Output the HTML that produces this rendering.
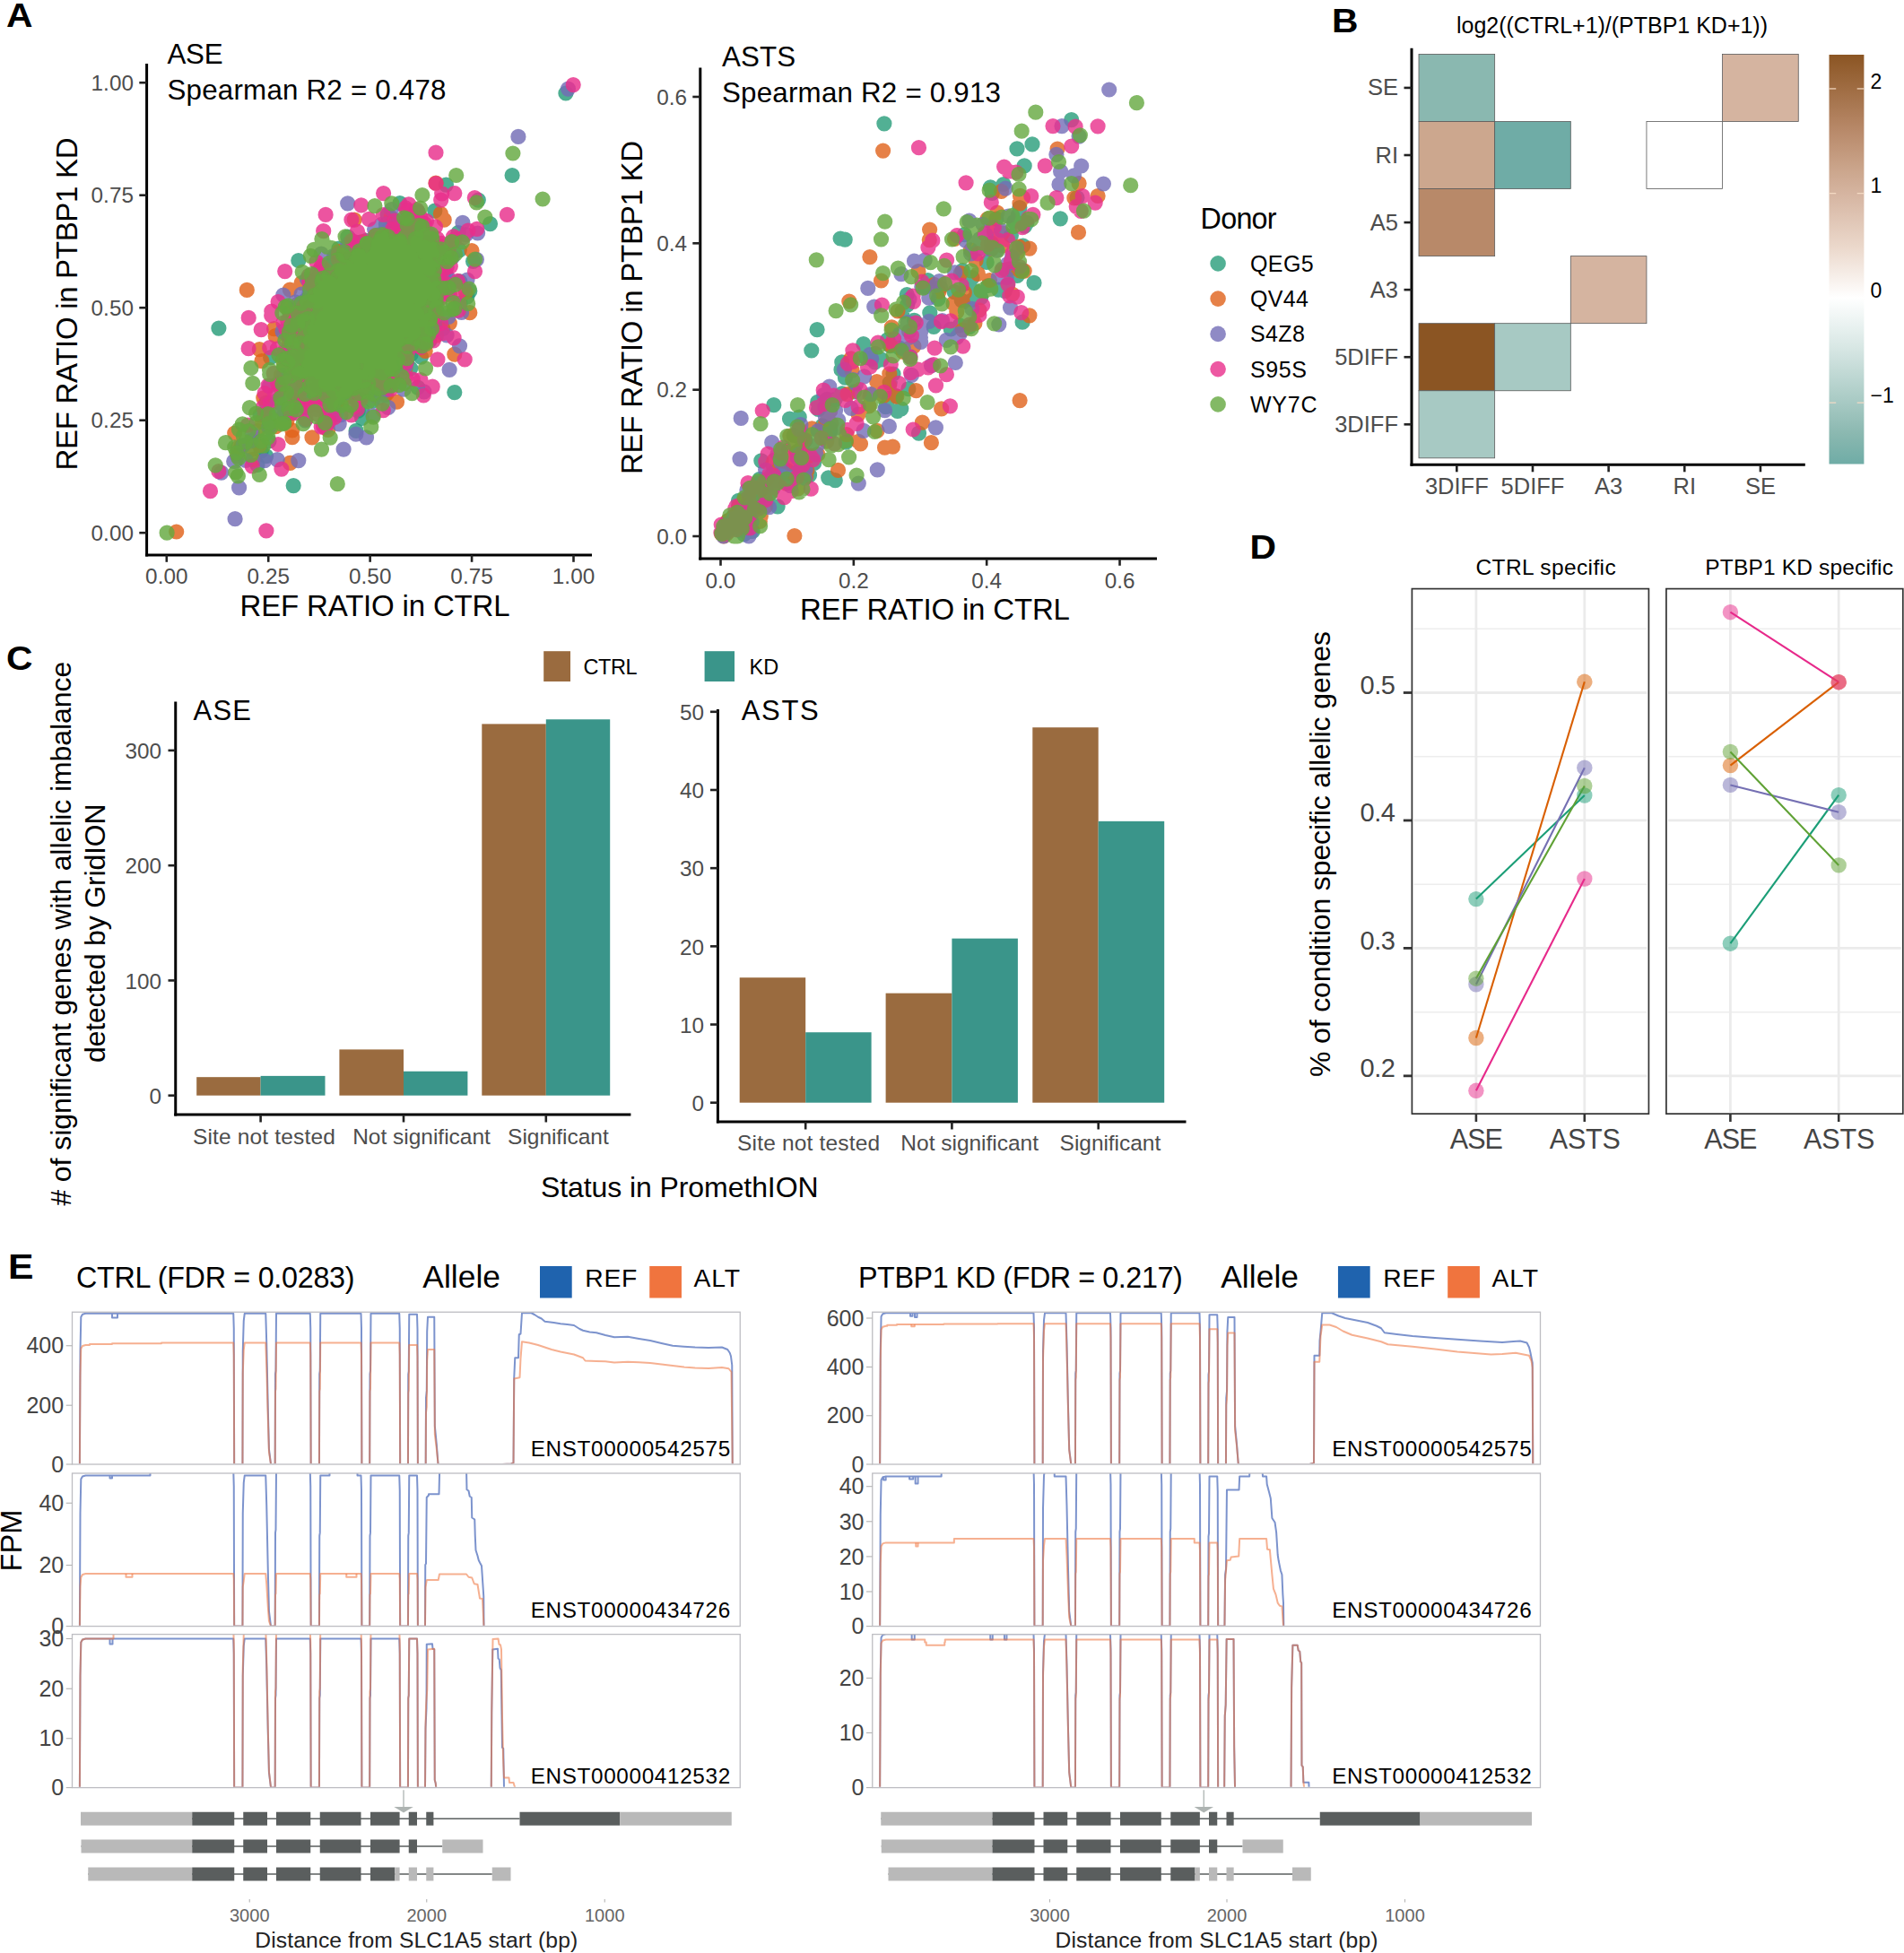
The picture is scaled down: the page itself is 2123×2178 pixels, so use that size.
<!DOCTYPE html>
<html><head><meta charset="utf-8"><title>Figure</title>
<style>html,body{margin:0;padding:0;background:#fff}svg{display:block}text{font-family:"Liberation Sans",sans-serif}</style>
</head><body>
<svg width="2123" height="2178" viewBox="0 0 2123 2178">
<rect width="2123" height="2178" fill="#fff"/>
<text x="7" y="29.5" font-size="37.5" font-weight="bold" textLength="29.5" lengthAdjust="spacingAndGlyphs" fill="#000">A</text>
<path d="M393.1 349.4h0M434.6 303.9h0M345.5 391.2h0M393.5 390.7h0M411.8 332.2h0M406.6 386.8h0M415.8 385.2h0M451.5 365.6h0M423.0 370.6h0M411.6 308.8h0M440.1 341.6h0M487.0 346.6h0M403.6 466.3h0M439.4 309.6h0M414.9 322.0h0M365.2 431.4h0M341.3 364.0h0M391.8 323.8h0M366.6 362.3h0M411.8 361.8h0M375.3 365.4h0M403.7 334.0h0M421.7 313.1h0M392.2 332.8h0M373.0 384.7h0M428.6 351.4h0M405.0 359.8h0M390.1 334.1h0M388.5 350.1h0M459.0 356.8h0M430.8 320.4h0M512.3 278.8h0M404.6 330.4h0M408.8 415.4h0M432.4 373.3h0M442.5 320.2h0M414.1 328.8h0M456.1 304.2h0M456.9 306.8h0M431.4 351.9h0M388.6 332.2h0M376.7 437.0h0M405.3 357.9h0M406.6 312.5h0M374.0 419.4h0M437.9 368.4h0M399.0 397.2h0M335.4 425.7h0M362.4 445.1h0M423.5 321.3h0M411.3 293.8h0M377.4 286.4h0M409.3 313.4h0M413.1 355.8h0M401.8 396.9h0M419.2 319.7h0M333.9 397.3h0M382.4 412.4h0M452.1 257.0h0M447.8 271.8h0M398.6 342.4h0M424.9 324.6h0M392.2 372.3h0M430.7 380.4h0M442.0 354.5h0M429.4 440.3h0M378.2 366.7h0M398.3 339.6h0M392.0 341.4h0M355.2 307.5h0M383.6 345.2h0M399.1 315.9h0M415.3 342.5h0M438.7 379.6h0M427.9 332.3h0M459.2 330.5h0M356.2 417.2h0M419.1 400.3h0M431.7 275.8h0M407.9 353.4h0M410.6 363.8h0M420.8 367.1h0M362.8 398.7h0M412.0 322.7h0M426.1 319.5h0M380.3 391.4h0M484.2 276.9h0M383.8 371.8h0M414.4 305.5h0M464.3 330.2h0M443.7 310.1h0M354.2 342.6h0M465.1 315.9h0M449.4 304.9h0M432.9 275.7h0M392.4 374.0h0M397.8 434.9h0M427.8 376.5h0M428.4 339.2h0M434.9 326.5h0M409.0 330.3h0M527.6 291.4h0M396.4 351.7h0M430.2 371.3h0M426.2 318.9h0M433.8 345.6h0M475.2 297.5h0M449.8 333.5h0M470.2 354.4h0M370.9 406.7h0M368.4 386.2h0M408.2 382.0h0M414.1 335.8h0M408.6 356.5h0M449.6 336.6h0M404.4 349.4h0M415.6 429.0h0M414.1 372.2h0M438.2 324.7h0M344.9 327.4h0M414.8 435.1h0M411.5 338.6h0M465.8 432.1h0M415.1 356.0h0M410.2 348.1h0M432.6 330.8h0M435.1 306.6h0M419.0 346.9h0M419.1 337.1h0M385.1 351.9h0M386.8 347.4h0M417.9 345.1h0M384.1 360.7h0M455.6 363.2h0M382.2 347.5h0M403.5 343.3h0M512.8 313.9h0M422.7 381.0h0M447.0 390.1h0M392.3 389.0h0M412.0 276.0h0M389.9 376.4h0M351.7 407.9h0M415.7 325.6h0M447.2 341.8h0M392.3 405.9h0M383.1 325.3h0M413.4 371.8h0M419.3 332.5h0M408.1 297.0h0M373.0 344.0h0M388.1 355.8h0M346.1 390.5h0M444.8 304.9h0M370.1 361.8h0M422.5 305.1h0M503.0 281.6h0M458.9 326.8h0M342.9 384.1h0M384.1 386.7h0M440.2 301.3h0M394.8 400.8h0M359.6 382.8h0M388.2 375.0h0M395.2 365.3h0M402.4 361.0h0M401.2 362.7h0M520.9 330.8h0M335.1 434.5h0M428.0 313.9h0M426.7 353.2h0M385.5 381.6h0M420.9 420.2h0M406.1 386.2h0M445.9 226.5h0M450.0 307.1h0M416.1 357.4h0M388.1 409.5h0M400.9 392.2h0M410.2 358.4h0M391.4 317.4h0M421.8 262.1h0M469.7 334.2h0M392.2 387.4h0M369.4 307.1h0M445.6 282.4h0M397.8 310.2h0M386.3 345.7h0M465.0 282.7h0M403.5 339.0h0M426.4 409.4h0M441.6 364.1h0M416.4 348.7h0M426.9 369.1h0M401.6 409.2h0M427.8 409.8h0M393.9 312.4h0M435.3 260.2h0M421.4 394.3h0M348.4 364.6h0M494.1 303.9h0M469.8 344.1h0M415.9 332.8h0M430.6 322.4h0M449.0 316.2h0M351.3 392.2h0M425.0 347.6h0M469.5 398.1h0M403.4 313.3h0M393.0 342.3h0M438.6 280.6h0M375.5 367.3h0M402.1 328.5h0M392.4 324.8h0M381.4 354.1h0M407.4 314.1h0M435.9 341.3h0M410.7 329.8h0M390.5 349.9h0M422.1 311.8h0M398.3 307.7h0M348.7 379.1h0M414.9 300.2h0M381.5 416.8h0M446.7 373.1h0M369.6 343.7h0M405.9 379.7h0M419.6 427.6h0M328.4 440.7h0M451.7 320.6h0M371.1 402.0h0M393.0 308.5h0M399.1 352.6h0M356.6 382.9h0M452.2 320.4h0M420.8 284.7h0M372.6 286.8h0M383.4 375.7h0M436.2 347.3h0M456.4 295.0h0M361.2 382.7h0M448.8 277.0h0M409.5 357.3h0M417.0 328.8h0M472.1 320.3h0M415.7 423.2h0M369.5 412.8h0M401.5 338.0h0M375.1 389.9h0M368.8 389.1h0M423.4 339.4h0M423.3 425.5h0M419.5 346.6h0M372.1 360.0h0M366.3 377.7h0M387.6 378.6h0M383.3 350.2h0M447.8 289.3h0M428.8 327.8h0M458.3 325.3h0M414.0 373.2h0M408.9 341.8h0M463.3 355.3h0M378.9 346.9h0M422.2 331.5h0M437.4 315.0h0M394.2 359.6h0M453.6 297.5h0M411.5 343.5h0M447.8 283.5h0M400.7 410.8h0M412.3 354.7h0M363.9 341.8h0M366.2 361.9h0M362.1 361.5h0M469.8 305.6h0M429.1 405.1h0M400.1 384.7h0M385.2 434.9h0M364.2 378.9h0M468.3 361.4h0M423.7 421.5h0M394.7 301.6h0M388.2 370.7h0M437.0 278.6h0M452.3 335.2h0M402.3 300.1h0M410.9 339.7h0M425.2 357.3h0M484.8 235.2h0M435.9 364.7h0M404.8 345.5h0M369.1 430.2h0M397.7 390.6h0M401.4 444.0h0M511.1 259.5h0M486.0 314.2h0M403.8 457.4h0M414.1 378.6h0M399.8 341.3h0M324.6 461.1h0M327.7 435.2h0M296.7 449.1h0M316.3 433.9h0" stroke="#279C79" stroke-width="17.2" stroke-linecap="round" fill="none" stroke-opacity="0.82"/>
<path d="M409.9 364.8h0M435.7 310.0h0M415.5 323.3h0M420.1 341.1h0M358.1 339.4h0M402.4 364.7h0M371.7 344.5h0M386.7 323.1h0M426.0 334.8h0M445.3 293.8h0M421.6 391.5h0M363.4 396.3h0M434.9 353.0h0M409.2 333.6h0M340.1 379.4h0M469.7 357.6h0M429.3 334.7h0M399.1 381.8h0M461.6 309.0h0M471.0 322.6h0M426.7 294.7h0M399.9 351.3h0M462.6 274.9h0M393.2 354.7h0M417.4 332.2h0M474.2 259.8h0M340.4 454.5h0M406.6 291.6h0M493.8 366.3h0M392.5 320.9h0M378.3 323.3h0M442.1 324.4h0M395.0 433.4h0M432.8 292.2h0M402.1 292.7h0M326.0 390.9h0M473.6 319.3h0M369.1 356.2h0M351.0 437.7h0M394.1 334.5h0M422.8 267.3h0M332.7 397.2h0M388.7 366.5h0M428.9 382.6h0M424.4 300.2h0M377.2 417.4h0M368.1 405.9h0M429.1 411.4h0M427.7 349.8h0M436.5 291.6h0M410.8 370.3h0M370.1 369.0h0M385.8 383.8h0M387.7 392.9h0M466.0 236.1h0M451.1 284.1h0M433.3 353.5h0M415.3 337.0h0M401.5 418.7h0M380.0 375.7h0M391.6 378.3h0M385.8 346.2h0M404.2 351.4h0M402.4 315.3h0M354.1 415.0h0M349.8 355.3h0M421.4 330.1h0M439.8 274.3h0M381.2 339.7h0M450.6 312.2h0M438.8 316.8h0M432.7 323.2h0M390.1 345.5h0M436.4 405.7h0M430.9 386.9h0M440.0 393.3h0M462.6 364.0h0M406.5 344.7h0M382.0 406.0h0M455.2 365.3h0M423.2 368.0h0M457.7 410.8h0M441.2 373.0h0M425.7 368.9h0M415.4 402.6h0M394.1 365.6h0M440.1 310.3h0M382.9 283.5h0M428.2 336.2h0M376.8 300.0h0M381.9 373.5h0M458.5 292.8h0M439.2 337.0h0M375.1 358.0h0M351.3 323.3h0M325.1 375.6h0M453.4 319.3h0M438.8 378.5h0M381.0 378.7h0M410.2 380.9h0M386.5 289.4h0M391.9 365.4h0M397.1 333.6h0M367.9 374.3h0M427.2 335.3h0M393.1 339.3h0M417.5 348.7h0M410.1 351.5h0M434.6 327.6h0M464.9 310.6h0M451.3 283.8h0M415.2 321.6h0M376.3 399.8h0M379.8 342.0h0M398.0 333.4h0M366.5 402.1h0M406.5 344.2h0M454.5 365.4h0M432.0 353.1h0M391.3 372.6h0M412.7 314.0h0M430.3 311.3h0M441.2 330.1h0M412.0 384.6h0M387.7 338.6h0M348.8 361.6h0M333.9 372.7h0M346.7 384.9h0M437.2 334.8h0M456.3 311.8h0M458.4 292.0h0M392.0 324.3h0M370.1 377.3h0M462.2 355.2h0M420.4 355.8h0M441.3 302.6h0M401.2 343.8h0M393.5 326.7h0M411.2 368.4h0M421.7 365.7h0M395.7 386.1h0M451.7 359.7h0M481.1 346.6h0M452.6 310.2h0M373.9 320.1h0M397.9 325.4h0M409.6 375.1h0M390.9 347.2h0M366.4 369.9h0M381.9 365.8h0M375.9 357.0h0M420.5 367.2h0M338.2 387.3h0M402.6 432.4h0M412.4 320.7h0M483.3 369.1h0M400.1 361.4h0M428.3 352.0h0M430.0 351.4h0M415.9 321.7h0M416.1 355.8h0M404.8 383.5h0M374.1 378.7h0M448.1 380.0h0M417.0 310.2h0M408.5 366.3h0M382.5 384.8h0M439.5 394.1h0M431.3 338.8h0M422.4 361.6h0M345.6 428.9h0M425.5 326.5h0M405.9 290.8h0M453.8 338.2h0M404.4 388.9h0M353.6 362.2h0M433.2 353.3h0M408.6 350.4h0M352.0 427.2h0M437.3 318.1h0M400.6 377.6h0M400.1 338.7h0M383.1 363.8h0M407.7 390.6h0M438.4 303.2h0M445.2 305.2h0M370.0 401.4h0M456.5 269.2h0M430.9 374.1h0M405.9 344.1h0M419.6 372.4h0M378.9 327.1h0M394.9 337.8h0M441.1 340.4h0M415.4 447.0h0M355.4 389.6h0M447.0 263.2h0M392.5 352.4h0M424.6 399.8h0M473.0 357.9h0M417.7 324.0h0M401.1 421.3h0M424.3 363.1h0M371.1 331.0h0M455.9 344.4h0M359.8 356.1h0M428.6 352.8h0M443.5 310.0h0M349.1 357.4h0M421.2 385.5h0M425.7 403.5h0M425.1 344.8h0M451.5 331.2h0M368.9 414.0h0M411.1 281.9h0M441.0 369.9h0M404.0 324.5h0M393.7 332.6h0M461.6 300.6h0M465.4 293.2h0M417.7 324.0h0M419.7 386.8h0M353.1 379.2h0M385.4 365.8h0M459.9 343.4h0M423.6 309.4h0M372.2 374.4h0M402.1 303.8h0M440.0 302.9h0M426.1 299.0h0M447.8 352.0h0M351.5 375.4h0M386.7 336.2h0M384.6 354.5h0M386.6 303.7h0M450.9 359.0h0M363.4 357.9h0M399.0 370.8h0M384.2 358.9h0M392.0 341.2h0M410.9 384.3h0M471.4 320.0h0M478.4 262.4h0M382.4 310.4h0M405.3 278.5h0M459.3 372.0h0M339.6 401.4h0M400.0 362.4h0M363.6 427.1h0M413.9 417.1h0M404.2 404.1h0M322.9 348.9h0M428.7 387.6h0M366.4 414.6h0M435.8 352.1h0M333.6 446.6h0M374.3 339.6h0M453.8 334.5h0M458.0 322.0h0M398.1 405.4h0M412.8 388.8h0M462.4 382.5h0M395.3 381.2h0M402.6 437.3h0M447.9 358.2h0M377.7 444.4h0M408.5 376.2h0M430.4 250.1h0M420.3 370.2h0M434.3 404.2h0M334.0 417.1h0M449.8 298.2h0M406.5 282.1h0M359.0 387.6h0M404.2 390.4h0M394.8 383.7h0M368.0 350.4h0M338.1 397.8h0M433.5 355.9h0M471.7 359.7h0M396.2 382.5h0M396.7 352.2h0M435.5 333.8h0M376.9 319.3h0M427.2 361.6h0M368.2 392.4h0M367.1 360.3h0M438.9 317.7h0M398.6 387.2h0M449.3 341.3h0M468.1 306.3h0M404.4 332.2h0M330.2 419.1h0M430.7 252.7h0M413.2 384.8h0M406.5 343.5h0M420.2 350.4h0M422.0 328.8h0M386.9 417.7h0M391.5 370.1h0M300.0 492.0h0M287.0 518.3h0M268.9 498.4h0" stroke="#279C79" stroke-width="17.2" stroke-linecap="round" fill="none" stroke-opacity="0.82"/>
<path d="M387.4 387.1h0M418.3 333.4h0M394.7 443.7h0M437.9 345.5h0M403.5 307.8h0M424.0 324.0h0M382.2 373.8h0M358.0 426.6h0M351.8 384.8h0M438.9 372.4h0M392.5 394.7h0M441.2 289.4h0M359.0 370.0h0M444.8 283.4h0M428.0 307.3h0M385.4 336.8h0M407.3 326.6h0M440.2 314.2h0M372.8 401.0h0M471.5 332.4h0M417.7 336.0h0M427.0 330.9h0M405.1 372.9h0M513.2 338.2h0M385.2 352.6h0M396.2 371.8h0M462.2 339.1h0M367.7 416.5h0M469.9 341.9h0M402.4 352.1h0M446.5 320.4h0M400.7 332.2h0M446.8 348.6h0M471.3 318.5h0M354.5 350.5h0M419.2 366.0h0M414.8 282.0h0M411.3 344.3h0M340.7 398.5h0M387.1 321.7h0M373.9 356.4h0M374.8 393.5h0M461.6 288.0h0M373.6 348.6h0M395.1 334.5h0M448.1 330.1h0M369.1 384.2h0M436.8 331.2h0M418.7 309.0h0M463.6 376.5h0M500.7 318.7h0M467.6 288.0h0M403.0 324.2h0M434.4 317.9h0M478.8 380.2h0M398.4 342.7h0M414.1 269.1h0M417.5 383.8h0M440.9 272.3h0M362.0 440.1h0M416.5 327.4h0M427.7 365.4h0M407.0 347.3h0M426.7 339.5h0M369.1 368.2h0M425.6 391.1h0M439.9 285.5h0M461.0 336.9h0M410.2 312.1h0M363.1 296.1h0M372.8 387.3h0M424.8 310.6h0M391.8 399.6h0M379.6 363.0h0M453.6 277.4h0M415.1 305.2h0M377.8 434.9h0M415.3 314.9h0M400.3 408.7h0M374.8 393.9h0M424.0 319.5h0M381.1 383.9h0M409.1 365.6h0M407.4 357.0h0M413.8 378.3h0M433.6 340.9h0M488.6 359.4h0M395.1 314.2h0M445.9 354.6h0M403.5 358.1h0M413.6 316.5h0M426.4 350.0h0M376.4 360.4h0M403.0 346.3h0M395.4 335.0h0M473.5 327.7h0M414.6 359.0h0M402.4 347.1h0M366.2 336.4h0M389.9 390.1h0M389.6 374.8h0M407.0 337.3h0M372.4 433.6h0M379.3 360.6h0M370.0 400.0h0M372.5 368.3h0M449.1 291.3h0M331.0 383.4h0M416.4 328.0h0M406.8 413.0h0M374.5 297.9h0M403.4 409.0h0M385.7 360.3h0M457.9 310.0h0M461.8 306.1h0M383.6 366.7h0M377.3 352.0h0M391.1 374.5h0M387.1 307.3h0M395.7 324.4h0M377.9 277.0h0M482.6 317.9h0M395.8 276.1h0M379.7 359.8h0M427.5 336.5h0M442.3 353.7h0M402.9 321.5h0M416.8 355.4h0M450.5 394.5h0M376.4 323.5h0M459.7 322.5h0M492.7 281.5h0M432.4 336.5h0M400.8 385.8h0M395.8 300.6h0M325.1 345.6h0M425.6 304.1h0M398.5 408.7h0M437.0 349.1h0M396.3 335.4h0M301.6 398.7h0M424.4 335.2h0M429.8 318.7h0M443.7 328.7h0M426.4 338.5h0M412.7 325.6h0M435.0 318.8h0M444.0 362.5h0M408.7 367.1h0M340.4 335.0h0M523.8 324.6h0M471.4 274.9h0M390.8 367.8h0M430.5 295.2h0M350.5 434.7h0M405.8 335.1h0M444.7 329.0h0M428.3 359.0h0M397.2 324.1h0M441.2 404.1h0M426.2 350.1h0M364.4 378.1h0M446.4 299.3h0M389.6 368.5h0M425.4 307.8h0M438.3 391.2h0M428.5 336.2h0M387.8 264.2h0M469.6 376.2h0M438.3 338.3h0M401.7 328.8h0M408.2 268.3h0M421.5 302.7h0M376.8 433.1h0M431.5 357.6h0M389.2 366.5h0M399.2 458.2h0M424.2 329.2h0M414.3 323.5h0M420.6 313.7h0M402.2 394.4h0M429.0 294.1h0M450.1 299.1h0M466.1 311.3h0M384.7 363.7h0M429.3 336.9h0M428.4 353.8h0M449.7 370.3h0M429.8 374.5h0M358.1 351.7h0M387.8 392.6h0M433.2 330.2h0M454.0 401.7h0M372.8 302.4h0M348.7 408.3h0M394.9 384.8h0M411.0 342.1h0M417.7 339.8h0M435.6 297.8h0M448.4 271.1h0M413.0 340.4h0M405.8 382.0h0M379.2 347.1h0M380.6 358.4h0M436.0 311.8h0M393.8 377.4h0M429.8 327.4h0M356.7 410.4h0M359.7 308.7h0M424.8 294.9h0M404.4 386.6h0M418.2 347.7h0M339.1 374.4h0M438.9 378.4h0M412.2 408.4h0M417.9 308.0h0M429.6 406.6h0M394.9 372.6h0M440.7 249.4h0M427.6 375.7h0M401.3 354.3h0M404.4 393.0h0M447.4 331.6h0M439.0 403.3h0M406.7 391.6h0M449.5 370.4h0M402.5 390.4h0M434.3 364.1h0M408.9 289.4h0M373.5 411.8h0M325.6 395.9h0M432.1 239.3h0M438.9 313.2h0M386.8 309.4h0M386.4 360.7h0M368.9 389.3h0M465.0 357.3h0M439.6 350.6h0M388.2 364.8h0M378.9 341.8h0M478.2 306.5h0M417.2 280.4h0M410.2 377.8h0M391.7 352.6h0M392.1 419.3h0M396.9 304.7h0M394.0 381.5h0M392.3 367.3h0M464.6 283.1h0M374.8 361.5h0M444.9 299.3h0M378.4 391.9h0M347.3 353.5h0M398.0 321.1h0M441.5 352.1h0M409.4 414.3h0M401.9 416.8h0M428.8 317.8h0M410.8 413.3h0M421.9 391.3h0M420.3 358.6h0M410.1 385.0h0M381.5 342.6h0M437.5 300.0h0M448.2 328.6h0M445.8 314.5h0M410.6 344.3h0M439.9 270.4h0M420.8 365.7h0M416.8 360.8h0M358.8 301.7h0M422.4 352.3h0M399.6 362.2h0M415.1 284.9h0M349.7 373.4h0M464.0 244.3h0M469.8 291.6h0M358.3 367.1h0M432.9 323.6h0M453.9 277.8h0M469.8 342.5h0M372.7 420.7h0M394.1 410.0h0M439.4 362.1h0M375.6 435.6h0M405.8 330.3h0M368.3 371.0h0M425.9 295.0h0M405.0 358.2h0M395.9 381.6h0M486.7 359.9h0M415.4 337.8h0M423.1 344.0h0M383.9 327.2h0M390.5 366.3h0M391.5 333.4h0M450.2 368.8h0M458.1 395.2h0M420.2 315.8h0M400.9 338.3h0M296.7 508.6h0M290.1 462.8h0M300.3 462.7h0" stroke="#279C79" stroke-width="17.2" stroke-linecap="round" fill="none" stroke-opacity="0.82"/>
<path d="M630.9 104.0h0M571.1 195.5h0M497.4 206.1h0M533.3 223.1h0M546.5 249.6h0M243.9 366.1h0M506.8 437.6h0M327.2 541.6h0M291.2 503.0h0M397.1 480.3h0M332.8 290.5h0" stroke="#279C79" stroke-width="17.2" stroke-linecap="round" fill="none" stroke-opacity="0.82"/>
<path d="M410.6 322.3h0M346.5 342.6h0M412.1 374.3h0M307.1 374.5h0M422.4 345.4h0M436.2 356.7h0M403.7 316.7h0M401.7 294.7h0M398.2 396.7h0M448.5 357.8h0M415.0 359.4h0M405.1 356.7h0M398.4 290.8h0M444.9 308.2h0M469.3 359.0h0M450.5 270.6h0M405.5 358.5h0M374.8 314.3h0M446.6 301.4h0M464.3 336.4h0M398.0 344.0h0M413.2 303.0h0M374.2 365.0h0M432.1 363.2h0M472.0 366.5h0M487.6 285.1h0M401.0 365.0h0M466.1 298.6h0M419.5 347.4h0M358.1 438.2h0M438.0 328.6h0M450.3 317.3h0M414.2 330.3h0M428.8 300.7h0M395.3 304.5h0M389.0 346.5h0M436.1 317.3h0M336.1 315.5h0M447.0 340.5h0M417.7 322.7h0M361.1 358.0h0M438.7 387.4h0M428.6 340.5h0M335.1 438.6h0M399.9 389.2h0M366.2 368.7h0M378.8 388.1h0M403.6 367.8h0M432.7 331.6h0M388.0 397.1h0M378.0 394.8h0M330.8 361.7h0M365.6 371.9h0M362.6 385.5h0M407.7 321.0h0M463.6 327.8h0M410.5 321.2h0M402.4 402.5h0M349.0 383.8h0M452.9 347.7h0M378.5 327.2h0M414.9 328.2h0M361.8 419.5h0M430.5 364.2h0M437.1 265.0h0M454.4 268.3h0M404.6 344.7h0M435.3 354.4h0M392.6 329.5h0M355.7 408.2h0M436.9 325.5h0M397.6 357.0h0M404.3 325.4h0M410.7 294.8h0M345.8 399.1h0M324.0 378.0h0M392.7 365.1h0M384.9 357.2h0M376.1 395.8h0M394.4 384.9h0M366.3 346.3h0M400.5 347.4h0M385.3 338.0h0M414.7 320.2h0M359.2 378.7h0M406.5 374.9h0M417.0 339.8h0M430.7 317.7h0M420.2 371.1h0M464.6 350.2h0M427.0 321.7h0M418.5 359.2h0M399.7 345.2h0M442.6 392.7h0M369.0 377.6h0M428.3 403.4h0M393.1 380.0h0M394.8 347.7h0M381.0 390.1h0M414.6 302.9h0M406.4 300.2h0M418.0 318.5h0M396.8 304.0h0M390.0 355.2h0M434.9 287.5h0M388.1 366.1h0M395.5 440.2h0M454.1 286.1h0M484.3 343.5h0M390.9 349.7h0M346.4 367.7h0M456.9 356.0h0M410.3 320.7h0M320.5 417.9h0M411.4 352.6h0M373.8 332.7h0M414.1 415.3h0M392.5 387.3h0M480.5 284.2h0M420.5 352.7h0M448.7 319.6h0M426.7 326.5h0M365.5 363.4h0M416.2 326.1h0M401.5 342.2h0M391.1 318.5h0M396.8 357.8h0M420.5 359.8h0M389.1 359.6h0M418.6 355.5h0M400.2 327.7h0M454.2 338.3h0M356.1 354.3h0M451.4 405.6h0M370.9 420.8h0M401.8 317.4h0M428.4 280.3h0M391.2 357.3h0M416.0 346.3h0M417.7 352.9h0M391.8 369.0h0M425.6 315.2h0M407.7 318.5h0M447.7 304.4h0M423.0 329.0h0M382.6 328.4h0M376.3 418.4h0M383.1 356.8h0M363.1 338.4h0M388.3 390.5h0M380.6 381.3h0M467.4 279.1h0M409.4 338.1h0M441.6 328.6h0M362.7 468.5h0M431.7 305.1h0M409.1 323.3h0M387.2 429.7h0M405.5 366.8h0M401.9 311.7h0M359.6 348.1h0M431.5 310.1h0M400.6 381.3h0M420.7 339.6h0M410.5 330.9h0M378.9 401.7h0M424.0 367.5h0M474.2 391.4h0M411.1 345.6h0M432.2 326.9h0M433.9 304.2h0M411.4 328.0h0M428.3 360.8h0M440.8 359.7h0M437.7 293.7h0M332.2 392.2h0M387.5 332.5h0M323.3 323.1h0M437.1 343.7h0M345.7 419.3h0M376.5 433.2h0M431.7 346.0h0M436.9 244.7h0M418.1 326.6h0M436.7 405.8h0M412.3 359.4h0M491.4 238.3h0M415.3 310.9h0M396.2 367.6h0M377.8 280.4h0M402.1 344.5h0M405.5 351.8h0M431.0 439.2h0M316.9 405.8h0M413.4 347.2h0M385.0 358.8h0M421.5 344.9h0M332.2 339.1h0M365.7 479.5h0M422.2 378.2h0M402.7 398.5h0M359.4 399.8h0M452.8 323.5h0M404.1 288.1h0M420.4 348.2h0M410.9 323.4h0M396.0 362.4h0M354.1 407.1h0M391.0 377.8h0M398.0 312.5h0M387.9 349.0h0M400.2 320.0h0M377.8 374.9h0M437.1 355.9h0M461.0 302.8h0M430.2 368.8h0M444.7 300.8h0M343.4 415.4h0M415.2 406.5h0M449.1 377.4h0M415.5 333.7h0M423.7 382.5h0M464.4 287.6h0M495.2 245.2h0M452.8 342.6h0M471.2 335.7h0M387.3 387.6h0M428.8 356.0h0M385.3 389.6h0M369.3 334.5h0M340.9 403.5h0M423.3 347.9h0M442.5 360.2h0M428.2 350.0h0M471.8 380.3h0M414.0 369.2h0M391.2 343.6h0M441.3 334.0h0M401.4 354.4h0M425.5 306.3h0M426.1 351.3h0M386.4 341.0h0M348.9 415.6h0M361.9 318.8h0M377.8 454.4h0M376.3 350.7h0M400.1 347.4h0M395.8 394.9h0M417.5 300.9h0M403.7 269.5h0M411.2 334.5h0M420.0 307.1h0M401.4 320.3h0M349.7 423.8h0M382.8 411.4h0M435.2 313.0h0M398.3 379.8h0M385.4 322.6h0M437.1 354.9h0M445.5 325.1h0M413.1 369.5h0M325.8 349.3h0M463.3 379.6h0M467.2 345.2h0M459.0 306.7h0M468.0 322.1h0M463.6 354.2h0M427.2 337.9h0M399.8 335.0h0M420.1 400.9h0M474.0 303.8h0M367.6 352.9h0M423.4 333.1h0M388.6 351.1h0M422.0 319.1h0M422.3 292.1h0M441.8 324.1h0M369.5 368.3h0M428.8 351.1h0M349.7 400.8h0M450.6 342.0h0M434.2 295.1h0M405.1 387.6h0M318.5 371.5h0M354.1 394.5h0M393.9 349.7h0M405.2 363.0h0M428.2 364.9h0M452.4 361.3h0M396.1 342.6h0M414.9 305.8h0M400.8 349.0h0M404.7 323.5h0M418.5 320.2h0M388.2 287.5h0M393.6 348.1h0M426.2 366.2h0M405.9 380.3h0M332.3 362.9h0M440.4 379.4h0M319.9 469.4h0M289.2 496.6h0M265.0 499.4h0M293.8 443.8h0" stroke="#E0621A" stroke-width="17.2" stroke-linecap="round" fill="none" stroke-opacity="0.82"/>
<path d="M439.1 349.3h0M436.1 242.4h0M384.5 376.5h0M477.1 272.7h0M422.7 371.3h0M410.6 348.4h0M434.8 337.4h0M418.2 368.9h0M394.5 340.9h0M406.8 340.0h0M436.3 355.8h0M450.1 329.6h0M390.2 355.8h0M369.6 381.9h0M363.2 346.0h0M449.4 318.7h0M433.4 329.6h0M421.6 333.8h0M389.8 399.1h0M421.9 330.9h0M391.5 360.2h0M421.5 363.1h0M449.2 348.7h0M394.6 330.9h0M467.1 359.5h0M390.4 329.8h0M369.6 378.5h0M458.9 316.5h0M407.7 379.9h0M404.5 380.1h0M369.9 340.8h0M385.2 333.1h0M383.4 340.7h0M454.0 348.4h0M368.9 386.8h0M393.9 320.0h0M435.1 345.4h0M364.5 334.7h0M429.8 311.6h0M464.5 304.3h0M393.2 426.6h0M434.2 370.9h0M413.5 349.9h0M391.9 392.0h0M373.3 380.7h0M379.9 361.9h0M405.3 323.4h0M441.1 332.4h0M334.3 399.2h0M470.3 315.0h0M416.5 382.4h0M415.6 391.2h0M374.6 432.6h0M437.5 319.5h0M469.1 291.8h0M501.3 360.3h0M377.6 393.3h0M305.6 366.7h0M367.2 340.7h0M412.0 373.4h0M325.8 479.8h0M420.3 359.2h0M393.1 421.6h0M422.1 375.8h0M395.8 387.6h0M370.6 451.6h0M478.1 305.7h0M380.7 451.0h0M419.7 369.3h0M399.3 337.6h0M400.7 370.2h0M424.1 278.7h0M405.9 344.7h0M421.3 319.2h0M426.8 354.9h0M383.4 281.6h0M418.7 372.8h0M403.1 377.9h0M371.2 324.5h0M395.7 356.6h0M423.7 300.2h0M389.8 346.8h0M470.6 319.2h0M448.1 294.0h0M417.3 373.2h0M430.3 264.6h0M409.6 327.5h0M407.8 374.3h0M358.2 386.8h0M402.9 347.3h0M427.9 281.3h0M418.6 381.2h0M445.9 323.4h0M403.5 392.7h0M428.4 339.0h0M383.7 328.9h0M429.3 313.7h0M426.4 393.0h0M442.3 328.4h0M353.0 350.9h0M396.5 394.8h0M387.7 355.4h0M393.9 363.6h0M413.0 344.9h0M450.6 309.8h0M407.4 355.7h0M409.7 378.2h0M437.0 349.4h0M406.0 290.8h0M437.1 352.4h0M405.4 344.3h0M494.4 308.8h0M403.8 367.0h0M414.5 339.4h0M473.1 346.9h0M381.9 388.6h0M431.3 340.4h0M406.9 338.0h0M501.6 329.0h0M416.2 396.2h0M408.6 381.6h0M415.5 386.5h0M367.6 375.2h0M454.1 333.2h0M391.5 379.4h0M421.8 303.8h0M342.2 400.0h0M458.6 297.5h0M452.8 314.1h0M394.2 328.9h0M421.8 380.5h0M480.8 310.0h0M420.0 411.6h0M414.5 358.4h0M432.1 261.6h0M452.2 349.1h0M402.5 310.2h0M452.9 337.7h0M392.1 352.1h0M400.2 291.0h0M442.7 347.7h0M383.5 294.2h0M367.9 389.8h0M404.0 350.8h0M412.8 377.8h0M347.1 444.7h0M469.1 333.9h0M464.5 369.7h0M431.0 377.1h0M428.4 315.0h0M397.2 335.2h0M374.1 380.3h0M386.8 344.0h0M456.3 323.0h0M353.1 361.0h0M438.4 337.8h0M417.6 370.9h0M409.1 374.9h0M468.6 362.8h0M459.3 335.8h0M408.6 387.9h0M441.9 296.4h0M405.0 355.5h0M395.4 413.4h0M420.0 357.7h0M379.9 408.1h0M430.2 397.5h0M383.4 372.8h0M364.2 396.1h0M419.3 358.7h0M397.2 375.6h0M448.6 401.4h0M446.9 313.0h0M345.0 345.7h0M340.7 384.0h0M458.0 314.6h0M399.8 334.7h0M393.8 316.2h0M446.7 387.1h0M408.8 297.6h0M386.8 293.0h0M519.4 325.8h0M471.8 272.3h0M412.8 364.8h0M418.5 342.5h0M389.7 376.2h0M350.0 342.2h0M403.1 300.8h0M371.8 356.7h0M466.3 330.8h0M437.6 304.7h0M420.3 396.5h0M464.7 334.6h0M376.2 363.8h0M386.2 440.6h0M405.9 335.9h0M417.5 377.7h0M458.4 293.4h0M387.4 318.1h0M375.2 402.1h0M391.0 315.8h0M380.6 392.7h0M378.7 396.2h0M363.3 391.6h0M345.4 373.1h0M421.3 313.6h0M291.9 402.6h0M422.2 360.9h0M379.4 359.2h0M423.1 326.1h0M424.1 350.6h0M446.7 364.7h0M420.4 373.6h0M364.9 367.6h0M360.0 365.1h0M380.4 394.4h0M373.9 383.0h0M370.7 379.5h0M400.3 355.5h0M416.3 323.3h0M436.0 375.4h0M442.4 290.7h0M429.5 345.3h0M392.0 339.6h0M381.5 388.1h0M435.9 346.2h0M372.6 384.6h0M454.7 324.5h0M393.5 385.7h0M447.4 360.9h0M432.1 308.8h0M402.2 375.7h0M415.9 401.0h0M434.1 337.0h0M359.3 379.4h0M442.1 290.2h0M396.5 385.6h0M428.7 349.6h0M361.2 367.3h0M426.4 376.6h0M526.0 279.5h0M433.0 373.9h0M394.6 400.2h0M433.6 348.5h0M333.0 357.5h0M379.5 317.1h0M401.4 368.4h0M439.7 305.2h0M378.5 355.5h0M350.7 350.0h0M427.5 345.1h0M408.5 307.7h0M405.1 335.6h0M475.4 263.9h0M384.9 310.5h0M388.2 381.1h0M387.3 420.2h0M419.4 341.4h0M442.3 357.0h0M395.4 358.4h0M392.7 352.3h0M462.5 290.2h0M438.1 378.5h0M432.3 287.5h0M420.3 361.9h0M466.4 351.0h0M439.0 342.8h0M467.2 298.1h0M386.1 371.4h0M349.6 375.9h0M395.5 358.3h0M466.3 349.3h0M440.5 356.1h0M346.8 360.7h0M420.7 382.4h0M453.4 279.2h0M380.3 297.9h0M449.9 317.7h0M409.7 351.7h0M392.3 332.4h0M331.7 375.5h0M325.0 415.1h0M371.1 406.2h0M449.3 276.2h0M466.4 327.8h0M480.8 293.3h0M352.8 374.7h0M386.7 391.1h0M322.1 380.7h0M378.3 425.1h0M430.8 344.2h0M383.9 342.1h0M432.9 333.8h0M376.1 365.4h0M346.4 401.7h0M433.5 371.4h0M335.5 367.2h0M417.1 355.1h0M394.0 338.5h0M347.1 385.4h0M307.4 475.7h0M281.9 512.4h0M261.7 483.1h0" stroke="#E0621A" stroke-width="17.2" stroke-linecap="round" fill="none" stroke-opacity="0.82"/>
<path d="M407.6 310.9h0M454.0 267.3h0M396.5 338.6h0M420.9 318.0h0M416.0 345.1h0M448.4 351.0h0M400.6 372.4h0M417.4 333.7h0M395.3 412.1h0M426.7 374.8h0M474.4 346.3h0M437.2 343.1h0M364.7 363.4h0M422.8 289.4h0M352.9 370.6h0M376.7 395.1h0M407.8 335.7h0M416.4 370.3h0M415.0 364.3h0M375.2 390.4h0M382.8 429.7h0M482.1 354.9h0M327.5 387.0h0M313.6 418.1h0M435.9 303.5h0M405.3 386.8h0M424.8 330.6h0M469.6 363.1h0M414.1 377.0h0M382.2 389.9h0M421.1 298.7h0M396.6 372.2h0M391.2 342.5h0M384.2 408.3h0M399.6 394.7h0M364.6 367.1h0M386.5 396.4h0M410.3 337.6h0M354.7 391.1h0M410.9 318.2h0M446.5 354.3h0M449.8 369.4h0M439.6 372.5h0M461.0 375.4h0M422.1 371.9h0M459.9 372.8h0M413.8 302.5h0M471.7 345.8h0M419.0 339.6h0M325.9 487.6h0M365.7 359.0h0M422.4 312.4h0M448.1 316.9h0M364.5 420.0h0M397.1 368.1h0M446.6 336.6h0M406.1 330.8h0M409.1 361.8h0M434.8 320.9h0M373.1 394.2h0M392.6 391.6h0M417.8 326.5h0M413.5 344.5h0M408.2 323.9h0M377.2 377.0h0M362.9 385.1h0M347.9 340.9h0M338.0 433.7h0M352.2 338.6h0M389.0 354.8h0M386.3 388.2h0M385.8 354.1h0M411.8 382.5h0M426.8 350.5h0M357.7 358.6h0M389.9 375.9h0M456.7 329.2h0M427.8 345.7h0M359.8 369.3h0M401.8 286.2h0M371.0 359.1h0M421.0 289.8h0M478.9 326.4h0M411.7 383.1h0M440.6 347.6h0M436.0 387.4h0M383.3 343.4h0M451.7 348.7h0M408.9 350.9h0M455.5 343.6h0M385.0 289.1h0M445.7 389.0h0M463.3 315.7h0M442.8 290.1h0M416.8 355.9h0M456.3 307.9h0M387.0 363.4h0M397.8 334.0h0M353.8 333.3h0M373.2 416.4h0M452.1 381.4h0M426.5 318.7h0M376.3 348.3h0M460.4 294.9h0M422.4 305.2h0M460.4 321.1h0M400.3 339.4h0M401.4 305.4h0M461.3 351.8h0M367.5 361.9h0M384.1 406.4h0M375.4 390.5h0M414.4 369.5h0M388.2 366.8h0M437.1 362.7h0M376.3 352.2h0M381.5 340.7h0M376.8 348.1h0M456.0 310.7h0M375.4 339.1h0M343.5 356.1h0M432.7 292.2h0M391.2 390.5h0M429.6 272.8h0M371.9 392.8h0M404.4 367.0h0M376.1 412.5h0M432.6 276.3h0M423.2 358.4h0M446.8 302.0h0M458.7 331.8h0M406.4 294.0h0M417.6 313.4h0M405.1 368.8h0M413.4 376.3h0M412.3 342.7h0M370.9 334.5h0M423.3 407.5h0M351.7 421.3h0M415.3 383.4h0M457.2 337.2h0M406.1 362.6h0M378.0 363.3h0M313.6 433.9h0M383.0 333.5h0M418.3 341.9h0M403.0 404.5h0M462.1 313.7h0M406.0 385.8h0M320.3 343.3h0M392.8 352.9h0M394.8 384.4h0M429.1 382.0h0M420.6 325.7h0M340.8 395.9h0M405.9 346.8h0M387.1 361.5h0M452.0 410.4h0M393.1 351.8h0M434.4 336.0h0M414.7 380.5h0M373.8 351.1h0M455.0 322.6h0M396.7 350.3h0M440.9 355.7h0M399.7 386.2h0M430.8 362.8h0M348.6 438.8h0M432.6 364.4h0M423.9 330.6h0M443.0 327.1h0M410.1 342.2h0M406.2 385.3h0M427.6 286.8h0M436.1 300.0h0M399.5 331.5h0M440.3 376.3h0M410.5 279.7h0M388.2 339.6h0M396.4 394.3h0M352.3 362.5h0M404.4 348.8h0M412.6 291.5h0M339.2 354.3h0M381.4 309.8h0M394.1 361.5h0M419.5 306.0h0M413.6 290.9h0M442.6 331.8h0M395.9 341.6h0M365.9 373.8h0M381.7 399.5h0M379.9 364.8h0M391.0 361.0h0M382.8 324.8h0M466.6 346.4h0M407.4 397.1h0M449.7 344.7h0M428.0 371.5h0M414.3 379.9h0M362.5 314.5h0M402.8 336.5h0M431.8 354.4h0M475.2 353.7h0M425.5 352.7h0M444.0 359.8h0M419.4 383.9h0M415.2 381.9h0M403.9 353.0h0M420.9 371.8h0M401.4 425.2h0M400.2 353.6h0M360.0 376.8h0M433.0 336.6h0M398.6 350.4h0M469.0 322.9h0M443.3 349.1h0M358.9 417.7h0M416.7 392.3h0M441.3 277.3h0M441.9 291.5h0M364.3 377.5h0M372.5 351.1h0M388.1 346.9h0M428.7 317.5h0M407.2 341.2h0M395.6 388.7h0M429.1 316.8h0M368.8 324.8h0M332.5 415.1h0M409.2 362.6h0M454.9 323.5h0M392.1 344.2h0M415.8 333.0h0M365.6 311.2h0M454.3 277.5h0M398.9 373.5h0M486.5 374.2h0M392.6 318.9h0M412.7 366.9h0M452.1 320.6h0M425.6 340.7h0M418.4 328.9h0M419.3 345.2h0M410.4 362.2h0M402.0 292.9h0M372.6 419.5h0M428.8 293.5h0M411.2 371.6h0M449.4 339.3h0M373.8 392.9h0M383.4 384.5h0M375.2 306.1h0M356.6 409.1h0M410.9 322.6h0M424.9 344.8h0M414.5 360.6h0M397.5 410.3h0M415.5 347.7h0M380.6 316.6h0M404.1 329.7h0M373.7 387.9h0M397.6 309.1h0M391.0 353.1h0M482.6 353.5h0M395.2 393.3h0M450.9 315.4h0M372.9 313.7h0M344.9 424.0h0M450.4 365.5h0M408.5 419.4h0M443.4 310.1h0M398.0 394.4h0M403.6 383.0h0M412.0 414.5h0M405.7 325.2h0M389.0 433.8h0M430.1 329.3h0M400.7 270.5h0M425.6 300.5h0M461.9 328.8h0M361.1 361.2h0M451.3 329.7h0M417.8 391.8h0M415.5 356.0h0M414.0 301.6h0M407.6 380.9h0M455.9 305.2h0M427.8 393.4h0M434.8 359.7h0M420.8 364.4h0M493.4 274.8h0M378.3 347.5h0M436.1 327.8h0M402.8 415.9h0M380.3 409.4h0M389.7 381.7h0M449.9 352.8h0M433.3 300.7h0M418.8 317.2h0M321.8 455.9h0M280.6 501.1h0M292.4 470.3h0" stroke="#E0621A" stroke-width="17.2" stroke-linecap="round" fill="none" stroke-opacity="0.82"/>
<path d="M486.0 204.2h0M395.2 245.1h0M275.3 323.4h0M523.8 348.7h0M506.8 395.2h0M442.5 448.2h0M323.4 516.3h0M264.8 508.7h0M196.7 593.0h0M289.3 389.6h0M287.4 480.3h0M348.0 487.9h0" stroke="#E0621A" stroke-width="17.2" stroke-linecap="round" fill="none" stroke-opacity="0.82"/>
<path d="M460.9 372.7h0M486.8 316.4h0M419.0 289.9h0M388.7 426.2h0M422.5 443.4h0M439.3 349.7h0M432.6 307.0h0M417.6 322.0h0M386.3 302.4h0M454.4 283.9h0M401.0 413.5h0M379.7 299.4h0M422.4 337.9h0M423.1 382.6h0M396.5 299.5h0M403.3 326.4h0M487.9 290.4h0M466.2 277.3h0M408.0 300.1h0M337.7 362.4h0M411.2 286.7h0M350.3 409.8h0M401.4 328.8h0M444.6 315.9h0M411.2 344.5h0M466.2 352.4h0M426.5 314.8h0M402.2 328.7h0M414.8 324.4h0M397.3 360.1h0M416.4 405.4h0M417.4 267.2h0M394.6 325.7h0M421.1 333.4h0M368.6 298.5h0M438.2 334.5h0M461.7 301.5h0M429.9 279.7h0M371.3 425.3h0M416.0 337.1h0M414.6 355.5h0M409.5 376.2h0M395.4 352.8h0M380.9 358.0h0M413.1 352.6h0M380.7 392.1h0M439.9 394.0h0M421.2 415.9h0M355.8 390.7h0M424.9 306.7h0M514.6 348.4h0M429.8 323.5h0M461.4 381.8h0M368.4 343.4h0M373.7 406.6h0M430.1 434.8h0M432.0 322.1h0M420.9 400.6h0M449.9 292.1h0M389.7 410.3h0M413.6 343.8h0M460.6 303.9h0M381.1 342.7h0M442.7 329.1h0M471.5 341.0h0M431.4 340.4h0M411.6 333.6h0M405.0 341.2h0M355.1 362.8h0M397.5 369.1h0M426.5 363.0h0M406.7 393.9h0M406.2 344.9h0M417.2 330.3h0M413.5 335.8h0M423.2 321.9h0M426.9 347.8h0M434.3 345.3h0M416.8 360.4h0M393.0 354.2h0M409.6 395.2h0M390.6 322.6h0M467.3 307.5h0M389.6 316.4h0M391.1 364.5h0M356.5 376.2h0M341.8 440.0h0M432.0 350.7h0M378.8 347.5h0M407.8 283.2h0M378.9 414.5h0M411.2 330.4h0M400.2 336.3h0M412.9 422.2h0M458.8 262.1h0M477.5 289.6h0M409.7 395.1h0M470.9 368.7h0M398.8 376.5h0M370.7 407.8h0M416.9 412.9h0M409.2 374.4h0M433.5 331.2h0M426.5 373.1h0M400.2 328.9h0M432.7 296.9h0M388.6 366.0h0M321.1 374.0h0M438.5 427.8h0M452.2 355.0h0M444.7 304.9h0M404.4 297.4h0M416.5 344.1h0M371.1 351.2h0M419.3 333.9h0M371.0 319.5h0M455.8 321.3h0M420.0 370.5h0M398.1 300.7h0M412.5 396.9h0M406.7 379.5h0M451.0 288.8h0M390.6 437.0h0M410.2 324.6h0M433.9 359.4h0M415.0 337.8h0M388.1 370.2h0M426.6 384.5h0M386.3 375.9h0M431.6 399.2h0M406.5 369.5h0M480.2 279.3h0M441.5 283.1h0M445.3 246.0h0M414.6 335.3h0M403.6 292.0h0M426.7 335.2h0M328.6 428.9h0M419.2 363.4h0M385.8 351.7h0M440.2 346.1h0M344.2 389.1h0M386.9 437.3h0M388.6 334.6h0M376.5 295.1h0M368.1 301.8h0M433.2 354.8h0M388.7 386.2h0M429.7 344.5h0M455.7 270.4h0M461.8 377.0h0M403.2 350.3h0M422.5 365.7h0M368.7 342.0h0M350.1 339.1h0M379.1 393.7h0M377.7 357.6h0M443.4 298.8h0M361.4 421.0h0M430.3 356.5h0M437.7 416.8h0M401.7 309.7h0M448.5 305.5h0M454.0 387.8h0M347.5 426.8h0M399.1 373.2h0M393.0 335.9h0M436.8 317.9h0M393.3 373.8h0M433.9 395.0h0M422.0 343.5h0M452.0 364.9h0M355.2 351.6h0M403.2 384.6h0M374.6 345.2h0M335.0 431.0h0M409.2 337.0h0M377.3 371.3h0M408.4 355.3h0M446.5 329.4h0M452.0 408.7h0M388.7 412.0h0M407.5 334.3h0M372.9 388.6h0M460.9 317.9h0M430.6 360.2h0M391.1 382.2h0M427.9 326.0h0M426.6 319.2h0M360.8 440.9h0M449.0 392.2h0M374.8 462.3h0M426.6 391.6h0M420.1 442.3h0M395.4 336.3h0M407.3 331.4h0M411.8 359.5h0M458.3 334.5h0M456.2 325.3h0M462.8 286.3h0M357.3 380.0h0M488.7 285.9h0M473.8 320.0h0M359.1 344.0h0M385.5 377.8h0M413.0 287.4h0M425.4 340.5h0M448.1 340.5h0M425.4 303.3h0M332.0 371.6h0M459.7 361.7h0M394.0 366.4h0M449.2 308.8h0M374.1 312.6h0M419.8 346.8h0M333.7 356.2h0M402.5 312.2h0M430.1 359.9h0M466.7 297.6h0M438.5 260.8h0M348.1 405.8h0M388.6 391.6h0M388.3 335.0h0M444.4 338.2h0M443.1 320.9h0M416.2 318.4h0M326.3 368.4h0M363.6 359.9h0M413.1 345.0h0M458.6 349.6h0M411.1 352.4h0M407.9 356.1h0M429.2 326.0h0M362.9 316.6h0M413.8 362.2h0M397.1 341.8h0M453.0 302.7h0M337.0 364.4h0M383.9 424.0h0M365.6 375.0h0M426.1 364.9h0M378.3 362.9h0M369.9 383.5h0M424.7 314.1h0M344.4 437.0h0M466.3 321.4h0M458.6 345.7h0M395.4 350.9h0M413.6 388.1h0M395.7 324.3h0M385.0 350.9h0M389.8 364.3h0M425.0 302.8h0M434.7 356.1h0M393.9 367.9h0M446.7 288.0h0M385.0 416.1h0M342.3 311.1h0M459.6 339.6h0M357.7 368.3h0M436.8 320.3h0M457.8 306.7h0M381.7 380.5h0M381.2 333.9h0M390.2 381.8h0M365.4 303.4h0M431.8 404.1h0M381.2 356.0h0M381.0 308.7h0M401.9 345.3h0M418.7 441.8h0M455.3 366.6h0M436.6 410.8h0M329.4 336.9h0M440.7 346.4h0M433.6 365.6h0M400.2 382.0h0M351.3 367.0h0M450.7 294.4h0M436.4 337.2h0M365.4 347.5h0M379.6 344.7h0M374.8 306.1h0M460.7 368.1h0M431.2 311.5h0M388.2 390.1h0M300.4 430.4h0M416.4 332.9h0M422.6 387.0h0M341.0 369.8h0M398.6 402.3h0M423.9 292.2h0M376.5 352.0h0M412.5 403.9h0M346.3 404.6h0M461.4 306.6h0M404.9 300.9h0M404.5 375.3h0M366.6 396.3h0M395.2 420.2h0M378.5 418.6h0M410.0 368.3h0M422.7 370.6h0M468.4 272.7h0M433.6 345.8h0M417.8 335.0h0M354.4 319.5h0M432.7 358.6h0M442.5 258.0h0M421.1 384.8h0M368.6 328.8h0M400.0 332.5h0M453.9 286.8h0M356.2 356.3h0M450.7 327.4h0M348.5 359.8h0M364.2 365.0h0M371.5 313.7h0M430.9 362.6h0M357.9 387.4h0M394.2 371.4h0M402.5 307.2h0M354.7 418.7h0M440.3 372.2h0M421.5 369.0h0M438.1 292.6h0M433.5 273.2h0M401.7 342.3h0M348.8 367.5h0M395.2 350.2h0M451.4 285.1h0M453.8 251.8h0M446.6 351.7h0M411.8 397.0h0M309.2 512.6h0M274.1 513.3h0M271.1 496.7h0" stroke="#736DB6" stroke-width="17.2" stroke-linecap="round" fill="none" stroke-opacity="0.82"/>
<path d="M412.0 295.2h0M444.9 391.7h0M424.9 391.7h0M393.8 340.2h0M437.2 358.4h0M451.6 300.5h0M371.9 423.5h0M405.0 386.4h0M388.0 295.6h0M440.8 305.3h0M394.8 392.0h0M465.0 288.1h0M393.1 367.9h0M389.0 352.0h0M380.8 390.7h0M378.9 413.4h0M433.5 392.6h0M430.7 388.0h0M436.6 321.6h0M442.0 359.0h0M310.2 445.4h0M413.4 331.9h0M469.0 268.3h0M426.6 374.7h0M393.5 313.7h0M400.4 359.6h0M395.8 432.9h0M445.5 333.3h0M365.3 388.4h0M415.3 359.3h0M384.4 317.8h0M405.9 365.3h0M459.5 372.4h0M468.7 293.5h0M389.6 310.6h0M410.5 343.6h0M397.9 291.7h0M489.6 319.6h0M369.5 400.2h0M391.4 383.6h0M468.3 352.8h0M393.3 361.8h0M441.7 398.9h0M422.9 360.8h0M418.9 330.7h0M361.2 375.7h0M478.5 313.8h0M337.9 398.6h0M393.1 333.9h0M456.8 303.3h0M426.7 366.7h0M490.3 321.1h0M444.1 363.0h0M367.3 361.2h0M353.6 443.0h0M420.4 322.6h0M450.1 434.2h0M442.4 386.6h0M401.3 328.4h0M390.7 413.4h0M391.3 354.6h0M369.2 324.8h0M418.5 385.6h0M418.4 350.8h0M413.0 378.9h0M411.3 399.0h0M441.5 318.5h0M464.6 278.3h0M417.4 283.0h0M375.5 313.4h0M404.4 328.6h0M421.6 347.8h0M393.0 363.1h0M390.6 370.7h0M371.7 358.5h0M434.6 378.8h0M452.8 319.1h0M422.8 318.7h0M380.5 375.0h0M446.5 312.9h0M440.0 307.9h0M394.0 409.4h0M443.0 345.0h0M425.2 343.8h0M397.2 297.8h0M478.6 261.2h0M315.3 456.8h0M443.2 311.9h0M361.3 354.2h0M451.0 302.5h0M413.4 322.2h0M375.2 400.6h0M393.6 395.5h0M437.3 328.2h0M412.5 343.1h0M366.6 376.5h0M416.9 320.9h0M432.3 331.5h0M416.6 375.1h0M439.5 283.8h0M442.7 309.4h0M469.8 300.3h0M319.1 398.1h0M413.2 411.9h0M423.6 329.7h0M456.1 317.0h0M404.4 356.9h0M453.9 382.5h0M395.1 297.8h0M478.8 342.6h0M422.5 371.2h0M431.5 324.9h0M432.1 257.2h0M378.5 347.1h0M409.7 335.0h0M424.8 373.6h0M423.0 327.6h0M460.3 367.6h0M461.1 364.2h0M413.0 325.6h0M387.8 331.2h0M398.6 328.7h0M401.1 325.2h0M454.8 380.0h0M362.2 343.2h0M394.4 371.9h0M420.0 303.4h0M421.9 357.7h0M412.4 375.6h0M372.4 361.1h0M361.9 390.9h0M417.2 306.9h0M435.7 367.7h0M428.4 317.8h0M408.2 306.7h0M378.2 370.9h0M374.8 320.5h0M400.9 384.1h0M389.3 271.4h0M386.9 328.9h0M404.2 293.5h0M455.5 341.0h0M440.9 326.2h0M377.7 360.3h0M359.6 377.6h0M498.1 373.9h0M410.4 386.7h0M438.7 353.9h0M468.2 309.7h0M385.6 394.6h0M398.7 325.3h0M430.2 357.6h0M376.4 380.5h0M450.6 333.6h0M402.0 370.0h0M336.8 392.4h0M462.6 306.3h0M354.3 388.3h0M435.3 361.4h0M521.0 312.0h0M401.8 325.2h0M366.3 403.2h0M427.8 357.0h0M332.3 366.8h0M499.4 309.5h0M400.3 421.1h0M367.6 376.0h0M432.6 396.2h0M385.0 438.4h0M429.8 395.3h0M447.9 322.6h0M413.8 308.4h0M397.7 336.3h0M409.5 325.5h0M403.3 312.9h0M388.6 371.3h0M436.6 429.6h0M418.1 382.6h0M464.5 344.3h0M380.7 370.7h0M412.7 314.6h0M331.6 354.5h0M474.5 322.3h0M337.1 366.7h0M381.4 379.4h0M375.8 359.9h0M351.0 350.0h0M447.3 277.8h0M437.1 389.2h0M443.4 257.9h0M394.7 356.5h0M418.6 337.5h0M416.1 326.9h0M315.0 369.6h0M515.9 248.3h0M355.4 357.9h0M348.5 395.2h0M377.8 351.5h0M412.3 327.1h0M441.7 365.3h0M380.6 416.3h0M402.5 385.6h0M459.4 372.2h0M380.0 326.3h0M425.2 341.7h0M371.7 439.5h0M421.9 357.4h0M422.2 370.4h0M420.4 369.1h0M532.6 260.0h0M342.5 407.3h0M421.4 362.3h0M420.0 362.7h0M438.8 306.6h0M372.8 384.3h0M406.8 332.9h0M391.0 351.1h0M435.6 337.1h0M403.4 398.9h0M454.1 361.7h0M486.4 284.1h0M409.0 331.6h0M374.2 418.6h0M505.8 268.8h0M390.8 385.2h0M402.7 401.1h0M404.2 399.3h0M336.1 328.1h0M395.8 377.9h0M424.8 426.1h0M433.8 308.7h0M333.4 394.0h0M400.6 287.0h0M386.0 383.5h0M500.0 353.3h0M359.5 362.1h0M410.0 372.6h0M398.9 340.0h0M409.3 307.9h0M420.0 337.9h0M433.5 352.6h0M426.4 362.9h0M458.8 321.1h0M431.6 291.7h0M399.5 338.1h0M389.1 364.5h0M410.2 299.4h0M439.7 386.0h0M410.9 366.5h0M406.3 337.6h0M412.7 375.5h0M433.3 299.9h0M390.0 372.8h0M475.0 306.7h0M420.6 401.4h0M424.2 354.9h0M358.9 356.3h0M407.4 352.8h0M410.7 276.2h0M419.0 340.2h0M473.2 318.2h0M455.0 316.2h0M368.5 362.8h0M380.0 388.0h0M447.0 375.6h0M383.0 386.2h0M359.0 403.9h0M353.0 361.6h0M409.9 406.1h0M401.6 352.5h0M431.1 356.2h0M380.5 382.9h0M477.7 343.1h0M406.8 331.3h0M481.3 341.2h0M428.0 264.8h0M437.2 313.4h0M362.0 350.3h0M402.1 384.3h0M390.5 404.1h0M396.1 399.1h0M336.0 366.8h0M385.5 321.5h0M370.0 322.8h0M388.5 315.4h0M423.6 354.8h0M426.2 305.4h0M373.3 360.2h0M429.7 330.8h0M386.2 291.8h0M399.6 345.4h0M388.0 385.2h0M442.5 323.8h0M375.1 377.7h0M353.3 367.6h0M415.6 390.8h0M416.9 375.1h0M385.7 382.3h0M414.5 317.4h0M397.5 379.6h0M372.7 359.1h0M407.8 361.2h0M431.1 348.8h0M344.6 398.2h0M442.9 336.1h0M406.8 370.8h0M482.6 315.0h0M475.1 309.9h0M380.5 405.8h0M439.1 364.1h0M434.4 351.3h0M443.1 324.0h0M449.2 394.9h0M410.8 388.0h0M359.7 414.2h0M421.2 318.0h0M395.9 321.5h0M380.9 405.0h0M470.9 337.8h0M432.5 332.8h0M381.8 297.4h0M401.8 314.3h0M473.7 264.9h0M393.4 378.1h0M384.6 409.6h0M414.9 369.1h0M421.6 347.8h0M386.9 376.4h0M417.5 363.7h0M426.3 404.5h0M327.7 395.0h0M380.1 390.3h0M405.3 316.2h0M281.3 483.9h0M246.8 527.1h0M260.7 514.5h0M262.1 514.4h0" stroke="#736DB6" stroke-width="17.2" stroke-linecap="round" fill="none" stroke-opacity="0.82"/>
<path d="M434.7 373.9h0M407.1 427.7h0M401.3 345.2h0M403.8 339.2h0M414.1 362.5h0M413.5 319.9h0M455.2 277.2h0M369.1 349.8h0M446.7 358.7h0M397.6 358.6h0M372.9 399.7h0M440.4 324.6h0M358.6 393.0h0M381.2 364.7h0M395.9 302.7h0M464.5 298.8h0M423.8 323.3h0M389.4 334.4h0M424.7 326.2h0M416.0 331.5h0M474.0 316.7h0M387.0 398.9h0M439.2 419.7h0M467.3 361.6h0M405.6 352.3h0M454.3 333.6h0M365.4 398.0h0M425.7 296.6h0M403.5 411.2h0M377.2 382.0h0M419.4 386.6h0M358.2 283.0h0M402.2 414.6h0M418.0 338.4h0M460.8 317.6h0M420.3 359.6h0M408.6 307.7h0M467.8 281.3h0M386.2 423.7h0M406.0 352.7h0M393.1 365.4h0M451.0 310.7h0M425.8 349.0h0M380.0 462.7h0M421.3 393.5h0M406.7 434.2h0M413.7 357.6h0M397.6 270.3h0M380.8 354.0h0M470.2 310.7h0M389.9 329.5h0M356.1 348.4h0M431.5 275.2h0M430.1 332.9h0M331.2 391.0h0M353.2 325.1h0M405.5 314.1h0M395.2 334.6h0M458.3 307.9h0M400.0 347.9h0M421.6 303.9h0M408.1 335.2h0M417.4 362.0h0M433.0 351.7h0M428.8 327.1h0M411.1 373.5h0M409.3 398.9h0M425.3 250.3h0M391.1 331.5h0M385.0 338.7h0M376.6 362.8h0M413.6 418.8h0M357.2 396.5h0M393.0 324.2h0M455.0 319.5h0M499.7 327.1h0M399.4 336.8h0M449.9 326.4h0M394.3 307.2h0M409.6 345.8h0M432.8 378.8h0M414.8 282.5h0M433.0 339.9h0M406.8 343.3h0M373.0 447.3h0M391.4 323.2h0M405.0 378.4h0M371.4 285.6h0M436.1 314.1h0M386.9 330.1h0M430.5 249.8h0M422.5 346.2h0M335.5 389.5h0M446.1 324.5h0M388.4 341.5h0M471.1 343.8h0M411.0 399.2h0M447.2 263.8h0M393.8 328.3h0M402.4 395.3h0M418.1 404.0h0M392.8 325.0h0M436.4 338.8h0M414.9 322.9h0M373.0 369.4h0M357.3 359.4h0M413.0 371.0h0M405.9 404.8h0M388.7 344.2h0M400.6 377.8h0M412.2 346.8h0M374.7 323.8h0M429.1 333.3h0M385.6 375.6h0M399.4 411.8h0M390.6 372.8h0M418.4 382.0h0M428.4 296.6h0M403.2 339.9h0M402.8 370.2h0M370.3 412.9h0M404.8 409.5h0M411.5 378.7h0M443.8 420.1h0M439.3 295.7h0M482.7 302.6h0M385.0 386.5h0M428.6 310.5h0M375.7 346.1h0M493.0 298.0h0M403.5 346.9h0M403.5 384.3h0M425.7 309.9h0M422.8 359.6h0M429.9 350.9h0M415.8 321.2h0M487.5 319.4h0M357.5 398.3h0M430.2 276.8h0M427.9 331.5h0M389.2 352.0h0M458.5 288.7h0M472.2 343.9h0M393.4 356.1h0M470.0 328.2h0M436.6 393.0h0M427.9 349.9h0M474.6 345.8h0M417.2 400.2h0M353.3 353.1h0M401.3 341.2h0M417.2 335.5h0M481.0 370.7h0M468.5 324.1h0M382.3 427.4h0M411.8 375.0h0M425.8 263.3h0M394.8 360.9h0M386.5 307.2h0M375.9 374.1h0M359.0 348.7h0M417.6 255.5h0M455.6 326.9h0M407.9 344.4h0M344.7 435.6h0M362.1 380.4h0M395.8 364.1h0M397.0 332.8h0M396.9 310.8h0M364.7 321.4h0M416.1 335.2h0M396.9 484.2h0M409.2 313.7h0M420.5 324.0h0M316.4 418.4h0M402.6 373.5h0M377.0 366.8h0M412.0 276.6h0M362.6 358.1h0M378.9 409.8h0M470.0 342.8h0M387.8 391.2h0M433.3 317.0h0M369.0 355.7h0M361.7 369.1h0M334.3 367.0h0M408.9 295.3h0M411.9 323.6h0M497.0 305.1h0M387.3 366.4h0M468.9 334.2h0M411.9 342.4h0M402.7 304.9h0M375.3 374.7h0M417.2 369.0h0M435.6 301.2h0M391.4 395.4h0M479.3 299.5h0M356.2 369.8h0M462.2 286.4h0M319.7 397.6h0M382.6 359.3h0M457.4 298.8h0M409.3 278.8h0M469.8 311.7h0M394.4 393.8h0M398.3 343.7h0M433.7 386.5h0M410.1 380.5h0M364.2 380.0h0M322.9 391.7h0M412.1 361.9h0M406.2 388.2h0M439.8 271.1h0M432.6 394.4h0M425.6 353.2h0M450.5 324.5h0M459.6 326.0h0M447.1 345.0h0M424.1 366.5h0M408.9 295.8h0M372.0 386.7h0M401.7 375.0h0M415.0 300.2h0M427.7 324.8h0M462.9 309.9h0M461.6 339.9h0M359.8 292.1h0M396.0 368.9h0M456.5 299.3h0M439.0 324.2h0M383.3 426.8h0M438.2 256.7h0M444.2 320.0h0M427.1 284.1h0M519.6 261.7h0M429.7 383.1h0M410.1 330.0h0M387.9 402.9h0M384.2 366.6h0M426.2 304.3h0M416.3 417.1h0M408.3 338.0h0M379.9 369.4h0M384.8 344.3h0M422.1 330.5h0M434.9 302.8h0M393.2 372.9h0M413.4 349.3h0M432.8 454.4h0M355.8 376.1h0M479.7 274.4h0M414.0 391.7h0M392.4 368.0h0M364.4 462.3h0M400.1 349.7h0M355.7 363.9h0M433.1 285.1h0M417.0 364.3h0M341.4 361.0h0M456.5 340.2h0M399.5 313.2h0M399.9 379.7h0M411.6 373.6h0M440.9 366.8h0M383.3 339.5h0M396.7 319.9h0M421.8 367.2h0M403.2 410.2h0M451.3 314.9h0M394.8 351.1h0M383.3 332.2h0M373.8 376.9h0M353.3 320.6h0M387.2 365.5h0M375.2 376.0h0M405.1 352.4h0M405.8 376.2h0M391.1 291.0h0M402.0 349.9h0M415.6 323.3h0M436.5 233.6h0M400.6 353.8h0M315.9 445.8h0M458.0 377.8h0M374.1 320.2h0M409.6 348.9h0M386.7 380.7h0M377.3 393.4h0M379.5 356.2h0M443.1 323.7h0M349.4 348.0h0M389.1 360.8h0M381.1 307.9h0M428.4 323.7h0M388.7 371.4h0M409.0 371.2h0M398.6 372.1h0M416.7 393.2h0M344.8 399.1h0M471.6 293.6h0M504.6 286.6h0M448.6 352.6h0M419.3 390.6h0M434.0 316.2h0M409.7 320.6h0M443.7 314.3h0M422.2 368.2h0M429.5 346.8h0M387.8 273.2h0M419.1 382.1h0M376.9 393.7h0M387.0 354.8h0M395.2 372.7h0M395.5 301.4h0M405.1 395.1h0M463.1 287.2h0M406.9 371.1h0M419.5 413.0h0M422.9 308.9h0M390.2 358.4h0M384.3 392.8h0M407.7 342.2h0M432.0 362.1h0M370.4 361.7h0M374.7 415.6h0M402.2 342.0h0M379.1 341.1h0M408.5 347.4h0M431.1 327.0h0M379.5 363.4h0M350.4 392.8h0M446.8 336.0h0M299.7 476.2h0M309.2 449.0h0M316.7 462.3h0" stroke="#736DB6" stroke-width="17.2" stroke-linecap="round" fill="none" stroke-opacity="0.82"/>
<path d="M633.5 99.1h0M577.9 152.4h0M387.7 226.9h0M531.4 289.3h0M512.5 385.8h0M501.1 412.3h0M472.8 436.8h0M408.5 487.9h0M383.1 501.1h0M332.8 513.6h0M266.6 543.9h0M279.9 491.7h0M295.0 513.6h0M262.1 578.7h0M416.0 463.3h0M315.8 329.0h0M340.4 469.0h0M378.2 472.8h0" stroke="#736DB6" stroke-width="17.2" stroke-linecap="round" fill="none" stroke-opacity="0.82"/>
<path d="M434.2 360.5h0M456.2 251.5h0M366.5 369.5h0M444.3 319.7h0M406.1 425.0h0M437.0 305.9h0M395.7 342.0h0M386.8 319.8h0M371.0 339.7h0M363.6 337.1h0M426.8 328.6h0M394.9 371.8h0M420.9 350.3h0M383.7 435.2h0M422.3 373.1h0M396.9 386.6h0M387.7 376.8h0M372.8 361.6h0M487.4 266.1h0M455.5 298.2h0M406.9 323.1h0M430.6 288.4h0M426.2 324.0h0M425.7 403.9h0M392.3 268.3h0M435.6 349.7h0M439.4 341.3h0M466.4 368.6h0M396.9 379.9h0M380.6 298.0h0M404.6 353.2h0M409.3 351.0h0M430.7 284.2h0M443.5 319.8h0M454.4 288.9h0M410.9 302.9h0M378.2 424.4h0M392.8 388.3h0M437.2 421.4h0M370.2 381.2h0M433.4 355.8h0M381.7 383.0h0M406.9 375.8h0M442.9 306.2h0M445.1 369.6h0M407.5 397.4h0M405.1 350.8h0M435.5 434.2h0M381.7 360.9h0M377.9 387.0h0M423.0 294.4h0M464.6 333.4h0M383.8 321.9h0M368.7 350.0h0M418.1 342.1h0M401.7 397.7h0M435.9 316.9h0M407.1 420.9h0M374.0 405.2h0M437.3 329.1h0M404.7 305.0h0M335.7 434.6h0M423.8 342.1h0M424.0 392.3h0M469.7 357.4h0M472.3 276.7h0M400.6 427.2h0M363.2 342.5h0M384.0 324.4h0M424.6 398.9h0M421.2 316.3h0M420.9 311.8h0M432.2 287.7h0M369.7 371.9h0M433.7 401.6h0M387.4 341.9h0M461.7 339.4h0M364.0 387.3h0M357.9 414.0h0M339.9 375.1h0M453.1 404.1h0M369.8 381.6h0M429.4 333.7h0M417.6 342.8h0M388.3 302.0h0M417.7 361.8h0M372.9 440.0h0M433.9 299.6h0M373.9 355.5h0M382.3 368.3h0M396.4 379.4h0M437.6 340.1h0M419.4 335.5h0M437.5 353.9h0M438.3 303.2h0M384.1 370.7h0M422.9 377.3h0M396.9 378.1h0M421.9 312.6h0M473.7 334.7h0M363.8 335.7h0M442.3 316.9h0M386.7 391.6h0M371.8 420.5h0M409.3 351.8h0M351.5 394.5h0M421.3 368.0h0M432.2 384.8h0M411.3 333.1h0M440.2 329.6h0M500.2 280.1h0M331.7 402.4h0M440.1 337.1h0M406.2 324.1h0M450.8 375.8h0M380.2 380.2h0M487.6 302.5h0M441.5 350.7h0M305.2 416.3h0M415.4 327.1h0M395.1 432.6h0M443.8 328.4h0M435.2 340.8h0M452.3 376.7h0M453.3 372.0h0M466.8 255.0h0M373.4 339.8h0M415.6 388.0h0M428.3 400.6h0M384.8 428.6h0M423.7 328.5h0M465.4 326.2h0M442.2 312.0h0M465.9 347.6h0M413.4 303.5h0M392.8 337.7h0M375.2 396.5h0M394.4 347.9h0M467.1 332.5h0M395.7 311.8h0M469.0 355.4h0M435.8 395.6h0M464.0 318.8h0M400.6 373.0h0M374.7 358.1h0M456.1 288.7h0M407.1 346.5h0M399.1 349.8h0M427.8 407.9h0M481.4 335.2h0M390.7 367.6h0M412.9 392.7h0M394.4 395.1h0M395.3 326.9h0M400.8 295.3h0M404.8 371.1h0M423.7 329.9h0M455.2 329.9h0M410.4 320.9h0M414.3 322.6h0M376.4 383.8h0M352.8 292.1h0M420.5 266.8h0M403.1 331.7h0M423.8 382.4h0M389.9 387.7h0M459.5 370.9h0M424.8 326.0h0M382.9 368.6h0M435.8 324.5h0M441.5 338.7h0M405.8 410.7h0M443.7 294.1h0M398.2 337.6h0M428.1 345.6h0M374.4 418.0h0M435.2 316.7h0M354.9 330.3h0M388.7 361.9h0M391.0 360.0h0M422.9 354.6h0M439.6 372.8h0M437.7 264.4h0M430.8 405.3h0M445.6 379.4h0M346.2 406.2h0M444.8 338.8h0M389.5 390.4h0M421.0 322.7h0M382.6 402.7h0M417.1 327.7h0M422.4 342.8h0M365.3 419.7h0M367.9 369.7h0M361.9 337.9h0M417.7 388.2h0M474.3 270.4h0M356.8 352.3h0M422.6 329.6h0M395.9 362.0h0M369.0 341.5h0M423.3 351.6h0M472.3 284.9h0M401.8 345.4h0M399.0 386.5h0M381.8 376.1h0M483.8 336.5h0M370.1 324.0h0M363.3 356.2h0M382.2 349.7h0M436.1 298.0h0M277.1 388.7h0M438.6 329.2h0M484.1 294.1h0M438.1 329.9h0M410.0 368.0h0M411.6 334.8h0M488.7 277.6h0M435.3 389.1h0M390.7 287.7h0M450.3 326.7h0M423.8 334.4h0M484.4 335.6h0M403.4 352.3h0M405.5 338.9h0M439.3 320.0h0M419.4 378.7h0M330.6 415.3h0M419.3 294.5h0M399.1 394.8h0M450.7 304.8h0M379.3 317.2h0M408.6 428.3h0M376.1 342.3h0M422.2 336.5h0M406.7 378.0h0M399.9 402.5h0M344.2 343.4h0M425.0 353.9h0M299.0 429.8h0M411.3 340.1h0M356.5 311.7h0M464.7 233.9h0M426.9 283.4h0M423.2 333.8h0M428.4 347.6h0M454.7 380.1h0M424.8 338.0h0M421.8 338.4h0M423.2 388.7h0M432.9 416.0h0M362.2 375.4h0M447.3 284.9h0M455.7 353.8h0M413.9 272.6h0M400.0 364.0h0M385.2 411.2h0M469.3 290.8h0M411.6 342.6h0M409.6 348.6h0M378.8 356.8h0M432.7 323.7h0M429.3 343.1h0M397.3 412.8h0M465.1 277.0h0M407.0 317.4h0M324.1 380.0h0M393.5 356.5h0M405.1 407.5h0M394.7 375.4h0M464.4 330.6h0M422.4 333.1h0M385.3 319.3h0M364.2 378.9h0M430.2 391.4h0M389.4 396.2h0M376.3 387.9h0M433.3 357.8h0M402.2 352.2h0M397.8 363.9h0M384.1 390.5h0M385.8 337.9h0M426.5 330.8h0M447.7 317.1h0M440.1 352.1h0M443.2 280.9h0M381.3 358.1h0M426.8 333.9h0M452.5 371.8h0M445.6 356.7h0M400.3 362.3h0M411.8 306.3h0M428.7 383.1h0M456.9 266.5h0M392.0 397.9h0M352.6 338.1h0M369.9 366.4h0M331.5 448.9h0M360.4 418.9h0M405.7 369.4h0M436.7 342.5h0M442.3 320.4h0M427.9 295.0h0M414.3 331.1h0M479.1 287.1h0M453.0 301.9h0M395.7 432.0h0M363.4 314.5h0M409.2 355.3h0M417.3 321.1h0M446.5 363.2h0M370.9 433.7h0M407.8 376.0h0M443.8 304.2h0M405.3 384.4h0M438.1 371.7h0M437.9 331.2h0M415.3 382.6h0M451.6 369.5h0M447.9 293.3h0M368.9 389.2h0M439.0 316.2h0M473.0 310.9h0M409.4 396.2h0M422.8 329.5h0M484.4 304.8h0M438.5 356.5h0M436.5 296.9h0M399.0 377.6h0M410.6 405.7h0M353.4 447.1h0M451.3 307.9h0M424.1 383.9h0M409.9 307.0h0M369.2 320.9h0M418.4 355.4h0M392.7 375.7h0M387.0 401.3h0M436.2 314.1h0M409.4 276.1h0M425.4 369.1h0M388.2 329.8h0M370.0 395.0h0M380.2 398.2h0M489.1 295.3h0M396.3 353.4h0M351.3 315.8h0M461.9 309.6h0M487.2 331.7h0M410.3 365.8h0M432.8 329.2h0M409.8 286.5h0M427.8 386.7h0M405.6 318.7h0M421.5 338.2h0M375.1 357.2h0M322.2 426.7h0M413.1 304.0h0M419.4 267.4h0M348.2 388.0h0M345.4 316.2h0M414.6 358.6h0M378.3 372.4h0M420.3 375.8h0M394.8 360.9h0M411.7 385.0h0M414.5 291.0h0M359.9 383.3h0M445.3 324.1h0M375.2 360.7h0M419.0 391.2h0M417.9 350.5h0M401.3 395.1h0M426.4 267.3h0M362.1 322.6h0M430.2 301.7h0M356.2 337.1h0M424.5 386.1h0M387.7 394.5h0M382.0 353.6h0M395.0 404.2h0M406.6 358.6h0M457.5 298.6h0M420.8 348.9h0M434.3 294.8h0M396.3 416.3h0M479.8 321.5h0M494.5 272.8h0M443.0 360.0h0M419.7 348.1h0M442.2 262.9h0M360.2 377.2h0M374.4 382.3h0M439.0 374.2h0M484.1 326.4h0M433.3 346.6h0M350.9 333.8h0M421.3 379.7h0M375.9 335.5h0M411.8 275.4h0M406.7 320.1h0M422.5 300.1h0M437.6 382.0h0M430.4 407.3h0M457.0 337.7h0M368.9 363.1h0M409.4 318.1h0M473.3 249.3h0M412.9 353.2h0M353.6 356.0h0M489.2 305.6h0M400.7 332.3h0M424.4 351.5h0M419.8 383.8h0M414.2 354.5h0M372.1 388.6h0M398.6 383.6h0M470.3 330.9h0M407.5 370.6h0M462.4 323.5h0M435.6 409.4h0M455.4 363.7h0M456.4 311.6h0M389.5 377.0h0M419.4 390.9h0M433.7 329.0h0M457.0 278.5h0M370.6 361.7h0M434.1 321.5h0M413.8 373.7h0M469.1 351.3h0M357.0 346.9h0M419.1 339.1h0M447.0 389.1h0M309.4 388.8h0M364.8 343.6h0M428.4 383.2h0M448.6 373.2h0M369.4 368.8h0M394.2 340.9h0M333.0 365.9h0M425.4 318.7h0M413.8 370.9h0M432.2 275.1h0M409.4 383.5h0M377.4 289.3h0M413.9 292.5h0M461.7 336.8h0M441.7 367.9h0M379.3 333.0h0M420.3 369.9h0M365.1 408.6h0M416.9 318.6h0M461.2 291.5h0M394.6 453.7h0M415.3 279.2h0M493.2 315.8h0M401.0 321.9h0M382.3 365.6h0M454.6 392.7h0M460.7 305.0h0M429.0 331.8h0M461.9 360.3h0M421.3 323.3h0M430.5 331.7h0M445.0 365.6h0M428.5 383.1h0M465.0 343.8h0M372.8 317.2h0M404.6 412.2h0M369.4 407.3h0M402.1 359.9h0M397.6 326.8h0M418.9 301.3h0M458.5 309.1h0M332.1 389.1h0M427.6 215.6h0M428.6 400.2h0M402.5 438.1h0M400.3 366.6h0M357.6 418.3h0M403.6 333.9h0M357.4 454.5h0M425.1 329.8h0M403.6 360.6h0M378.1 383.1h0M352.4 456.5h0M463.0 298.6h0M363.1 365.9h0M359.9 413.5h0M396.4 306.7h0M414.2 355.7h0M392.0 430.7h0M448.4 370.9h0M393.0 414.9h0M491.6 360.4h0M413.2 334.5h0M457.4 336.6h0M385.2 321.3h0M374.9 352.1h0M498.6 276.5h0M355.0 409.4h0M416.8 305.7h0M415.6 307.6h0M400.2 442.2h0M404.8 354.0h0M344.5 353.9h0M427.6 349.4h0M492.3 282.7h0M393.3 374.4h0M427.5 330.9h0M431.2 322.0h0M510.4 313.3h0M416.3 319.9h0M456.0 254.3h0M401.5 327.4h0M441.3 369.9h0M392.5 369.8h0M456.7 311.1h0M437.6 255.6h0M459.5 312.3h0M431.6 375.9h0M461.2 335.3h0M375.8 373.8h0M408.7 347.1h0M423.0 375.4h0M381.0 370.8h0M440.2 291.4h0M425.4 330.3h0M408.1 354.1h0M410.3 396.3h0M423.7 427.9h0M483.3 379.9h0M437.2 298.5h0M428.0 374.8h0M347.6 416.4h0M411.4 244.3h0M362.3 368.4h0M430.5 320.7h0M378.7 329.5h0M434.3 288.6h0M435.7 347.6h0M368.7 385.0h0M428.0 317.6h0M321.9 375.6h0M380.8 373.0h0M419.1 314.7h0M505.6 263.9h0M487.1 323.6h0M419.0 357.6h0M407.9 350.5h0M350.1 348.3h0M370.5 376.2h0M446.1 345.1h0M431.4 408.5h0M447.1 304.7h0M416.9 346.4h0M396.2 366.1h0M445.2 360.1h0M352.3 351.1h0M473.5 305.1h0M442.9 300.0h0M460.4 292.4h0M482.7 339.4h0M368.7 360.0h0M433.7 338.8h0M426.2 370.8h0M326.0 437.5h0M309.8 425.2h0M351.6 434.3h0" stroke="#E82E8B" stroke-width="17.2" stroke-linecap="round" fill="none" stroke-opacity="0.82"/>
<path d="M367.2 425.7h0M454.2 287.1h0M391.4 361.3h0M384.0 368.9h0M348.1 376.6h0M435.0 343.6h0M380.7 391.8h0M400.6 356.2h0M414.9 361.5h0M437.7 312.9h0M404.2 339.4h0M443.7 354.3h0M419.1 361.2h0M415.0 335.4h0M390.2 374.1h0M374.1 328.6h0M421.7 301.0h0M440.1 338.5h0M369.8 314.5h0M449.5 359.0h0M404.3 378.1h0M423.8 302.8h0M445.4 320.6h0M409.0 390.2h0M470.6 296.8h0M441.0 387.3h0M441.5 364.6h0M461.7 346.5h0M394.7 351.1h0M346.3 348.2h0M374.6 375.5h0M435.7 328.9h0M390.6 401.1h0M477.7 277.2h0M457.6 360.7h0M386.4 332.9h0M401.6 406.0h0M445.9 328.0h0M406.8 408.7h0M430.1 367.5h0M424.0 423.4h0M531.7 255.4h0M431.5 330.7h0M317.9 400.5h0M394.8 330.1h0M366.3 346.7h0M415.2 336.4h0M455.3 349.7h0M407.4 366.0h0M430.4 282.3h0M517.1 322.0h0M352.9 317.0h0M379.6 360.6h0M458.1 320.0h0M365.8 389.1h0M404.1 400.6h0M423.2 346.8h0M392.4 327.1h0M367.1 347.7h0M382.0 388.9h0M469.3 387.3h0M407.2 279.1h0M391.2 350.0h0M424.7 276.5h0M377.5 283.1h0M425.2 351.7h0M439.6 320.0h0M423.2 417.4h0M419.9 270.9h0M424.2 279.0h0M438.1 368.9h0M432.2 343.6h0M422.7 318.7h0M434.4 314.1h0M369.7 413.1h0M423.3 367.3h0M377.9 383.8h0M438.0 344.9h0M410.3 310.1h0M446.4 336.0h0M411.2 383.1h0M491.3 307.1h0M463.4 319.1h0M474.8 343.9h0M375.0 383.4h0M434.1 327.1h0M461.6 312.0h0M392.5 397.0h0M401.7 265.1h0M373.8 345.0h0M423.5 326.2h0M438.7 365.9h0M414.5 406.9h0M435.5 297.1h0M452.6 284.7h0M406.0 329.2h0M451.1 360.4h0M461.1 301.9h0M378.0 301.3h0M422.5 374.6h0M351.3 357.9h0M415.0 345.8h0M431.6 365.2h0M401.6 360.3h0M377.1 322.2h0M412.4 375.6h0M382.2 345.1h0M404.0 292.3h0M385.0 325.5h0M442.3 383.8h0M436.5 316.4h0M462.6 275.6h0M404.0 336.1h0M391.4 396.9h0M333.4 356.4h0M421.0 266.6h0M450.6 288.0h0M364.3 404.7h0M398.8 297.5h0M393.8 375.4h0M415.2 322.0h0M316.9 392.5h0M353.8 449.0h0M404.6 370.1h0M362.3 344.0h0M343.8 374.6h0M442.0 304.8h0M492.4 271.3h0M408.3 358.2h0M404.2 347.0h0M462.2 291.7h0M401.6 373.3h0M486.1 204.5h0M448.0 287.4h0M426.1 355.2h0M359.6 394.3h0M432.9 326.3h0M400.5 356.4h0M438.5 394.3h0M386.4 424.0h0M427.2 334.0h0M407.2 418.7h0M410.4 401.7h0M371.7 375.0h0M374.8 373.3h0M369.8 368.1h0M496.7 325.8h0M481.0 321.6h0M376.4 382.4h0M423.3 294.7h0M444.5 282.5h0M496.5 315.8h0M362.9 301.3h0M393.9 388.3h0M330.7 348.6h0M358.4 378.2h0M397.5 376.5h0M381.7 323.8h0M330.7 407.5h0M377.0 350.3h0M464.8 384.4h0M369.1 410.7h0M355.1 361.3h0M359.4 351.6h0M425.4 317.9h0M393.4 332.7h0M430.6 417.3h0M383.1 326.8h0M465.8 293.8h0M427.8 348.9h0M418.8 322.6h0M389.2 339.9h0M387.9 353.5h0M401.3 410.4h0M407.2 324.0h0M452.1 333.1h0M414.5 297.0h0M414.1 366.8h0M411.0 383.9h0M363.6 367.7h0M333.4 348.1h0M446.1 366.7h0M377.5 347.5h0M469.6 371.4h0M377.0 359.8h0M380.4 352.1h0M419.2 384.1h0M358.2 318.1h0M420.2 342.0h0M362.8 375.7h0M415.9 402.4h0M432.1 322.7h0M410.3 304.0h0M344.7 313.4h0M352.1 413.0h0M373.1 426.9h0M425.8 384.4h0M441.6 353.5h0M433.6 295.6h0M481.5 313.9h0M315.9 360.0h0M417.3 312.8h0M435.3 329.5h0M387.7 384.5h0M437.4 388.6h0M438.2 304.9h0M475.2 341.1h0M426.3 334.0h0M429.8 270.1h0M398.4 258.2h0M460.2 423.1h0M345.9 452.3h0M390.5 390.5h0M369.5 314.0h0M362.7 362.4h0M424.7 342.3h0M466.4 285.4h0M389.5 383.0h0M445.6 348.3h0M444.4 301.6h0M403.4 315.5h0M417.3 366.3h0M409.9 347.1h0M383.3 368.7h0M414.6 366.3h0M374.7 345.2h0M428.7 357.1h0M429.8 281.0h0M435.6 372.8h0M402.6 312.7h0M387.0 349.7h0M441.3 314.2h0M400.3 322.1h0M438.2 382.6h0M437.4 307.5h0M447.0 344.6h0M370.0 318.8h0M402.0 360.8h0M436.3 365.0h0M493.4 302.3h0M460.0 352.0h0M405.1 358.8h0M478.8 318.0h0M464.4 362.3h0M474.9 346.5h0M408.4 350.6h0M360.6 475.9h0M425.3 366.0h0M391.2 363.9h0M432.1 366.4h0M351.0 338.0h0M418.4 331.5h0M433.9 386.1h0M389.5 316.7h0M397.5 444.9h0M373.5 340.2h0M382.2 425.3h0M413.7 330.8h0M406.9 354.7h0M393.5 336.5h0M464.2 276.4h0M451.5 331.6h0M370.8 398.0h0M401.4 407.6h0M488.5 333.0h0M390.1 288.0h0M380.8 325.9h0M428.8 357.0h0M356.7 428.3h0M399.6 337.6h0M421.3 320.9h0M383.3 408.0h0M386.2 387.2h0M511.3 346.2h0M503.8 270.8h0M380.8 306.1h0M429.1 399.7h0M414.0 393.5h0M368.1 390.3h0M406.4 311.5h0M411.4 342.9h0M357.9 344.3h0M399.3 321.4h0M364.0 459.9h0M474.5 248.7h0M358.0 365.8h0M436.7 339.6h0M388.1 297.6h0M424.5 356.1h0M452.7 333.6h0M406.6 274.9h0M393.9 365.9h0M389.1 434.0h0M408.9 323.2h0M391.5 368.4h0M492.8 291.8h0M374.1 318.0h0M450.9 335.0h0M404.7 323.2h0M432.3 373.1h0M420.3 333.1h0M414.0 358.3h0M378.2 375.2h0M428.0 318.2h0M423.4 277.8h0M416.5 321.8h0M414.5 345.4h0M428.7 276.4h0M394.7 408.8h0M410.1 366.4h0M318.9 366.4h0M371.7 360.5h0M395.7 388.1h0M368.2 343.6h0M384.2 326.8h0M383.3 355.1h0M437.1 290.9h0M355.3 391.0h0M402.9 370.6h0M368.1 447.0h0M380.9 335.3h0M396.9 305.9h0M414.3 340.1h0M438.4 306.3h0M457.1 327.8h0M405.8 422.2h0M416.1 271.5h0M459.7 310.4h0M391.5 350.4h0M474.1 319.5h0M397.2 365.4h0M453.8 330.1h0M383.8 334.8h0M410.6 364.8h0M397.6 347.5h0M425.6 394.0h0M415.2 367.8h0M424.8 385.5h0M492.7 215.8h0M362.2 326.5h0M452.3 350.6h0M396.0 353.7h0M424.4 346.1h0M394.5 337.0h0M437.9 324.9h0M333.3 443.4h0M453.9 270.3h0M371.4 365.9h0M406.1 350.5h0M448.9 259.9h0M408.6 365.1h0M474.7 291.2h0M469.2 355.4h0M345.9 346.2h0M428.9 313.2h0M454.0 343.9h0M379.0 332.6h0M441.3 360.7h0M445.0 291.0h0M372.3 377.0h0M406.1 332.9h0M415.0 384.5h0M389.3 383.5h0M365.2 388.5h0M416.1 327.2h0M437.6 336.8h0M397.1 383.0h0M410.5 391.9h0M408.7 367.9h0M388.1 380.0h0M501.1 275.1h0M427.2 239.5h0M389.6 363.6h0M373.1 437.4h0M392.8 307.3h0M359.4 423.5h0M386.1 314.8h0M421.7 303.4h0M401.4 361.9h0M393.6 271.8h0M407.7 342.5h0M427.0 327.2h0M405.9 357.1h0M448.6 350.4h0M388.0 307.0h0M440.3 327.0h0M441.9 375.3h0M347.4 352.8h0M344.2 379.1h0M442.9 307.8h0M402.0 336.3h0M355.7 452.3h0M414.2 367.0h0M394.4 353.1h0M399.8 293.4h0M369.9 351.2h0M371.7 366.5h0M412.1 394.4h0M434.3 330.3h0M402.0 362.1h0M450.8 330.9h0M409.6 367.6h0M461.3 324.2h0M431.8 307.0h0M443.7 389.4h0M371.2 410.2h0M511.7 338.9h0M407.6 342.3h0M417.4 312.0h0M327.8 443.3h0M385.7 402.3h0M401.8 387.7h0M451.7 346.5h0M430.1 387.3h0M403.3 401.7h0M418.4 359.1h0M402.0 328.5h0M379.6 329.3h0M377.3 396.3h0M444.8 272.4h0M424.4 345.9h0M335.7 418.1h0M436.8 387.6h0M366.3 314.5h0M382.9 413.6h0M396.5 363.4h0M468.7 369.9h0M455.3 315.0h0M432.0 272.3h0M421.4 376.7h0M384.4 415.8h0M399.3 373.4h0M391.2 365.9h0M371.2 344.6h0M354.1 303.0h0M466.7 331.3h0M427.0 348.7h0M433.9 302.7h0M376.8 405.0h0M429.9 269.4h0M510.0 328.7h0M405.0 357.2h0M417.2 313.8h0M421.2 347.2h0M423.5 352.3h0M417.1 357.1h0M413.2 376.9h0M421.7 397.1h0M393.0 400.2h0M409.1 347.8h0M370.9 400.7h0M454.7 335.8h0M381.3 345.7h0M354.0 366.0h0M335.5 373.1h0M375.9 370.1h0M425.2 361.6h0M404.7 310.5h0M416.6 381.1h0M388.2 342.4h0M402.8 364.2h0M404.5 367.8h0M406.3 324.7h0M400.9 270.1h0M413.9 311.7h0M436.7 359.3h0M425.9 362.8h0M410.8 289.1h0M432.1 393.5h0M467.1 278.4h0M463.9 317.2h0M386.1 393.5h0M452.4 396.7h0M444.6 390.2h0M409.8 386.3h0M413.2 413.4h0M387.5 408.0h0M412.3 379.0h0M436.6 277.4h0M355.2 382.8h0M429.6 262.9h0M395.3 321.6h0M356.3 385.0h0M425.4 354.0h0M426.2 287.8h0M420.1 339.2h0M422.9 357.9h0M401.2 383.2h0M426.1 306.4h0M461.0 360.1h0M429.2 325.4h0M426.4 345.8h0M450.0 321.9h0M424.9 359.3h0M403.4 305.2h0M414.6 389.6h0M394.3 342.0h0M489.6 315.3h0M352.4 339.6h0M341.0 467.4h0M375.4 401.9h0M462.2 319.6h0M423.4 324.2h0M439.3 293.3h0M456.4 289.9h0M367.6 356.5h0M465.1 361.8h0M407.9 346.4h0M366.8 372.5h0M421.2 347.4h0M368.2 319.8h0M350.9 338.2h0M420.1 353.1h0M433.6 383.1h0M434.7 373.8h0M398.9 304.0h0M363.9 343.1h0M431.8 374.2h0M373.1 465.5h0M456.7 255.2h0M437.2 380.8h0M419.7 298.1h0M447.9 390.9h0M464.3 380.8h0M422.1 409.9h0M454.1 387.4h0M365.4 364.9h0M432.0 394.5h0M446.4 301.2h0M475.6 246.7h0M362.3 428.8h0M427.4 273.4h0M432.0 370.8h0M379.3 418.0h0M423.3 425.9h0M390.3 337.1h0M360.9 410.8h0M452.2 231.9h0M361.4 352.0h0M419.4 391.5h0M354.9 408.7h0M410.2 354.8h0M384.0 358.1h0M440.4 330.8h0M427.7 332.8h0M419.3 425.3h0M415.9 307.7h0M357.1 382.3h0M412.6 326.7h0M408.5 359.7h0M472.3 441.0h0M443.2 320.4h0M360.9 340.8h0M343.7 390.9h0M502.3 297.1h0M409.4 350.9h0M347.9 362.8h0M466.6 351.9h0M371.5 388.7h0M355.7 367.2h0M376.1 362.3h0M423.8 342.1h0M434.3 397.8h0M420.8 370.1h0M311.2 434.3h0M434.6 366.7h0M415.3 384.6h0M301.3 449.6h0M306.4 440.1h0M295.2 461.7h0" stroke="#E82E8B" stroke-width="17.2" stroke-linecap="round" fill="none" stroke-opacity="0.82"/>
<path d="M425.6 283.2h0M387.6 356.5h0M387.0 384.0h0M440.7 322.7h0M397.9 343.8h0M348.7 395.4h0M488.2 295.4h0M329.9 411.1h0M428.2 339.8h0M418.1 304.3h0M420.2 322.8h0M394.7 335.2h0M447.4 322.9h0M422.0 394.4h0M380.7 371.6h0M439.1 274.4h0M361.9 410.1h0M480.5 279.1h0M403.5 379.0h0M444.7 266.0h0M355.2 399.3h0M408.0 410.1h0M374.5 373.0h0M387.2 401.7h0M446.1 310.8h0M479.4 301.6h0M380.7 345.2h0M408.4 329.6h0M410.8 289.8h0M387.0 344.2h0M468.4 274.6h0M405.7 346.1h0M393.9 332.4h0M424.6 270.9h0M368.2 426.7h0M397.5 298.6h0M478.2 309.9h0M421.5 312.7h0M473.8 306.2h0M425.2 292.4h0M413.9 328.6h0M346.3 399.4h0M430.1 304.1h0M337.9 390.4h0M378.3 386.3h0M431.5 326.3h0M339.9 393.6h0M407.7 357.5h0M386.7 390.6h0M450.0 362.8h0M417.2 356.7h0M479.7 355.2h0M442.0 376.7h0M458.5 324.4h0M452.6 420.5h0M437.7 425.4h0M417.4 353.6h0M385.5 309.2h0M472.2 300.0h0M347.9 356.5h0M432.9 319.8h0M363.5 371.4h0M414.8 316.3h0M393.7 371.7h0M432.5 355.3h0M451.4 380.9h0M485.8 350.8h0M394.5 384.7h0M438.0 340.0h0M430.7 365.7h0M428.9 353.7h0M441.3 279.8h0M414.0 426.6h0M376.6 309.8h0M417.0 310.4h0M383.9 348.9h0M498.2 298.1h0M399.9 341.7h0M447.2 310.2h0M421.1 292.1h0M386.6 382.5h0M452.5 324.2h0M448.0 340.2h0M341.8 370.7h0M393.5 292.8h0M372.5 362.0h0M393.2 354.7h0M444.5 315.5h0M391.9 403.8h0M309.9 427.5h0M349.9 356.2h0M379.2 400.9h0M327.9 378.1h0M410.1 378.1h0M404.6 384.0h0M444.9 356.1h0M409.9 389.1h0M373.1 408.2h0M442.0 309.2h0M383.6 311.2h0M376.3 428.7h0M419.4 347.9h0M389.4 297.9h0M427.7 362.2h0M443.7 376.4h0M375.8 405.4h0M423.1 311.5h0M425.6 281.3h0M359.6 316.2h0M394.3 383.0h0M389.1 348.4h0M405.3 349.6h0M392.1 355.2h0M373.7 341.3h0M446.3 365.2h0M405.4 369.9h0M387.6 320.9h0M398.6 304.4h0M430.1 317.9h0M423.2 355.4h0M436.9 370.9h0M320.7 357.6h0M427.8 269.9h0M426.8 336.8h0M348.3 383.5h0M347.9 409.9h0M444.6 266.6h0M425.1 338.4h0M450.2 326.3h0M439.8 332.8h0M403.4 333.9h0M320.3 399.9h0M439.8 246.2h0M373.4 392.3h0M448.6 339.1h0M370.0 439.7h0M435.9 316.2h0M453.1 325.3h0M362.7 336.9h0M407.9 317.0h0M404.5 336.6h0M373.5 400.4h0M357.0 411.1h0M363.2 382.3h0M425.2 336.6h0M396.4 391.3h0M380.0 336.6h0M395.8 332.8h0M379.2 305.9h0M462.3 295.9h0M445.8 273.8h0M406.2 369.8h0M418.9 363.9h0M343.6 398.7h0M442.2 325.2h0M406.6 387.4h0M368.5 340.4h0M366.0 324.1h0M408.9 326.5h0M433.3 370.2h0M327.0 402.8h0M381.1 360.6h0M367.5 387.9h0M408.7 353.6h0M386.7 295.8h0M386.2 337.7h0M410.1 369.6h0M453.1 355.0h0M399.9 351.3h0M409.7 386.9h0M493.8 371.6h0M455.8 227.8h0M325.8 409.5h0M391.8 374.7h0M377.4 394.4h0M456.5 273.4h0M424.3 357.9h0M423.0 411.2h0M413.5 326.5h0M387.4 393.1h0M491.4 332.6h0M417.2 318.8h0M398.8 369.5h0M392.7 348.2h0M411.4 278.1h0M362.2 414.2h0M470.9 338.4h0M435.5 358.2h0M448.0 358.6h0M444.1 255.3h0M456.8 361.9h0M425.3 359.0h0M472.1 322.0h0M450.6 371.1h0M336.1 367.1h0M342.7 452.3h0M430.2 348.3h0M456.2 298.8h0M385.4 348.2h0M387.2 396.2h0M467.4 303.2h0M417.7 307.8h0M407.1 344.7h0M415.7 396.8h0M425.4 383.5h0M404.5 377.4h0M390.3 372.5h0M438.5 315.7h0M336.2 353.1h0M382.1 430.1h0M427.5 338.8h0M405.5 346.0h0M369.3 449.7h0M439.8 310.3h0M382.0 312.4h0M419.1 380.6h0M347.7 404.1h0M330.5 460.6h0M368.9 432.3h0M400.2 374.6h0M394.8 395.7h0M370.8 314.2h0M439.5 378.3h0M367.0 470.1h0M394.0 321.4h0M408.9 312.7h0M427.9 291.4h0M413.5 385.8h0M358.6 400.2h0M361.3 439.2h0M400.6 417.4h0M449.4 322.9h0M422.5 338.1h0M465.2 314.9h0M443.4 302.1h0M443.4 322.3h0M433.4 322.5h0M370.4 338.0h0M381.7 392.1h0M438.1 388.9h0M405.3 386.0h0M378.8 352.3h0M442.0 312.0h0M424.6 356.4h0M389.4 379.0h0M444.5 315.3h0M468.1 386.2h0M380.7 348.4h0M447.0 308.2h0M348.9 384.3h0M434.1 382.4h0M394.6 347.6h0M392.0 301.7h0M381.0 363.3h0M407.4 322.4h0M337.8 425.3h0M409.1 351.0h0M388.3 310.5h0M388.4 331.8h0M376.8 348.0h0M431.8 378.8h0M389.4 293.8h0M418.3 314.3h0M396.5 355.1h0M441.1 278.0h0M470.6 358.3h0M413.3 377.0h0M414.2 318.3h0M424.9 365.0h0M426.9 311.3h0M392.4 402.9h0M439.7 277.6h0M446.6 323.1h0M440.7 371.5h0M426.2 364.0h0M387.1 307.2h0M529.3 220.6h0M450.0 322.0h0M396.0 347.5h0M369.4 355.2h0M354.1 462.0h0M353.7 414.5h0M373.7 367.5h0M405.9 404.1h0M376.3 404.2h0M350.5 321.1h0M381.9 331.8h0M429.1 306.8h0M445.2 337.0h0M397.7 339.5h0M373.7 435.3h0M357.8 309.6h0M458.2 311.7h0M415.7 302.6h0M428.0 385.9h0M422.8 337.7h0M430.7 340.7h0M423.4 304.2h0M415.4 345.4h0M436.7 334.3h0M428.2 308.6h0M374.6 398.9h0M461.2 352.2h0M398.4 456.4h0M436.4 371.7h0M418.8 294.8h0M436.9 325.4h0M458.2 329.7h0M440.1 370.5h0M419.0 318.8h0M397.9 382.1h0M358.2 476.1h0M356.7 402.3h0M446.3 354.7h0M391.8 379.4h0M483.2 349.1h0M464.3 272.8h0M409.5 314.8h0M399.6 328.8h0M360.7 444.2h0M452.7 321.1h0M376.6 393.8h0M424.3 393.3h0M456.0 350.2h0M407.3 292.5h0M427.7 303.3h0M411.8 354.5h0M427.6 345.5h0M399.7 360.2h0M446.8 265.2h0M417.2 369.8h0M362.2 347.8h0M420.1 371.6h0M344.4 307.3h0M344.6 420.8h0M361.5 401.2h0M350.5 338.2h0M363.6 367.4h0M464.6 323.0h0M408.8 403.6h0M452.7 388.5h0M466.0 334.0h0M356.2 360.4h0M413.4 384.0h0M396.8 368.8h0M432.3 368.3h0M423.8 348.5h0M397.0 402.1h0M447.9 371.6h0M369.7 359.7h0M376.1 419.6h0M478.0 378.5h0M401.0 411.4h0M432.3 362.1h0M453.7 246.8h0M404.0 394.5h0M391.9 369.2h0M460.2 252.6h0M412.2 320.2h0M365.2 372.2h0M388.7 389.3h0M441.6 330.9h0M413.7 388.3h0M431.1 391.7h0M406.3 328.8h0M397.7 336.5h0M456.5 360.2h0M424.3 310.3h0M460.6 382.0h0M403.9 335.1h0M498.2 325.2h0M460.8 336.2h0M391.6 383.9h0M373.2 336.9h0M390.8 387.8h0M403.4 330.8h0M421.2 334.1h0M446.6 324.5h0M458.9 333.8h0M443.7 348.9h0M421.0 365.4h0M409.6 403.8h0M451.2 316.1h0M396.2 321.6h0M404.1 295.8h0M416.7 385.5h0M360.3 309.9h0M420.6 418.0h0M410.0 398.5h0M436.2 269.4h0M442.7 381.6h0M373.1 397.7h0M429.7 426.6h0M428.4 297.9h0M445.0 358.9h0M427.9 379.7h0M392.8 319.5h0M485.4 252.9h0M424.2 322.1h0M380.8 331.3h0M386.9 316.8h0M390.3 386.4h0M406.4 328.6h0M380.5 335.7h0M374.6 330.3h0M404.9 280.7h0M321.4 372.1h0M424.0 361.8h0M428.7 302.8h0M431.5 349.2h0M407.5 318.7h0M441.7 373.2h0M406.3 380.7h0M413.5 317.0h0M422.4 376.6h0M387.5 380.2h0M445.7 335.7h0M479.5 262.8h0M413.2 380.8h0M441.8 339.4h0M435.9 350.1h0M506.1 376.9h0M366.6 370.9h0M463.9 345.7h0M442.8 309.9h0M369.9 313.0h0M359.2 305.0h0M413.2 367.6h0M358.4 296.8h0M399.7 366.5h0M392.6 351.6h0M388.9 324.1h0M429.8 343.2h0M454.6 301.4h0M378.3 344.0h0M391.9 245.1h0M387.1 425.0h0M377.2 327.6h0M440.6 338.7h0M429.6 339.4h0M437.5 320.4h0M386.1 327.5h0M418.0 329.1h0M468.0 365.8h0M469.2 247.9h0M430.7 289.6h0M387.2 373.6h0M454.1 263.1h0M437.3 375.6h0M353.8 430.0h0M391.2 397.9h0M450.9 370.5h0M383.6 380.4h0M432.2 337.2h0M436.6 357.8h0M354.2 400.7h0M406.1 351.8h0M418.6 291.7h0M462.9 275.3h0M415.6 368.9h0M382.4 336.8h0M467.0 297.2h0M442.0 299.0h0M433.1 360.3h0M424.1 354.2h0M421.5 332.0h0M392.4 340.9h0M438.4 305.0h0M407.6 341.2h0M445.6 335.1h0M361.2 416.9h0M376.7 351.0h0M342.0 407.9h0M388.0 359.2h0M423.3 296.4h0M378.2 421.5h0M407.0 336.1h0M354.7 410.3h0M451.2 297.0h0M424.9 347.2h0M443.8 326.9h0M438.0 422.2h0M442.6 312.5h0M374.6 339.6h0M394.0 358.8h0M408.2 337.0h0M387.0 389.2h0M365.7 382.0h0M443.2 315.6h0M352.3 370.3h0M406.2 317.4h0M497.8 281.5h0M419.8 349.2h0M430.4 299.0h0M436.7 326.4h0M368.7 374.8h0M445.7 334.6h0M424.2 383.0h0M445.0 292.3h0M440.2 317.1h0M393.4 294.0h0M421.8 391.8h0M442.9 317.6h0M398.9 332.4h0M391.1 399.8h0M302.7 352.0h0M372.8 392.6h0M375.2 389.8h0M430.0 280.3h0M400.7 313.2h0M332.8 352.1h0M428.9 287.5h0M387.3 374.8h0M415.3 317.3h0M507.2 266.5h0M393.5 402.0h0M421.9 341.7h0M461.0 348.8h0M437.4 358.2h0M464.4 314.2h0M404.3 339.6h0M392.0 336.8h0M370.3 378.7h0M364.7 335.7h0M302.8 347.1h0M418.5 262.9h0M387.9 384.0h0M337.0 382.9h0M390.5 379.1h0M424.4 345.6h0M402.2 445.3h0M338.6 342.1h0M362.3 419.7h0M363.6 353.7h0M366.1 362.2h0M356.4 372.9h0M401.6 355.5h0M393.0 397.8h0M405.5 309.4h0M439.4 380.6h0M444.4 326.9h0M445.7 353.4h0M422.2 397.1h0M373.2 336.7h0M400.8 334.3h0M414.7 341.0h0M352.5 363.4h0M418.0 295.0h0M468.0 323.6h0M442.6 394.1h0M402.5 390.2h0M360.7 257.7h0M447.6 312.3h0M467.8 296.7h0M384.4 390.6h0M437.6 320.1h0M416.3 404.6h0M367.3 393.6h0M439.7 390.7h0M331.9 375.3h0M360.4 384.6h0M458.7 331.2h0M391.8 361.8h0M373.1 394.8h0M391.8 462.8h0M393.1 405.2h0M293.4 454.2h0M324.6 460.2h0M276.2 474.2h0M281.2 519.8h0" stroke="#E82E8B" stroke-width="17.2" stroke-linecap="round" fill="none" stroke-opacity="0.82"/>
<path d="M639.2 94.6h0M565.4 239.4h0M486.0 170.2h0M506.8 215.6h0M491.7 223.1h0M402.8 228.8h0M363.1 239.4h0M277.2 354.4h0M291.2 367.6h0M529.5 302.6h0M518.2 400.9h0M482.2 431.2h0M313.9 523.1h0M234.5 547.7h0M243.9 525.7h0M296.9 591.9h0M300.7 387.7h0M295.0 438.7h0M310.1 495.5h0M317.7 302.6h0M310.1 336.6h0M469.0 423.6h0M487.9 400.9h0M427.4 457.6h0M363.1 476.6h0M516.3 264.8h0M521.9 257.2h0M469.0 242.1h0M453.9 234.5h0" stroke="#E82E8B" stroke-width="17.2" stroke-linecap="round" fill="none" stroke-opacity="0.82"/>
<path d="M371.5 364.1h0M364.1 386.5h0M403.0 312.3h0M439.0 385.2h0M386.9 408.8h0M401.9 389.0h0M403.3 388.9h0M389.4 346.5h0M430.5 336.2h0M412.0 369.4h0M441.7 295.4h0M399.0 356.7h0M437.6 377.1h0M346.7 379.2h0M377.4 353.5h0M402.9 316.2h0M391.5 370.9h0M386.6 344.2h0M389.1 368.7h0M394.7 294.4h0M363.5 412.9h0M406.6 362.8h0M430.6 302.2h0M355.8 401.8h0M379.9 399.3h0M387.8 328.7h0M391.4 365.5h0M394.8 432.8h0M407.3 344.7h0M405.5 355.1h0M411.5 315.5h0M439.5 341.9h0M433.0 371.2h0M475.4 321.9h0M405.5 346.2h0M324.8 362.9h0M349.4 326.0h0M423.6 344.7h0M315.4 412.5h0M422.2 398.8h0M406.9 337.6h0M300.5 412.4h0M390.1 425.9h0M419.8 394.6h0M426.2 261.5h0M346.8 335.2h0M353.9 335.7h0M433.6 375.0h0M407.8 383.6h0M370.2 381.6h0M420.6 345.9h0M414.2 369.1h0M440.3 359.5h0M359.3 365.1h0M396.5 364.2h0M402.8 403.2h0M403.5 315.8h0M421.3 347.2h0M430.3 278.1h0M439.0 279.0h0M375.9 346.1h0M405.1 362.0h0M417.1 338.1h0M417.5 317.0h0M404.7 315.9h0M416.8 343.4h0M427.2 299.3h0M411.9 291.7h0M383.5 319.7h0M452.5 315.6h0M368.2 386.6h0M396.3 370.5h0M402.8 388.1h0M404.2 350.5h0M361.2 366.3h0M310.9 395.8h0M424.6 349.4h0M376.6 362.3h0M413.1 343.3h0M408.2 346.9h0M359.7 328.1h0M419.2 372.9h0M431.9 374.0h0M367.8 367.0h0M425.3 343.2h0M439.4 340.4h0M429.5 368.9h0M409.5 319.7h0M424.3 296.9h0M375.5 326.6h0M431.4 355.3h0M386.6 311.3h0M412.5 348.6h0M412.2 304.7h0M405.7 302.4h0M399.3 330.8h0M387.3 404.1h0M436.7 366.0h0M362.8 369.9h0M344.6 388.4h0M379.8 363.1h0M380.7 377.7h0M393.0 380.0h0M371.5 353.0h0M406.0 371.2h0M435.8 370.8h0M457.6 348.4h0M371.6 377.5h0M354.2 401.7h0M367.1 357.4h0M444.3 350.3h0M420.8 346.2h0M407.2 401.2h0M393.2 343.5h0M460.3 359.2h0M399.0 390.6h0M390.6 369.5h0M353.3 379.0h0M404.9 350.6h0M417.0 362.7h0M423.1 375.1h0M373.6 376.9h0M429.0 343.6h0M395.8 305.1h0M404.2 366.5h0M410.0 415.2h0M413.2 397.8h0M418.9 262.6h0M410.6 310.7h0M431.7 330.8h0M387.3 336.3h0M430.0 338.5h0M503.8 269.7h0M354.7 374.2h0M409.3 367.8h0M343.6 400.6h0M378.0 403.9h0M378.8 411.4h0M381.7 357.1h0M414.1 361.0h0M340.2 439.4h0M434.7 367.4h0M430.4 375.0h0M387.8 399.4h0M427.8 361.3h0M455.4 281.3h0M421.0 363.9h0M443.9 377.2h0M409.0 376.6h0M459.9 320.8h0M423.2 400.7h0M335.0 402.3h0M394.2 368.5h0M357.7 377.8h0M441.3 343.7h0M413.8 313.9h0M405.4 343.2h0M418.5 369.3h0M399.9 295.4h0M415.9 295.3h0M408.0 293.8h0M401.7 337.1h0M428.4 403.6h0M437.1 343.5h0M347.3 389.2h0M396.1 376.5h0M444.5 341.2h0M424.4 385.2h0M368.5 356.5h0M397.1 398.0h0M381.7 400.6h0M427.7 274.7h0M390.9 364.1h0M348.8 435.0h0M426.7 361.1h0M400.7 371.2h0M421.5 329.4h0M407.5 342.1h0M437.5 341.3h0M393.9 335.5h0M421.2 300.5h0M450.0 282.1h0M436.1 350.9h0M380.3 452.1h0M437.2 337.7h0M439.1 370.0h0M364.3 322.4h0M408.9 350.3h0M355.2 321.1h0M414.2 376.7h0M395.5 383.8h0M444.2 307.5h0M400.6 397.2h0M498.6 291.7h0M408.6 327.1h0M437.5 317.5h0M437.6 349.6h0M366.2 352.4h0M421.8 374.7h0M390.4 340.5h0M389.3 388.5h0M390.2 353.4h0M366.8 375.3h0M351.5 389.5h0M427.7 369.8h0M366.9 307.1h0M474.9 383.5h0M380.1 329.7h0M396.1 389.3h0M433.3 306.2h0M394.6 412.2h0M337.6 413.3h0M368.0 398.1h0M466.3 296.5h0M375.0 373.1h0M411.2 404.3h0M414.4 383.8h0M349.0 427.7h0M406.7 410.8h0M432.7 365.6h0M462.5 330.0h0M465.8 270.2h0M463.0 315.2h0M373.9 343.6h0M412.3 378.6h0M376.7 301.8h0M383.6 348.0h0M367.7 397.3h0M387.7 339.7h0M432.8 268.1h0M417.3 383.6h0M363.6 358.9h0M467.8 312.2h0M393.6 323.8h0M412.7 386.8h0M439.9 386.5h0M481.5 366.7h0M417.8 360.7h0M384.1 358.8h0M399.5 295.5h0M419.4 383.4h0M458.6 366.0h0M425.0 390.7h0M447.9 286.2h0M437.3 338.6h0M382.7 321.8h0M457.2 327.2h0M447.4 337.4h0M446.2 360.8h0M416.5 376.6h0M376.7 363.1h0M402.3 336.9h0M405.6 306.9h0M397.0 355.4h0M477.6 284.7h0M358.5 363.2h0M384.7 374.9h0M368.7 399.7h0M383.3 409.4h0M460.6 370.6h0M429.6 378.4h0M428.0 282.0h0M419.0 334.7h0M427.6 359.1h0M398.2 330.6h0M375.8 419.8h0M437.7 349.5h0M421.2 386.8h0M343.0 355.6h0M397.8 359.9h0M437.4 368.8h0M383.2 339.2h0M419.3 337.6h0M430.7 347.7h0M387.5 406.5h0M424.1 298.0h0M403.1 318.0h0M444.0 318.2h0M420.7 340.8h0M425.4 380.3h0M424.3 343.6h0M383.7 280.7h0M365.3 406.9h0M370.4 371.6h0M397.6 341.5h0M373.2 427.7h0M335.2 382.7h0M378.3 371.6h0M421.0 353.3h0M472.2 316.4h0M417.2 382.1h0M360.1 382.8h0M420.0 321.7h0M408.7 370.2h0M440.2 323.8h0M348.1 311.6h0M403.9 314.8h0M428.3 342.0h0M352.9 401.5h0M405.2 356.4h0M418.0 281.6h0M300.7 417.5h0M378.8 331.6h0M424.3 304.4h0M399.0 364.9h0M408.2 365.9h0M398.6 344.2h0M367.7 384.3h0M415.8 366.1h0M424.2 370.7h0M397.3 414.2h0M425.4 354.2h0M430.6 363.3h0M387.3 336.9h0M462.5 328.7h0M435.8 379.1h0M387.5 359.3h0M404.0 331.5h0M402.4 320.1h0M401.2 353.7h0M482.0 330.3h0M427.1 385.6h0M347.1 397.6h0M376.9 310.6h0M479.4 324.0h0M401.3 314.9h0M378.3 309.8h0M426.2 335.6h0M413.7 375.3h0M456.8 317.3h0M388.3 358.2h0M409.9 363.0h0M347.4 305.6h0M404.5 371.5h0M421.4 321.4h0M451.3 286.5h0M457.1 360.5h0M456.5 303.4h0M427.1 325.9h0M402.2 371.5h0M430.4 331.7h0M367.9 351.6h0M436.0 396.6h0M416.3 401.9h0M367.6 356.8h0M414.5 372.6h0M408.8 415.3h0M451.3 349.3h0M419.7 313.2h0M473.6 323.8h0M401.5 333.9h0M423.0 347.9h0M421.7 385.6h0M419.7 346.1h0M388.8 376.8h0M369.0 417.6h0M434.2 323.2h0M385.5 395.7h0M402.5 341.6h0M392.4 376.0h0M523.0 322.0h0M399.5 318.8h0M404.9 382.1h0M404.4 374.1h0M407.1 373.1h0M358.5 374.6h0M401.0 340.8h0M400.5 361.7h0M398.4 342.7h0M402.9 338.0h0M409.5 333.7h0M393.0 373.6h0M317.8 379.6h0M394.2 340.2h0M429.0 346.9h0M368.3 313.3h0M462.7 306.9h0M473.4 350.6h0M409.1 330.4h0M431.5 317.4h0M408.8 434.3h0M379.3 424.1h0M394.2 365.7h0M441.0 278.8h0M397.8 359.9h0M374.2 362.9h0M447.8 312.7h0M413.6 288.4h0M435.4 334.3h0M436.5 411.6h0M395.7 325.8h0M390.1 362.6h0M434.2 308.1h0M381.2 369.4h0M396.5 350.4h0M364.1 404.5h0M417.7 379.0h0M350.9 407.3h0M388.5 321.2h0M484.2 334.7h0M452.0 325.3h0M396.2 341.9h0M354.9 407.9h0M349.2 431.1h0M453.8 325.9h0M418.3 382.7h0M361.6 362.8h0M375.0 318.5h0M387.4 416.7h0M384.1 368.1h0M425.2 383.8h0M429.7 339.6h0M438.6 407.2h0M379.8 334.1h0M403.0 400.3h0M409.1 437.2h0M404.1 318.6h0M448.0 330.0h0M468.3 313.7h0M417.8 316.6h0M460.5 299.1h0M427.1 316.5h0M382.2 381.1h0M481.5 283.3h0M422.7 325.0h0M442.6 292.5h0M419.8 354.6h0M411.0 335.4h0M398.1 352.7h0M408.2 402.7h0M436.5 277.8h0M408.9 328.8h0M436.3 313.0h0M370.9 387.6h0M400.6 279.9h0M414.6 330.9h0M445.2 326.1h0M431.3 324.9h0M388.7 362.3h0M383.5 393.2h0M437.9 339.6h0M405.7 355.5h0M378.8 388.2h0M425.1 299.5h0M370.4 397.4h0M385.0 306.3h0M441.9 334.6h0M417.4 341.3h0M449.7 324.4h0M389.0 410.6h0M425.7 329.5h0M446.4 323.9h0M439.5 337.5h0M407.1 381.2h0M424.5 288.7h0M423.2 335.6h0M387.4 403.6h0M399.5 317.7h0M372.5 404.8h0M351.5 370.0h0M470.8 252.5h0M390.8 303.7h0M431.3 336.1h0M355.4 379.6h0M348.1 403.0h0M352.6 424.5h0M404.2 320.7h0M448.0 323.6h0M420.0 308.3h0M416.3 338.7h0M361.1 354.8h0M408.1 353.0h0M421.1 382.2h0M421.6 299.8h0M408.3 369.7h0M378.6 415.3h0M444.4 370.8h0M397.2 348.1h0M440.5 337.7h0M406.7 368.0h0M368.2 344.4h0M417.7 350.9h0M503.7 345.1h0M435.4 360.2h0M410.1 337.2h0M423.6 318.4h0M433.2 342.9h0M412.4 362.6h0M420.1 315.7h0M443.7 307.8h0M450.9 304.3h0M382.9 404.5h0M407.6 337.4h0M430.8 351.2h0M378.4 340.6h0M453.6 305.8h0M453.6 325.9h0M377.0 348.1h0M484.1 324.3h0M378.3 340.1h0M404.3 375.1h0M368.4 409.4h0M431.2 380.5h0M375.4 377.4h0M398.7 308.4h0M435.6 318.2h0M409.8 382.9h0M361.2 390.8h0M401.3 378.0h0M387.3 356.0h0M395.0 353.7h0M351.0 459.1h0M376.2 306.4h0M438.0 411.4h0M419.6 318.8h0M394.6 370.6h0M438.9 341.5h0M336.0 338.2h0M438.7 273.6h0M440.8 320.5h0M387.2 351.7h0M470.6 257.3h0M494.4 344.5h0M404.9 367.8h0M366.7 408.1h0M409.6 337.0h0M427.4 379.3h0M374.2 372.4h0M399.8 348.1h0M468.5 318.3h0M481.2 332.1h0M329.6 410.2h0M438.0 369.7h0M401.7 282.3h0M395.1 351.0h0M377.4 389.4h0M437.1 295.3h0M407.2 375.4h0M439.3 291.3h0M414.6 292.6h0M412.0 355.6h0M372.5 407.4h0M390.3 363.9h0M364.9 427.1h0M416.0 375.9h0M429.2 339.8h0M382.4 437.4h0M346.3 285.3h0M353.0 464.7h0M457.4 352.1h0M446.2 378.3h0M394.7 325.3h0M372.1 347.5h0M467.2 345.7h0M448.1 359.4h0M384.5 343.2h0M440.3 308.5h0M418.4 341.6h0M413.0 399.4h0M407.2 400.7h0M486.7 321.6h0M380.8 395.3h0M386.6 389.1h0M398.2 369.8h0M409.6 271.8h0M376.7 366.5h0M383.3 387.9h0M381.8 406.6h0M399.0 380.0h0M463.0 358.3h0M384.6 334.4h0M455.6 366.4h0M445.3 361.4h0M413.9 358.3h0M384.6 399.6h0M392.5 372.3h0M345.7 322.1h0M434.6 294.9h0M439.5 287.5h0M443.3 400.9h0M391.5 348.9h0M410.1 368.9h0M413.8 476.2h0M395.9 388.4h0M468.4 317.2h0M468.6 232.0h0M428.7 341.0h0M374.2 333.4h0M385.3 430.6h0M411.8 345.5h0M405.8 329.9h0M359.1 397.7h0M403.8 321.0h0M426.8 314.2h0M407.6 388.2h0M419.3 353.7h0M409.5 386.9h0M395.5 385.6h0M466.6 356.4h0M435.7 357.7h0M401.6 355.0h0M440.8 322.1h0M371.1 408.6h0M447.5 340.5h0M426.2 450.1h0M409.5 321.9h0M474.5 410.8h0M383.0 401.3h0M418.3 396.3h0M410.3 352.4h0M443.1 316.9h0M462.6 327.1h0M401.4 360.3h0M408.5 319.7h0M392.5 380.0h0M427.3 327.9h0M431.0 341.2h0M423.9 327.0h0M407.4 374.8h0M454.3 375.2h0M316.7 421.5h0M409.3 355.5h0M400.5 412.6h0M430.5 369.9h0M366.3 375.0h0M336.9 358.2h0M452.6 356.3h0M398.7 308.1h0M426.9 304.2h0M434.4 299.5h0M398.6 328.6h0M458.1 359.8h0M463.9 283.7h0M482.6 295.9h0M401.7 338.5h0M359.9 332.8h0M428.4 380.4h0M451.7 314.7h0M417.8 367.3h0M452.4 340.2h0M446.8 321.0h0M370.8 376.7h0M407.2 359.2h0M406.7 295.6h0M415.6 370.6h0M418.8 396.8h0M400.4 381.5h0M425.0 371.2h0M394.9 372.8h0M398.0 309.4h0M460.4 351.7h0M421.3 323.2h0M422.6 392.5h0M383.0 359.3h0M417.3 326.1h0M430.1 311.8h0M415.7 374.1h0M390.2 304.4h0M403.5 357.6h0M438.6 328.2h0M450.7 329.7h0M423.3 380.8h0M451.5 311.9h0M473.2 282.3h0M441.8 325.2h0M436.4 353.6h0M395.2 424.7h0M369.0 345.3h0M381.2 334.1h0M453.0 343.1h0M396.3 323.2h0M481.8 266.2h0M364.9 360.6h0M410.4 289.6h0M400.0 345.9h0M350.9 419.2h0M415.1 319.9h0M465.7 300.0h0M386.7 303.3h0M441.2 301.7h0M369.4 379.5h0M411.0 326.2h0M402.0 355.2h0M387.9 340.2h0M385.9 346.4h0M346.3 369.0h0M382.9 354.3h0M469.4 356.4h0M413.2 373.4h0M479.1 298.9h0M414.0 311.1h0M384.6 284.4h0M458.5 296.4h0M430.8 335.7h0M433.4 308.9h0M437.0 328.1h0M430.4 327.6h0M459.8 303.6h0M411.3 367.1h0M381.4 383.7h0M354.7 394.8h0M426.4 361.2h0M428.0 356.1h0M421.5 348.1h0M445.6 271.3h0M400.9 378.7h0M392.7 380.8h0M384.3 363.7h0M314.8 349.1h0M404.9 381.1h0M378.3 405.6h0M391.5 312.7h0M450.6 242.8h0M436.7 361.3h0M478.5 276.1h0M417.8 302.4h0M470.6 385.8h0M381.1 376.5h0M404.8 352.7h0M336.1 401.6h0M418.9 268.3h0M415.2 365.3h0M438.2 281.1h0M397.4 373.2h0M414.7 348.6h0M439.0 344.8h0M377.8 397.1h0M366.0 396.4h0M415.9 366.9h0M415.4 361.8h0M471.2 333.7h0M424.2 312.2h0M427.8 308.0h0M424.0 395.9h0M403.7 332.8h0M385.4 408.8h0M423.2 279.7h0M396.8 357.1h0M447.9 288.0h0M394.2 334.4h0M434.2 359.5h0M376.8 375.4h0M418.4 344.1h0M451.3 339.9h0M389.0 367.8h0M386.3 338.9h0M402.4 322.2h0M379.7 377.4h0M447.4 320.6h0M422.8 319.7h0M423.3 315.3h0M417.8 379.9h0M406.6 327.3h0M339.6 392.6h0M435.0 321.8h0M447.8 355.0h0M398.2 328.0h0M423.6 297.5h0M414.5 353.3h0M440.7 397.3h0M461.4 356.4h0M381.1 364.0h0M386.0 331.2h0M384.6 345.8h0M396.6 345.9h0M444.3 333.3h0M425.9 309.7h0M439.0 329.5h0M424.1 334.3h0M418.3 329.3h0M377.1 353.8h0M500.2 320.9h0M411.0 348.1h0M373.2 388.9h0M456.7 299.8h0M400.4 306.5h0M452.3 312.3h0M393.6 342.8h0M376.3 338.5h0M419.3 325.2h0M417.0 308.5h0M389.4 363.2h0M420.0 403.2h0M435.9 365.6h0M400.3 349.6h0M404.4 348.1h0M436.0 325.0h0M418.1 307.7h0M376.0 387.4h0M379.9 340.8h0M435.1 303.9h0M345.4 330.2h0M442.2 356.4h0M421.5 322.6h0M394.3 399.0h0M412.9 322.1h0M450.0 347.9h0M326.8 397.8h0M445.0 329.1h0M386.6 378.3h0M300.0 472.1h0M262.8 526.9h0M286.2 471.4h0M279.9 507.5h0M282.0 496.3h0M287.8 497.3h0M312.9 443.9h0M319.4 437.8h0M293.6 497.1h0M330.2 456.9h0" stroke="#64A83F" stroke-width="17.2" stroke-linecap="round" fill="none" stroke-opacity="0.82"/>
<path d="M400.6 331.6h0M409.9 348.1h0M387.6 349.1h0M402.0 353.3h0M364.7 432.0h0M481.5 314.5h0M379.1 422.6h0M421.2 333.4h0M386.4 340.5h0M439.0 302.0h0M451.6 264.2h0M423.4 315.2h0M392.8 396.4h0M383.4 342.8h0M387.4 361.6h0M378.8 335.3h0M407.2 403.8h0M478.3 322.6h0M332.9 417.7h0M379.8 341.8h0M432.4 391.6h0M462.9 313.9h0M421.6 357.8h0M315.4 401.7h0M351.0 397.9h0M381.5 399.7h0M450.9 344.2h0M428.2 316.9h0M413.0 328.4h0M391.9 378.2h0M407.9 313.8h0M454.3 252.0h0M429.2 343.1h0M371.0 378.3h0M404.9 335.4h0M418.1 382.6h0M320.9 404.1h0M443.5 365.3h0M363.9 441.2h0M410.3 358.2h0M432.6 303.1h0M427.0 374.4h0M439.9 338.6h0M459.2 364.0h0M411.3 365.5h0M383.5 335.9h0M428.1 382.4h0M425.7 324.6h0M348.5 374.3h0M477.5 279.6h0M422.3 295.9h0M529.6 289.2h0M479.2 356.0h0M390.8 355.4h0M420.3 367.2h0M398.0 310.5h0M452.4 350.0h0M374.2 386.8h0M383.9 372.7h0M423.8 362.1h0M433.0 372.8h0M417.3 296.5h0M439.3 317.5h0M357.1 364.4h0M431.1 339.1h0M418.5 383.9h0M362.8 344.0h0M422.3 387.2h0M431.7 355.8h0M473.9 289.9h0M438.3 357.8h0M407.9 323.7h0M443.0 361.5h0M408.9 284.7h0M471.9 333.8h0M427.1 364.0h0M460.0 330.6h0M423.6 378.6h0M431.8 335.1h0M365.5 379.8h0M424.7 365.5h0M372.8 356.8h0M428.7 315.9h0M389.8 355.4h0M385.2 397.8h0M423.1 325.5h0M365.9 347.1h0M426.3 415.7h0M364.8 349.1h0M435.9 409.0h0M425.0 380.2h0M345.1 406.9h0M369.1 370.1h0M388.7 336.4h0M407.8 365.8h0M372.9 359.3h0M391.8 334.3h0M426.8 314.9h0M442.6 297.5h0M385.0 330.4h0M461.5 319.0h0M441.4 343.2h0M442.3 333.1h0M461.3 317.0h0M453.1 351.4h0M321.3 340.9h0M327.7 380.7h0M455.4 272.9h0M435.8 315.0h0M444.8 335.4h0M402.3 356.6h0M377.7 347.5h0M423.5 337.0h0M453.6 285.3h0M443.1 303.4h0M446.1 354.0h0M416.9 412.1h0M416.7 307.4h0M416.3 367.5h0M461.0 301.8h0M424.5 394.7h0M417.3 365.6h0M419.5 301.3h0M435.2 383.8h0M425.8 383.1h0M388.1 378.8h0M381.3 388.6h0M454.1 386.4h0M381.7 382.2h0M365.1 328.6h0M387.2 372.4h0M436.8 312.3h0M414.7 374.9h0M392.3 348.1h0M386.5 366.6h0M382.2 341.2h0M367.9 351.1h0M384.5 409.7h0M455.0 291.4h0M420.6 292.1h0M443.2 344.5h0M450.5 427.6h0M394.4 390.6h0M424.6 301.8h0M420.0 372.0h0M391.8 377.3h0M422.9 323.1h0M367.0 361.6h0M411.5 368.8h0M390.9 308.5h0M413.8 372.8h0M436.7 321.1h0M383.9 315.4h0M387.5 331.0h0M350.5 329.4h0M471.6 332.3h0M418.3 297.7h0M400.0 390.0h0M432.3 368.7h0M368.4 362.1h0M391.4 363.6h0M377.2 416.2h0M374.7 372.3h0M473.7 321.1h0M389.6 346.7h0M381.9 326.3h0M417.5 303.2h0M393.7 339.8h0M395.6 322.9h0M421.3 332.1h0M396.8 427.6h0M454.7 321.7h0M363.1 398.9h0M404.0 352.5h0M449.7 293.6h0M367.1 411.4h0M391.3 408.0h0M389.2 384.8h0M420.0 389.2h0M398.6 304.7h0M372.0 351.9h0M424.3 347.2h0M424.3 339.1h0M440.0 405.4h0M459.9 383.2h0M446.0 330.2h0M366.7 315.0h0M425.4 280.7h0M379.0 373.4h0M416.9 326.7h0M385.5 297.9h0M440.9 304.7h0M386.9 301.6h0M369.7 360.9h0M370.0 382.9h0M425.2 346.1h0M385.3 444.0h0M433.1 385.6h0M403.3 340.3h0M376.4 360.2h0M371.6 419.0h0M405.3 339.4h0M424.9 287.8h0M412.9 366.7h0M406.8 344.4h0M431.6 312.3h0M398.4 349.2h0M425.6 344.2h0M416.1 337.8h0M412.3 351.0h0M415.4 384.5h0M378.5 398.5h0M368.2 488.1h0M393.3 382.7h0M387.9 330.2h0M404.2 328.7h0M391.6 402.8h0M421.6 380.6h0M396.3 356.6h0M443.4 338.2h0M422.0 319.4h0M391.8 379.0h0M475.5 338.5h0M387.0 364.0h0M347.8 409.3h0M474.4 370.0h0M495.1 281.7h0M445.9 332.5h0M414.7 368.6h0M462.5 290.0h0M397.2 369.1h0M397.8 335.3h0M401.0 316.9h0M408.3 356.4h0M389.4 397.4h0M353.9 389.6h0M463.8 263.0h0M404.2 367.2h0M449.7 358.9h0M392.1 415.3h0M393.0 400.1h0M457.9 307.9h0M464.4 310.5h0M377.2 372.1h0M439.7 385.4h0M372.3 450.4h0M365.9 353.4h0M428.8 356.0h0M377.5 364.5h0M421.0 313.3h0M459.4 304.1h0M366.6 392.5h0M364.5 354.6h0M394.5 313.8h0M370.1 360.2h0M378.7 384.0h0M407.6 310.4h0M316.1 407.4h0M377.0 362.4h0M380.3 334.2h0M473.8 280.8h0M425.6 293.2h0M449.5 340.9h0M420.5 377.8h0M395.9 341.5h0M413.1 369.2h0M453.0 351.9h0M467.6 306.3h0M459.7 291.0h0M403.0 414.3h0M432.2 320.7h0M470.9 328.1h0M364.0 363.6h0M418.8 334.8h0M381.1 337.1h0M473.3 275.9h0M380.3 327.7h0M391.0 385.5h0M426.4 368.1h0M380.4 344.6h0M360.6 372.9h0M366.6 380.6h0M450.9 367.8h0M448.3 288.0h0M455.0 314.6h0M428.4 313.8h0M398.1 332.9h0M419.3 363.4h0M476.9 313.9h0M365.1 332.9h0M416.3 281.1h0M385.2 357.6h0M324.6 439.9h0M404.7 336.0h0M461.5 327.7h0M421.2 272.5h0M436.1 372.6h0M432.3 380.3h0M391.5 333.4h0M432.1 367.5h0M477.8 373.2h0M435.8 320.4h0M446.1 274.4h0M373.4 355.1h0M357.3 414.4h0M410.8 345.8h0M429.1 342.7h0M354.9 350.5h0M391.4 370.2h0M432.2 309.6h0M401.0 438.5h0M377.2 325.4h0M405.8 303.1h0M409.7 399.7h0M456.5 327.3h0M415.3 342.6h0M347.7 396.6h0M423.9 366.0h0M417.5 277.0h0M370.1 276.5h0M461.8 341.5h0M429.7 332.2h0M386.1 339.6h0M410.8 427.6h0M427.1 405.7h0M483.5 278.4h0M401.2 297.7h0M398.2 381.4h0M438.8 326.8h0M465.6 320.2h0M459.6 331.0h0M405.1 344.0h0M368.5 327.7h0M477.3 353.4h0M437.2 325.2h0M430.4 361.7h0M382.6 284.5h0M398.2 285.8h0M414.6 352.4h0M436.8 363.5h0M352.9 363.8h0M378.9 322.0h0M412.5 328.6h0M430.3 355.3h0M374.1 320.5h0M411.9 384.6h0M420.2 413.4h0M396.3 372.2h0M377.9 338.1h0M400.4 311.1h0M416.5 343.0h0M459.3 280.6h0M393.5 350.1h0M393.7 320.9h0M418.9 311.8h0M394.5 385.9h0M378.0 384.6h0M441.5 338.2h0M448.9 312.7h0M445.2 336.7h0M379.0 382.8h0M389.5 345.6h0M425.7 285.4h0M358.0 413.6h0M448.8 278.0h0M427.3 408.8h0M396.6 350.3h0M435.5 337.2h0M391.5 380.5h0M384.2 385.8h0M430.8 384.3h0M451.6 327.9h0M349.9 381.1h0M383.5 343.5h0M444.4 345.2h0M403.8 408.5h0M439.1 324.1h0M376.4 374.3h0M382.7 343.0h0M401.4 362.1h0M447.8 343.4h0M394.5 350.5h0M384.1 399.7h0M380.5 347.7h0M393.1 367.4h0M425.4 332.8h0M459.4 310.5h0M411.4 379.0h0M445.2 310.4h0M403.2 330.1h0M386.2 318.8h0M419.3 334.4h0M456.3 332.7h0M422.1 328.8h0M404.7 375.7h0M436.0 364.5h0M399.9 346.5h0M433.8 348.8h0M447.2 325.0h0M417.8 370.2h0M493.7 321.3h0M337.2 303.3h0M467.6 365.8h0M392.2 426.9h0M456.6 367.9h0M364.3 414.9h0M370.1 423.8h0M411.6 353.8h0M397.8 351.7h0M387.7 353.0h0M398.4 331.8h0M401.2 342.9h0M402.9 372.1h0M393.4 371.2h0M386.0 348.4h0M409.0 362.1h0M408.8 402.9h0M359.6 373.0h0M434.5 330.5h0M437.5 330.1h0M351.6 359.1h0M376.7 309.2h0M400.9 351.2h0M423.4 309.6h0M434.5 288.0h0M426.3 356.7h0M401.0 306.1h0M373.4 389.5h0M398.2 373.3h0M403.4 376.1h0M389.6 352.4h0M391.6 373.2h0M404.7 333.8h0M428.0 407.3h0M388.5 429.1h0M417.4 315.5h0M394.2 390.0h0M434.7 394.6h0M350.0 278.4h0M383.9 340.9h0M387.8 369.5h0M375.4 381.1h0M401.5 348.3h0M394.3 319.9h0M461.5 329.0h0M433.0 371.5h0M371.1 416.7h0M432.8 332.0h0M435.7 346.6h0M388.3 401.2h0M416.6 439.5h0M385.7 405.7h0M439.4 338.8h0M452.5 302.9h0M410.1 357.2h0M404.9 396.0h0M398.3 341.3h0M354.1 373.3h0M391.3 347.6h0M395.0 331.4h0M439.5 334.5h0M462.7 331.6h0M411.9 371.0h0M401.2 347.2h0M397.8 380.7h0M406.8 314.3h0M396.0 375.0h0M402.1 351.5h0M402.6 385.5h0M376.9 399.4h0M369.4 368.9h0M445.3 383.6h0M377.3 326.1h0M429.5 396.5h0M486.5 322.3h0M365.5 354.6h0M365.1 428.6h0M396.6 377.5h0M400.7 311.7h0M397.0 348.0h0M350.2 396.2h0M406.6 345.4h0M438.9 268.8h0M467.2 328.1h0M383.4 395.7h0M411.9 369.5h0M484.4 301.5h0M457.5 305.9h0M468.3 309.9h0M397.2 355.9h0M406.5 370.1h0M380.6 376.3h0M444.0 287.7h0M441.1 347.0h0M399.8 331.9h0M375.0 355.3h0M446.3 319.4h0M438.8 313.8h0M422.0 300.8h0M367.2 377.7h0M368.8 439.3h0M360.3 391.7h0M399.5 388.1h0M383.0 359.6h0M376.7 402.2h0M375.0 400.5h0M423.8 355.6h0M338.1 472.7h0M358.9 266.5h0M400.2 340.6h0M474.2 288.3h0M375.4 376.1h0M381.9 300.3h0M394.9 386.8h0M357.6 343.3h0M415.6 370.8h0M417.6 329.0h0M377.5 360.5h0M392.2 349.8h0M423.1 380.2h0M421.5 354.9h0M397.9 405.2h0M458.3 286.8h0M469.5 347.4h0M445.8 293.5h0M390.8 381.5h0M408.5 382.4h0M505.1 337.5h0M394.4 321.8h0M401.6 347.9h0M371.4 413.9h0M444.2 361.9h0M395.4 349.2h0M429.6 330.1h0M359.1 313.9h0M430.2 310.8h0M467.2 251.4h0M377.4 379.6h0M448.8 314.4h0M413.8 364.7h0M422.3 347.5h0M477.2 302.9h0M336.3 415.7h0M387.4 373.2h0M422.6 328.0h0M421.3 343.7h0M365.0 275.4h0M425.2 378.9h0M465.5 331.0h0M415.0 336.3h0M418.1 378.8h0M377.1 323.1h0M374.9 345.1h0M420.5 356.5h0M445.2 327.2h0M431.4 361.4h0M457.3 339.2h0M388.3 364.5h0M445.8 302.5h0M391.8 309.5h0M515.4 269.9h0M495.4 287.3h0M472.3 364.0h0M368.2 418.3h0M448.2 340.3h0M383.9 359.2h0M432.4 373.3h0M402.5 410.9h0M419.5 299.0h0M400.2 379.4h0M406.4 357.8h0M418.7 328.0h0M463.8 335.8h0M437.5 330.7h0M445.8 276.3h0M357.7 385.9h0M406.6 374.3h0M415.4 330.1h0M411.4 338.4h0M425.4 331.0h0M423.6 352.8h0M385.0 263.8h0M400.0 369.3h0M420.7 351.9h0M394.0 329.8h0M392.8 365.2h0M366.0 442.0h0M428.9 355.1h0M399.9 380.8h0M389.2 400.9h0M395.6 389.6h0M432.4 306.8h0M409.1 271.4h0M440.7 365.4h0M443.4 350.3h0M403.3 306.7h0M406.6 361.5h0M391.5 452.0h0M389.3 315.2h0M449.0 329.3h0M477.5 338.5h0M395.7 347.1h0M455.3 350.0h0M362.7 381.2h0M423.5 295.2h0M414.4 366.5h0M430.2 350.1h0M386.0 359.3h0M434.7 330.2h0M361.5 413.9h0M381.0 400.6h0M364.1 372.5h0M360.0 334.8h0M392.6 364.9h0M409.4 368.3h0M442.5 278.3h0M363.3 401.8h0M479.9 297.8h0M485.1 320.1h0M357.6 368.2h0M437.0 363.2h0M399.6 332.1h0M408.0 371.0h0M417.6 377.1h0M432.6 263.8h0M404.8 348.2h0M362.3 385.9h0M404.9 362.6h0M382.4 362.8h0M449.5 306.9h0M401.1 337.6h0M448.6 288.0h0M413.9 323.0h0M471.0 343.4h0M414.9 330.6h0M390.0 325.9h0M460.5 274.8h0M407.3 375.8h0M440.8 303.2h0M422.8 292.9h0M409.9 362.6h0M423.7 293.3h0M356.5 348.6h0M423.8 347.2h0M450.0 354.5h0M389.7 343.9h0M450.7 331.4h0M443.3 314.2h0M376.8 359.3h0M347.2 411.5h0M372.3 356.3h0M431.7 344.8h0M385.3 345.4h0M398.1 318.9h0M388.8 382.7h0M401.6 347.4h0M339.5 374.0h0M434.9 334.6h0M397.6 335.4h0M432.9 357.1h0M386.4 418.6h0M396.8 382.9h0M426.8 328.2h0M441.3 281.7h0M401.7 406.4h0M444.9 363.1h0M441.7 377.1h0M444.8 297.5h0M441.1 412.2h0M463.3 319.8h0M362.1 328.1h0M342.8 375.5h0M429.9 364.9h0M367.8 341.4h0M412.2 376.2h0M419.4 381.7h0M384.7 440.5h0M397.4 327.2h0M432.2 394.7h0M442.1 309.0h0M411.2 327.3h0M480.5 301.5h0M383.1 323.3h0M428.1 336.8h0M373.8 444.3h0M398.7 358.6h0M415.2 402.7h0M425.8 357.4h0M469.3 347.9h0M407.8 399.4h0M416.7 333.9h0M379.3 338.0h0M438.5 339.2h0M410.4 336.4h0M359.1 359.0h0M355.4 377.4h0M393.1 367.0h0M462.8 292.3h0M339.9 358.5h0M400.2 400.7h0M448.0 419.8h0M449.9 282.8h0M457.5 335.7h0M407.9 308.5h0M446.0 270.9h0M388.4 349.8h0M422.0 293.3h0M437.7 405.3h0M403.2 348.5h0M376.1 369.7h0M460.5 276.8h0M366.2 372.9h0M380.6 369.4h0M421.2 301.9h0M354.6 403.6h0M398.3 300.6h0M331.1 431.2h0M451.0 327.4h0M442.7 291.8h0M408.9 348.7h0M486.3 333.0h0M407.9 384.0h0M413.3 352.9h0M438.0 326.7h0M391.3 345.5h0M417.4 310.1h0M403.0 334.3h0M410.9 345.2h0M384.9 350.1h0M426.2 324.4h0M416.2 465.1h0M413.6 302.1h0M403.7 388.4h0M389.9 362.2h0M392.6 403.9h0M437.1 289.3h0M395.8 419.0h0M431.9 281.8h0M417.8 342.5h0M476.3 279.9h0M437.1 318.5h0M365.2 366.0h0M433.9 321.4h0M433.8 333.2h0M466.0 317.5h0M409.7 410.4h0M445.9 322.1h0M443.1 370.1h0M457.0 338.7h0M356.3 408.9h0M360.7 394.9h0M385.4 385.7h0M376.4 316.0h0M432.8 331.3h0M418.4 344.1h0M410.5 325.5h0M402.8 382.6h0M372.6 369.6h0M459.3 360.7h0M363.3 427.7h0M392.7 319.0h0M442.2 376.4h0M404.4 322.9h0M375.4 348.8h0M439.5 271.2h0M409.0 336.5h0M420.9 324.2h0M404.9 342.6h0M385.1 391.1h0M436.0 430.1h0M383.5 369.0h0M439.9 321.3h0M356.8 350.5h0M401.5 318.9h0M423.4 268.5h0M402.5 317.4h0M373.9 398.6h0M386.6 437.8h0M435.3 307.2h0M369.3 392.3h0M416.5 353.0h0M439.3 286.3h0M378.5 365.9h0M392.6 378.3h0M473.1 325.2h0M355.8 414.4h0M388.0 347.8h0M474.1 292.8h0M415.9 370.2h0M403.9 305.3h0M433.1 279.8h0M393.9 350.1h0M381.6 330.1h0M402.9 335.9h0M417.9 393.6h0M468.2 275.3h0M481.6 303.6h0M381.0 377.8h0M464.9 370.4h0M469.5 307.8h0M271.3 486.3h0M277.3 480.6h0M308.3 462.1h0M266.1 510.9h0M314.5 451.2h0M316.4 471.5h0M285.6 461.1h0M291.0 492.1h0M319.8 449.6h0M261.7 498.8h0" stroke="#64A83F" stroke-width="17.2" stroke-linecap="round" fill="none" stroke-opacity="0.82"/>
<path d="M455.6 344.4h0M368.6 358.1h0M426.3 370.8h0M449.4 347.9h0M480.8 261.2h0M408.7 356.0h0M420.3 280.4h0M383.9 331.9h0M407.2 384.2h0M417.8 363.8h0M414.6 368.4h0M482.6 327.9h0M410.3 391.0h0M422.8 432.0h0M354.4 359.6h0M421.5 357.7h0M400.8 332.8h0M435.5 360.8h0M423.7 312.5h0M441.6 293.4h0M394.6 338.2h0M383.3 381.3h0M428.3 292.9h0M439.2 342.6h0M429.1 401.7h0M457.6 287.1h0M438.1 385.4h0M408.2 303.1h0M385.8 391.3h0M414.9 337.7h0M407.9 296.2h0M431.7 295.4h0M439.0 405.1h0M441.0 347.2h0M438.9 332.1h0M420.4 314.6h0M403.5 346.1h0M364.8 328.4h0M442.5 329.5h0M421.6 402.0h0M430.5 277.3h0M404.6 318.0h0M447.1 298.3h0M398.4 419.2h0M406.7 303.6h0M345.3 430.1h0M477.7 299.3h0M409.8 368.1h0M461.3 347.9h0M406.3 366.0h0M396.4 302.2h0M410.7 447.9h0M413.8 362.9h0M392.8 365.4h0M426.1 339.8h0M381.5 402.3h0M394.6 332.3h0M408.0 352.3h0M399.8 359.2h0M399.0 349.2h0M521.7 338.7h0M422.1 272.4h0M383.6 401.3h0M447.1 369.4h0M367.1 355.8h0M364.3 419.6h0M422.8 377.7h0M453.9 399.6h0M439.4 336.7h0M433.2 362.5h0M433.8 340.1h0M437.9 302.4h0M412.8 363.8h0M416.3 302.0h0M491.6 277.9h0M374.4 349.2h0M397.1 389.7h0M434.5 404.2h0M438.9 355.5h0M413.4 345.0h0M375.6 367.6h0M393.2 327.7h0M397.9 378.4h0M422.5 347.1h0M363.4 375.3h0M454.9 336.4h0M371.4 434.8h0M355.6 400.6h0M393.7 345.2h0M398.1 357.5h0M402.3 356.8h0M443.9 358.6h0M451.1 274.8h0M384.6 374.0h0M424.9 336.8h0M425.8 343.3h0M342.5 402.1h0M440.6 355.1h0M413.4 365.7h0M371.0 354.4h0M435.7 321.0h0M413.5 370.3h0M451.9 317.1h0M448.0 353.6h0M409.0 380.6h0M444.0 372.4h0M460.3 325.8h0M450.4 351.7h0M384.8 324.7h0M411.8 344.7h0M410.8 349.4h0M398.5 377.8h0M398.4 346.5h0M372.8 328.1h0M454.9 344.8h0M373.5 355.8h0M410.3 355.7h0M417.4 389.0h0M396.5 397.0h0M431.3 344.8h0M329.1 392.9h0M440.4 337.7h0M392.2 328.0h0M411.8 339.4h0M471.4 309.7h0M439.7 291.7h0M442.8 331.7h0M441.9 317.3h0M428.9 359.2h0M385.2 314.7h0M479.4 356.7h0M431.6 377.4h0M398.1 356.5h0M362.4 428.8h0M439.3 356.1h0M436.0 324.7h0M347.5 388.5h0M391.5 358.2h0M382.2 391.5h0M455.2 276.5h0M377.4 353.3h0M432.4 374.0h0M507.6 283.5h0M435.1 334.6h0M388.8 416.5h0M375.8 342.7h0M405.7 387.6h0M413.4 302.3h0M449.0 314.0h0M401.9 387.3h0M478.8 289.0h0M404.9 328.4h0M445.4 302.5h0M408.3 346.0h0M369.7 361.5h0M473.5 359.1h0M389.8 386.4h0M416.5 288.7h0M388.7 368.4h0M384.8 357.2h0M429.3 345.3h0M464.4 268.5h0M420.4 321.0h0M428.7 339.8h0M441.5 307.2h0M404.3 293.9h0M398.3 346.4h0M441.1 405.0h0M397.3 383.3h0M391.5 361.2h0M393.2 415.6h0M447.6 352.6h0M464.4 370.5h0M368.9 376.9h0M396.2 292.5h0M376.0 289.9h0M385.1 436.7h0M376.9 365.4h0M357.3 325.0h0M417.7 378.9h0M410.4 352.5h0M396.0 324.9h0M421.8 345.0h0M331.9 361.3h0M398.6 324.7h0M390.8 366.0h0M445.0 360.3h0M491.6 281.6h0M472.3 318.6h0M396.8 340.1h0M407.8 351.4h0M438.0 310.6h0M466.5 297.1h0M351.6 383.1h0M436.5 321.9h0M375.9 398.2h0M449.9 313.0h0M414.3 382.3h0M398.1 373.6h0M447.6 314.5h0M380.5 393.2h0M403.4 347.4h0M365.5 386.8h0M394.0 380.0h0M425.2 335.0h0M360.5 384.4h0M409.2 348.2h0M365.0 318.6h0M393.1 315.4h0M385.0 339.4h0M367.7 352.2h0M412.7 388.8h0M378.9 342.8h0M405.5 318.0h0M402.7 368.4h0M435.9 309.3h0M417.6 338.4h0M399.6 341.6h0M374.3 329.9h0M427.2 326.7h0M372.1 367.1h0M441.2 303.7h0M411.0 362.2h0M445.9 274.6h0M414.0 300.8h0M371.0 364.6h0M472.7 280.1h0M470.0 315.9h0M397.5 339.0h0M365.0 406.2h0M394.6 331.6h0M467.7 333.8h0M464.9 350.6h0M381.7 317.0h0M397.3 352.0h0M455.6 353.0h0M354.7 395.7h0M424.3 371.5h0M367.5 337.0h0M386.1 459.6h0M389.6 341.0h0M383.0 384.4h0M383.6 360.3h0M434.1 306.9h0M411.5 396.3h0M386.1 383.2h0M410.9 328.3h0M387.7 372.1h0M402.6 332.5h0M314.9 428.2h0M378.5 378.0h0M422.3 307.7h0M434.7 362.9h0M425.2 354.2h0M413.4 379.7h0M401.2 369.6h0M422.0 385.0h0M408.9 347.4h0M387.4 352.4h0M393.6 365.2h0M436.5 338.1h0M404.1 300.7h0M324.2 419.2h0M383.3 374.9h0M442.4 341.4h0M484.7 290.4h0M433.4 315.5h0M495.3 349.0h0M426.8 305.8h0M400.1 332.4h0M436.5 331.2h0M361.2 368.7h0M411.4 340.1h0M423.2 319.4h0M371.0 350.3h0M396.5 316.5h0M455.5 375.4h0M381.0 337.9h0M400.9 380.6h0M422.8 335.5h0M463.4 266.3h0M405.7 367.1h0M413.0 367.1h0M424.8 301.8h0M431.5 381.7h0M393.1 316.8h0M463.7 320.1h0M420.0 368.4h0M424.9 329.7h0M398.7 379.5h0M419.8 369.8h0M350.6 438.4h0M414.1 346.6h0M321.9 455.6h0M445.9 268.7h0M378.8 392.2h0M447.4 313.1h0M440.3 340.2h0M455.4 346.3h0M394.2 329.3h0M412.6 369.8h0M411.3 329.3h0M390.0 364.2h0M419.8 315.4h0M403.2 370.8h0M395.5 373.3h0M417.2 409.0h0M412.8 363.1h0M367.3 396.0h0M452.8 327.2h0M462.7 307.6h0M379.8 426.8h0M421.4 306.7h0M407.5 363.9h0M406.0 424.6h0M434.4 400.3h0M420.7 360.3h0M444.6 337.4h0M436.2 313.9h0M443.8 344.4h0M389.1 396.2h0M466.5 325.4h0M367.9 451.8h0M371.6 338.9h0M404.4 396.8h0M429.1 319.3h0M402.8 324.3h0M417.7 357.4h0M411.0 358.7h0M441.7 288.4h0M398.3 352.2h0M404.9 296.9h0M433.5 382.3h0M395.1 374.0h0M381.6 335.4h0M461.7 273.4h0M409.6 359.8h0M393.1 404.9h0M407.4 339.6h0M463.0 377.5h0M339.8 350.0h0M385.3 338.3h0M390.8 305.6h0M407.6 354.0h0M397.9 322.2h0M420.3 333.1h0M413.8 408.5h0M403.6 341.4h0M433.8 351.8h0M407.3 340.2h0M464.8 363.4h0M380.2 359.7h0M424.0 291.6h0M385.6 332.6h0M425.5 353.7h0M468.2 313.4h0M453.0 348.5h0M413.7 328.0h0M439.0 360.1h0M355.2 378.3h0M441.2 352.7h0M431.1 364.0h0M445.8 372.3h0M442.6 366.3h0M429.9 323.9h0M436.7 333.5h0M451.6 314.9h0M425.2 360.8h0M383.4 411.1h0M379.3 374.6h0M419.7 394.0h0M385.7 371.7h0M419.4 300.8h0M407.7 387.1h0M435.7 360.5h0M371.1 406.5h0M356.5 333.1h0M432.2 333.9h0M373.6 363.7h0M345.7 417.1h0M419.2 338.4h0M435.4 372.2h0M434.5 408.3h0M354.2 355.2h0M418.7 339.5h0M452.3 330.9h0M399.7 354.8h0M408.3 302.8h0M403.6 333.5h0M412.3 326.4h0M397.2 334.0h0M451.2 300.4h0M382.9 344.1h0M412.3 326.4h0M369.5 403.3h0M407.0 343.0h0M399.9 284.5h0M380.8 300.8h0M326.8 402.7h0M414.8 342.9h0M367.2 293.1h0M440.9 328.7h0M387.0 355.7h0M400.5 316.2h0M360.5 387.7h0M507.6 317.4h0M391.5 327.0h0M415.9 329.9h0M390.5 403.5h0M437.7 355.6h0M416.3 415.9h0M403.6 321.0h0M392.1 356.4h0M361.7 322.0h0M414.0 353.6h0M451.2 287.0h0M373.1 334.3h0M460.3 336.4h0M412.8 372.9h0M347.8 337.2h0M413.0 345.3h0M347.1 399.4h0M331.9 415.4h0M427.8 350.7h0M445.0 429.4h0M454.0 244.0h0M407.1 315.8h0M413.1 350.4h0M331.7 349.1h0M426.1 432.3h0M409.9 417.9h0M328.3 453.5h0M376.9 443.4h0M438.4 325.2h0M414.0 288.5h0M361.4 378.2h0M384.4 359.8h0M417.1 383.7h0M396.1 389.6h0M339.6 397.4h0M427.7 336.7h0M425.3 330.9h0M383.5 348.6h0M412.3 355.3h0M455.2 349.3h0M420.9 344.1h0M407.7 312.0h0M393.6 361.4h0M386.8 371.7h0M342.4 336.8h0M433.9 348.2h0M393.7 427.6h0M413.8 368.8h0M325.4 383.1h0M394.7 364.3h0M425.6 264.6h0M402.6 350.2h0M412.5 326.5h0M416.6 315.6h0M422.5 364.5h0M383.8 337.5h0M346.4 380.1h0M462.7 295.0h0M400.0 364.4h0M395.7 317.0h0M378.9 375.1h0M375.2 346.9h0M386.9 382.9h0M432.9 382.1h0M396.3 377.9h0M389.8 317.7h0M480.3 275.8h0M380.9 367.9h0M410.9 327.2h0M406.2 379.2h0M385.6 433.8h0M393.4 408.7h0M432.2 330.4h0M318.3 342.0h0M375.4 390.2h0M414.1 375.1h0M450.2 318.8h0M449.5 296.0h0M387.5 377.3h0M402.3 313.4h0M397.0 369.7h0M435.8 327.9h0M422.8 330.8h0M357.0 347.4h0M459.2 322.0h0M345.8 414.3h0M428.9 326.6h0M454.3 300.5h0M433.8 347.0h0M435.7 392.7h0M391.1 401.9h0M402.5 356.7h0M417.0 321.2h0M400.6 361.1h0M435.2 298.4h0M456.5 332.1h0M368.7 362.5h0M364.5 356.5h0M397.3 426.3h0M411.9 384.6h0M459.0 319.9h0M448.9 336.6h0M413.1 337.2h0M390.4 380.7h0M459.7 302.1h0M435.8 273.9h0M445.5 306.2h0M355.9 350.7h0M395.2 338.7h0M442.3 310.8h0M421.0 363.3h0M405.1 336.0h0M417.9 358.0h0M401.0 299.7h0M401.8 326.5h0M356.3 371.0h0M405.3 330.7h0M406.8 339.3h0M396.8 344.4h0M417.1 314.7h0M482.8 312.1h0M371.4 386.9h0M442.1 394.3h0M444.7 376.8h0M383.8 378.2h0M427.8 379.5h0M427.0 332.9h0M379.7 427.7h0M387.0 393.9h0M485.7 347.0h0M362.4 471.7h0M395.8 307.4h0M405.7 319.0h0M370.2 369.2h0M393.5 356.1h0M430.1 350.5h0M411.7 295.7h0M449.7 296.3h0M425.5 348.7h0M428.7 348.4h0M411.1 392.7h0M378.9 420.0h0M384.7 298.4h0M418.5 365.7h0M418.3 324.0h0M429.2 337.4h0M460.1 350.4h0M396.7 371.5h0M384.3 313.4h0M394.1 323.8h0M426.0 386.0h0M455.3 344.7h0M426.8 365.6h0M387.8 349.9h0M415.9 337.9h0M432.4 378.0h0M388.3 366.1h0M407.2 366.1h0M414.3 387.0h0M441.0 294.4h0M415.2 298.8h0M409.5 324.1h0M355.9 360.5h0M486.9 342.8h0M359.1 333.1h0M416.6 325.6h0M428.0 331.9h0M431.2 285.5h0M372.2 384.8h0M399.1 366.9h0M421.8 361.7h0M403.1 379.2h0M422.3 433.3h0M415.6 343.7h0M432.0 312.7h0M407.6 371.0h0M387.0 333.6h0M414.3 400.6h0M383.6 397.3h0M398.3 388.0h0M410.5 344.7h0M439.3 371.2h0M395.3 326.6h0M418.4 364.4h0M370.7 386.3h0M348.4 423.8h0M423.8 325.8h0M387.9 344.0h0M456.6 331.2h0M412.9 325.2h0M416.5 385.5h0M320.0 399.5h0M378.0 380.0h0M386.0 343.0h0M427.5 346.5h0M377.5 385.6h0M470.5 315.6h0M424.8 296.1h0M405.3 329.4h0M402.8 360.0h0M364.8 363.9h0M384.2 402.3h0M415.0 417.9h0M379.7 422.2h0M400.8 322.7h0M445.0 346.5h0M401.8 348.1h0M430.8 331.5h0M426.3 354.5h0M355.0 413.4h0M412.6 375.0h0M406.2 364.7h0M402.1 348.2h0M451.6 371.8h0M450.8 297.6h0M424.3 387.0h0M432.1 412.9h0M384.6 326.9h0M393.3 348.0h0M453.9 295.6h0M417.3 379.9h0M415.0 378.6h0M409.1 315.0h0M441.0 381.9h0M431.8 328.1h0M387.5 329.3h0M407.4 379.0h0M362.5 338.1h0M400.0 360.7h0M401.2 349.6h0M416.0 350.0h0M422.2 354.9h0M447.6 294.3h0M385.3 345.1h0M427.4 383.0h0M388.1 344.2h0M425.6 322.1h0M425.2 372.9h0M368.3 375.1h0M473.9 371.0h0M350.6 368.1h0M454.1 306.8h0M414.1 383.5h0M420.6 362.9h0M437.8 312.7h0M407.0 352.2h0M379.4 336.2h0M457.1 289.4h0M411.6 319.7h0M431.0 274.2h0M382.6 341.0h0M405.5 390.1h0M440.8 346.8h0M392.4 298.4h0M400.3 375.9h0M381.6 391.9h0M410.9 326.1h0M392.6 396.4h0M459.5 299.7h0M451.4 364.7h0M438.3 326.5h0M411.7 330.2h0M415.4 326.3h0M404.2 340.8h0M415.6 316.0h0M432.0 341.3h0M463.2 310.4h0M397.3 363.6h0M358.2 384.8h0M399.3 319.8h0M366.1 383.0h0M402.6 376.8h0M449.9 289.2h0M396.8 379.0h0M422.8 358.4h0M404.5 374.0h0M422.6 301.6h0M474.4 262.1h0M416.5 309.4h0M400.4 356.3h0M397.1 336.9h0M422.5 329.9h0M413.4 362.4h0M360.4 396.4h0M362.0 359.2h0M412.9 385.5h0M391.9 371.1h0M483.8 311.6h0M431.5 291.4h0M444.4 291.4h0M358.2 337.7h0M390.9 388.4h0M439.0 352.8h0M428.9 332.0h0M368.3 316.0h0M375.8 397.0h0M423.5 399.6h0M451.8 319.5h0M412.7 383.3h0M386.1 315.4h0M391.5 380.0h0M360.3 310.0h0M357.3 364.9h0M444.6 308.8h0M389.5 355.3h0M387.4 331.2h0M370.5 371.2h0M436.4 348.1h0M394.6 342.3h0M412.8 378.5h0M401.5 377.6h0M404.3 355.5h0M429.2 334.4h0M427.0 325.0h0M424.8 394.3h0M446.9 353.7h0M384.2 351.2h0M404.7 358.2h0M391.0 378.4h0M427.7 369.9h0M418.6 328.8h0M383.1 389.1h0M442.8 283.2h0M444.7 329.8h0M407.0 389.6h0M475.8 294.3h0M398.4 365.5h0M366.9 392.1h0M419.8 348.2h0M424.4 305.0h0M388.7 336.1h0M397.8 367.5h0M438.0 317.9h0M322.3 370.3h0M360.9 369.2h0M429.9 427.2h0M465.6 272.5h0M414.1 290.2h0M402.3 322.1h0M392.7 343.0h0M423.6 340.3h0M434.5 398.1h0M433.1 325.2h0M374.2 425.3h0M399.6 297.6h0M361.9 419.7h0M438.2 342.9h0M415.2 373.6h0M421.7 342.3h0M425.6 419.4h0M475.8 302.1h0M386.7 297.9h0M464.5 335.8h0M430.2 327.0h0M421.2 321.1h0M356.6 389.0h0M359.5 361.3h0M396.0 359.1h0M475.5 320.8h0M443.6 378.7h0M353.2 376.9h0M381.2 405.1h0M408.6 342.6h0M449.0 331.2h0M423.9 364.8h0M410.5 342.8h0M414.8 371.4h0M392.7 376.9h0M446.5 327.2h0M418.5 382.8h0M411.5 314.8h0M409.9 397.5h0M448.2 340.2h0M473.1 381.8h0M425.3 337.4h0M358.3 368.1h0M377.3 393.2h0M423.6 343.0h0M438.1 330.1h0M422.1 329.6h0M425.8 380.3h0M398.0 393.2h0M396.8 424.4h0M395.1 395.7h0M419.8 309.9h0M456.7 287.3h0M412.4 375.2h0M399.7 331.5h0M373.9 371.4h0M349.9 407.6h0M444.2 339.5h0M386.3 350.3h0M434.8 315.7h0M463.8 313.1h0M416.3 357.7h0M273.8 493.1h0M296.2 483.3h0M300.2 469.9h0M266.4 479.0h0M278.3 454.7h0M316.8 472.2h0M298.8 461.7h0M265.4 531.0h0M301.9 477.0h0M303.5 467.8h0" stroke="#64A83F" stroke-width="17.2" stroke-linecap="round" fill="none" stroke-opacity="0.82"/>
<path d="M571.9 171.0h0M605.1 222.0h0M508.7 195.5h0M470.9 217.5h0M531.4 225.8h0M540.8 242.1h0M417.9 229.6h0M436.8 226.9h0M506.8 344.2h0M358.5 501.1h0M376.3 539.7h0M289.3 529.5h0M240.2 518.9h0M264.0 504.9h0M270.4 472.8h0M251.5 493.6h0M186.1 594.2h0M279.9 410.4h0M281.8 427.4h0M298.8 487.9h0M313.9 472.8h0M459.5 438.7h0M503.0 287.4h0" stroke="#64A83F" stroke-width="17.2" stroke-linecap="round" fill="none" stroke-opacity="0.82"/>
<line x1="163.6" y1="71" x2="163.6" y2="620.4" stroke="#000" stroke-width="3"/>
<line x1="162.1" y1="618.9" x2="660" y2="618.9" stroke="#000" stroke-width="3"/>
<line x1="155.3" y1="594.2" x2="163.6" y2="594.2" stroke="#222" stroke-width="2.6"/>
<text x="149" y="602.8000000000001" font-size="24.3" text-anchor="end" textLength="47.5" lengthAdjust="spacing" fill="#4d4d4d">0.00</text>
<line x1="185.8" y1="619" x2="185.8" y2="626.8" stroke="#222" stroke-width="2.6"/>
<text x="185.8" y="651.3" font-size="24.3" text-anchor="middle" textLength="47.5" lengthAdjust="spacing" fill="#4d4d4d">0.00</text>
<line x1="155.3" y1="468.70000000000005" x2="163.6" y2="468.70000000000005" stroke="#222" stroke-width="2.6"/>
<text x="149" y="477.30000000000007" font-size="24.3" text-anchor="end" textLength="47.5" lengthAdjust="spacing" fill="#4d4d4d">0.25</text>
<line x1="299.225" y1="619" x2="299.225" y2="626.8" stroke="#222" stroke-width="2.6"/>
<text x="299.225" y="651.3" font-size="24.3" text-anchor="middle" textLength="47.5" lengthAdjust="spacing" fill="#4d4d4d">0.25</text>
<line x1="155.3" y1="343.20000000000005" x2="163.6" y2="343.20000000000005" stroke="#222" stroke-width="2.6"/>
<text x="149" y="351.80000000000007" font-size="24.3" text-anchor="end" textLength="47.5" lengthAdjust="spacing" fill="#4d4d4d">0.50</text>
<line x1="412.65" y1="619" x2="412.65" y2="626.8" stroke="#222" stroke-width="2.6"/>
<text x="412.65" y="651.3" font-size="24.3" text-anchor="middle" textLength="47.5" lengthAdjust="spacing" fill="#4d4d4d">0.50</text>
<line x1="155.3" y1="217.70000000000005" x2="163.6" y2="217.70000000000005" stroke="#222" stroke-width="2.6"/>
<text x="149" y="226.30000000000004" font-size="24.3" text-anchor="end" textLength="47.5" lengthAdjust="spacing" fill="#4d4d4d">0.75</text>
<line x1="526.075" y1="619" x2="526.075" y2="626.8" stroke="#222" stroke-width="2.6"/>
<text x="526.075" y="651.3" font-size="24.3" text-anchor="middle" textLength="47.5" lengthAdjust="spacing" fill="#4d4d4d">0.75</text>
<line x1="155.3" y1="92.20000000000005" x2="163.6" y2="92.20000000000005" stroke="#222" stroke-width="2.6"/>
<text x="149" y="100.80000000000004" font-size="24.3" text-anchor="end" textLength="47.5" lengthAdjust="spacing" fill="#4d4d4d">1.00</text>
<line x1="639.5" y1="619" x2="639.5" y2="626.8" stroke="#222" stroke-width="2.6"/>
<text x="639.5" y="651.3" font-size="24.3" text-anchor="middle" textLength="47.5" lengthAdjust="spacing" fill="#4d4d4d">1.00</text>
<text x="186.5" y="71.2" font-size="31.3" textLength="62" lengthAdjust="spacing" fill="#000">ASE</text>
<text x="186.5" y="111.2" font-size="31.3" textLength="311" lengthAdjust="spacing" fill="#000">Spearman R2 = 0.478</text>
<text x="418.1" y="687.3" font-size="33" text-anchor="middle" textLength="301" lengthAdjust="spacing" fill="#000">REF RATIO in CTRL</text>
<text x="86.2" y="339" font-size="33" text-anchor="middle" transform="rotate(-90 86.2 339)" textLength="371" lengthAdjust="spacing" fill="#000">REF RATIO in PTBP1 KD</text>
<path d="M817.4 576.0h0M838.5 552.0h0M1134.0 165.9h0M991.5 444.4h0M1144.9 248.3h0M987.6 453.6h0M823.5 558.4h0M1070.0 362.8h0M870.7 528.7h0M885.1 485.5h0M1080.7 364.7h0M1036.8 348.9h0M1151.0 160.9h0M952.6 436.9h0M1101.9 318.5h0M806.9 594.9h0M1031.3 320.2h0M1046.1 333.5h0M992.2 426.8h0M1105.5 271.2h0M823.7 563.9h0M999.1 441.6h0M856.4 535.9h0M912.5 456.4h0M820.1 587.3h0M864.0 531.7h0M1123.5 318.0h0M861.5 528.3h0M942.4 421.2h0M938.9 438.8h0M922.2 445.4h0M839.2 592.3h0M996.0 417.0h0M858.1 533.0h0M891.2 465.2h0M1140.7 274.0h0M1012.9 433.7h0M975.9 394.3h0M861.5 532.8h0M842.6 558.7h0M962.8 383.6h0M1119.0 205.5h0M1004.8 455.8h0M989.7 378.8h0M930.9 445.6h0M1048.5 320.4h0M848.8 513.8h0M847.0 534.4h0M1139.4 301.0h0M864.8 525.4h0M1002.9 388.0h0M841.9 551.7h0M1130.7 247.4h0M832.9 574.5h0M925.7 480.8h0M917.0 474.9h0M1006.1 347.2h0M911.7 448.4h0M888.4 503.8h0M1134.2 307.5h0M831.0 589.1h0M1072.2 335.0h0M808.9 591.4h0M1134.4 299.8h0M846.0 558.4h0M861.7 544.8h0M835.8 570.2h0M1077.8 315.7h0M1011.7 339.9h0M1129.5 302.7h0M880.5 467.1h0M1127.4 262.6h0M812.0 580.9h0M1075.3 261.7h0M842.3 557.5h0M1106.3 215.5h0M992.5 385.6h0M1084.5 334.3h0M1073.3 301.5h0M983.2 401.0h0M830.5 569.4h0M862.8 535.3h0M892.7 509.6h0M1153.0 315.4h0M1142.6 252.1h0M830.7 572.0h0M840.6 545.0h0M1077.9 314.4h0M892.0 524.4h0M857.3 552.1h0M975.6 403.8h0M902.5 529.9h0M907.7 516.3h0M824.6 584.9h0M925.3 477.4h0M870.0 518.8h0M938.8 403.9h0M1100.2 292.5h0M1136.9 231.5h0M1120.3 324.4h0M1034.6 312.6h0M816.1 583.7h0M1110.8 244.2h0M807.4 594.1h0M825.8 570.0h0M883.7 529.0h0M1000.7 458.5h0M1084.0 309.7h0M1093.7 331.6h0M938.0 412.2h0M806.2 593.9h0M823.7 583.8h0M1182.3 243.8h0M1088.9 325.2h0M826.3 576.7h0M813.8 581.8h0M816.3 580.1h0M1113.4 323.1h0M877.4 524.7h0M965.3 398.7h0M1019.6 357.3h0M842.5 565.3h0M810.9 591.6h0M1135.6 239.9h0M829.6 596.0h0M943.3 493.2h0M818.1 580.9h0M857.6 541.1h0M894.3 498.2h0M1011.3 328.5h0M898.0 490.9h0M1060.2 367.0h0M1041.1 364.4h0M1064.2 325.6h0M867.1 564.9h0M1194.7 133.6h0M985.9 137.8h0M1201.0 220.6h0M937.1 266.0h0M942.2 267.2h0M1024.5 483.2h0M931.3 535.7h0M923.7 532.8h0M1140.1 359.2h0M1104.4 208.8h0M1142.2 184.9h0M862.8 451.7h0M904.8 390.8h0M911.1 367.6h0" stroke="#279C79" stroke-width="17.2" stroke-linecap="round" fill="none" stroke-opacity="0.8"/>
<path d="M814.5 582.0h0M812.8 588.5h0M839.4 575.8h0M949.0 399.8h0M1197.9 220.9h0M813.7 588.4h0M894.9 488.9h0M837.2 544.2h0M810.8 588.7h0M843.9 567.4h0M862.6 514.4h0M1136.3 275.0h0M1125.4 300.1h0M830.5 586.2h0M855.2 534.9h0M861.5 518.0h0M833.7 562.5h0M816.5 585.7h0M1086.9 360.6h0M863.5 513.0h0M823.6 566.0h0M841.0 544.4h0M957.3 492.4h0M985.2 441.5h0M991.8 416.9h0M1013.6 369.5h0M999.9 442.1h0M879.2 501.5h0M991.7 430.0h0M875.4 512.7h0M834.9 571.9h0M809.7 583.4h0M911.8 506.7h0M830.5 588.9h0M1140.6 220.6h0M832.4 568.9h0M1091.9 345.8h0M1108.4 258.4h0M994.3 364.8h0M820.6 577.7h0M847.3 581.4h0M944.0 484.6h0M995.4 498.2h0M1116.5 213.3h0M1111.9 237.1h0M1018.9 386.1h0M888.2 494.4h0M806.5 589.0h0M969.9 441.7h0M1071.2 304.6h0M1041.6 317.4h0M1066.8 347.8h0M950.1 413.2h0M880.8 516.6h0M1075.4 326.3h0M1047.1 325.1h0M1121.2 301.0h0M1103.9 246.7h0M898.7 531.2h0M880.8 486.0h0M1147.9 277.1h0M1024.0 302.7h0M818.6 575.5h0M1103.5 312.5h0M1063.0 338.4h0M1202.5 259.2h0M925.7 458.2h0M809.7 595.7h0M1137.0 226.8h0M1088.1 290.4h0M1036.6 256.1h0M884.8 500.5h0M978.0 480.3h0M807.1 597.8h0M1117.7 274.0h0M959.5 495.0h0M992.7 384.7h0M976.8 437.2h0M1179.1 166.0h0M901.6 508.3h0M922.8 463.5h0M1064.4 266.5h0M1142.2 302.1h0M977.7 425.5h0M921.8 492.2h0M1001.0 347.0h0M1147.9 351.8h0M1021.5 435.7h0M968.8 452.9h0M1108.5 271.0h0M978.3 435.1h0M1137.5 218.4h0M957.1 462.1h0M853.6 564.6h0M804.6 595.3h0M926.8 472.0h0M817.9 586.8h0M1137.3 302.0h0M833.8 572.8h0M876.7 539.1h0M899.8 525.0h0M986.5 499.2h0M1073.4 337.0h0M921.9 455.5h0M1028.4 471.1h0M890.0 530.1h0M1117.9 259.8h0M811.7 580.5h0M873.6 514.1h0M934.5 524.3h0M905.3 477.9h0M919.9 483.1h0M1073.4 367.9h0M1014.3 388.0h0M816.3 589.2h0M945.0 439.6h0M889.8 544.9h0M920.7 471.7h0M809.2 591.3h0M1090.4 305.4h0M1115.5 260.0h0M848.3 575.5h0M840.2 546.9h0M1133.9 282.6h0M1082.5 278.8h0M1101.2 244.1h0M887.7 516.8h0M1069.5 332.2h0M848.4 546.2h0M1007.0 392.5h0M892.5 494.8h0M1128.7 328.1h0M1105.4 277.6h0M829.8 557.9h0M824.0 564.7h0M984.6 168.1h0M1203.1 204.6h0M1224.1 218.5h0M969.9 286.6h0M1036.3 267.6h0M1137.1 446.6h0M1049.7 455.9h0M1038.4 493.7h0M885.9 597.5h0M946.8 336.1h0M982.5 313.0h0" stroke="#E0621A" stroke-width="17.2" stroke-linecap="round" fill="none" stroke-opacity="0.8"/>
<path d="M853.6 524.0h0M909.7 506.8h0M1122.2 309.6h0M951.6 423.6h0M841.1 560.7h0M846.8 560.6h0M1116.5 257.0h0M837.1 593.6h0M818.9 584.9h0M1205.7 185.0h0M1026.8 369.2h0M808.7 585.4h0M926.9 451.1h0M806.7 597.8h0M823.5 580.4h0M1026.7 381.4h0M912.1 480.6h0M898.3 523.6h0M833.4 582.5h0M854.5 542.3h0M870.9 515.7h0M808.1 591.1h0M909.2 501.8h0M919.7 453.8h0M1036.0 358.4h0M1035.8 332.2h0M855.9 529.0h0M1043.7 318.2h0M867.7 532.8h0M1014.0 333.8h0M1055.3 379.3h0M986.6 457.7h0M1070.1 372.3h0M1027.8 320.1h0M824.0 591.1h0M963.0 480.3h0M1004.9 305.6h0M934.8 468.7h0M812.8 589.7h0M838.2 582.1h0M931.9 477.2h0M970.4 398.0h0M857.6 565.7h0M818.0 578.7h0M844.9 539.0h0M829.8 571.9h0M1118.6 307.0h0M920.4 465.0h0M1123.3 294.7h0M1083.8 344.3h0M912.2 495.5h0M831.7 574.4h0M929.4 458.7h0M891.1 506.4h0M970.2 395.3h0M924.8 431.1h0M815.1 585.5h0M1182.6 191.2h0M1076.6 268.1h0M1011.9 359.6h0M868.6 501.9h0M868.9 537.0h0M1031.2 290.0h0M918.7 440.4h0M1065.3 404.5h0M829.0 572.8h0M1064.7 303.9h0M1038.5 407.6h0M1007.3 388.8h0M924.9 483.4h0M1092.2 277.0h0M1014.8 397.8h0M815.5 583.0h0M810.5 588.2h0M892.9 473.5h0M1031.9 322.2h0M1026.4 376.6h0M830.5 574.7h0M832.9 546.6h0M835.8 574.0h0M949.1 455.4h0M970.8 439.6h0M860.7 493.4h0M873.2 526.5h0M991.4 475.4h0M1082.5 282.9h0M1067.0 376.1h0M941.4 412.1h0M1126.5 343.1h0M1050.6 357.7h0M1047.3 313.7h0M892.7 477.2h0M846.5 543.5h0M835.6 572.3h0M1003.3 372.7h0M974.7 342.0h0M1101.1 277.2h0M1080.8 246.2h0M1113.8 361.8h0M889.3 510.7h0M1111.3 279.1h0M835.0 598.0h0M971.7 400.3h0M889.1 526.5h0M1009.0 368.0h0M1016.4 418.4h0M1099.7 262.3h0M1013.5 376.4h0M828.6 574.5h0M1124.2 241.0h0M891.3 477.3h0M866.9 506.5h0M1184.0 140.6h0M1128.4 286.6h0M1117.9 299.5h0M868.9 508.8h0M1076.1 265.2h0M1197.5 195.9h0M881.4 541.6h0M1096.0 250.0h0M806.5 595.3h0M860.4 532.7h0M954.5 428.2h0M1113.4 309.1h0M838.6 561.3h0M827.2 569.2h0M1092.4 266.6h0M897.5 533.2h0M854.4 525.2h0M826.4 582.7h0M931.6 457.6h0M846.1 546.2h0M963.6 419.8h0M1181.0 205.7h0M1096.2 269.2h0M1236.7 100.0h0M1203.1 152.1h0M1230.4 205.0h0M1043.4 476.9h0M978.3 523.9h0M957.3 539.1h0M826.2 466.4h0M825.0 511.8h0M1121.2 210.1h0M1177.9 172.3h0M967.8 321.4h0M1019.5 291.2h0" stroke="#736DB6" stroke-width="17.2" stroke-linecap="round" fill="none" stroke-opacity="0.8"/>
<path d="M1073.7 386.1h0M1119.6 186.1h0M1015.5 415.6h0M979.0 382.2h0M983.4 340.0h0M811.2 589.8h0M903.5 508.4h0M1091.9 351.4h0M1113.1 267.8h0M950.6 403.3h0M993.3 406.4h0M970.4 408.8h0M853.1 550.6h0M967.5 409.9h0M835.3 577.8h0M897.2 490.7h0M1136.8 297.5h0M837.4 563.9h0M874.5 554.6h0M862.9 530.0h0M827.9 578.1h0M1098.0 260.7h0M1151.9 239.3h0M1061.3 313.0h0M942.5 446.5h0M1049.5 358.7h0M1023.6 412.0h0M1021.2 360.0h0M930.5 494.9h0M813.8 587.1h0M834.8 554.0h0M918.2 435.2h0M1129.1 282.0h0M1127.3 291.5h0M808.8 590.8h0M888.5 532.3h0M1132.8 192.2h0M1055.4 417.7h0M950.9 390.8h0M1117.0 301.3h0M1124.6 191.0h0M906.5 512.7h0M853.5 548.3h0M883.2 513.7h0M1042.1 388.2h0M1134.3 331.2h0M958.3 437.8h0M1039.8 268.2h0M916.2 488.6h0M852.9 536.6h0M1072.2 318.2h0M870.4 505.0h0M816.7 584.5h0M1028.0 314.1h0M1043.5 429.9h0M1108.3 253.0h0M1207.1 218.6h0M813.3 592.2h0M887.8 516.9h0M1016.4 374.2h0M849.9 544.6h0M910.5 454.7h0M894.9 518.6h0M858.1 528.3h0M835.1 582.2h0M810.4 586.3h0M1125.8 329.9h0M1067.1 262.6h0M846.0 566.9h0M835.6 564.7h0M1134.1 277.0h0M873.3 498.8h0M1123.7 267.5h0M1059.9 357.8h0M1101.6 272.6h0M1055.6 290.1h0M996.6 377.8h0M1018.6 336.3h0M959.0 434.7h0M882.5 510.8h0M890.7 478.8h0M1174.0 140.6h0M1123.9 317.1h0M822.5 586.2h0M810.2 589.1h0M1090.4 282.9h0M804.2 585.0h0M820.9 590.7h0M1015.0 398.3h0M853.8 514.9h0M810.7 589.4h0M945.3 405.4h0M832.0 576.5h0M944.9 479.4h0M941.6 441.4h0M803.9 594.0h0M1146.8 243.2h0M864.8 538.1h0M1055.8 315.3h0M1034.9 276.1h0M882.2 547.7h0M994.9 382.2h0M955.1 472.3h0M957.2 453.7h0M870.0 543.2h0M821.1 578.2h0M1140.0 253.6h0M985.8 437.4h0M810.6 591.3h0M1199.1 141.2h0M1041.0 406.5h0M1034.9 409.9h0M894.2 505.8h0M1018.0 330.2h0M819.8 567.0h0M1081.2 361.9h0M821.0 564.6h0M853.8 557.3h0M918.0 450.7h0M845.4 543.5h0M807.4 595.7h0M1105.3 225.7h0M868.9 547.3h0M828.8 573.0h0M1149.8 218.5h0M1002.1 427.3h0M1095.6 340.4h0M1205.3 235.3h0M856.2 506.1h0M834.0 538.7h0M904.3 545.2h0M836.3 588.8h0M821.7 573.0h0M929.6 441.1h0M842.0 568.9h0M1224.1 140.8h0M1024.5 164.7h0M1194.7 163.0h0M1200.2 230.3h0M1221.2 226.1h0M1177.9 220.6h0M1059.4 452.9h0M1018.2 479.0h0M1138.8 348.7h0M1077.1 203.8h0M1165.3 184.9h0M850.2 458.0h0" stroke="#E82E8B" stroke-width="17.2" stroke-linecap="round" fill="none" stroke-opacity="0.8"/>
<path d="M926.9 497.2h0M1076.8 351.8h0M963.8 443.0h0M1007.8 337.2h0M815.6 588.9h0M814.0 591.2h0M893.6 510.6h0M835.4 555.2h0M812.4 585.0h0M1016.1 308.7h0M1005.0 390.9h0M1029.1 321.1h0M805.0 595.4h0M870.1 512.0h0M808.1 589.9h0M813.9 574.6h0M808.7 593.1h0M1074.1 286.2h0M1050.2 338.9h0M804.8 594.8h0M1007.2 444.2h0M905.6 494.5h0M1137.9 249.4h0M840.1 551.8h0M1076.3 346.8h0M1078.2 247.7h0M1009.7 361.2h0M933.9 474.1h0M807.1 592.7h0M1053.5 316.5h0M981.4 442.0h0M830.6 577.4h0M1052.2 232.8h0M973.6 464.8h0M1080.8 353.5h0M895.0 545.5h0M820.2 575.6h0M1117.0 242.2h0M999.2 344.8h0M928.1 451.6h0M1103.1 243.2h0M891.1 548.9h0M1014.5 364.4h0M996.1 396.8h0M830.2 554.8h0M1168.1 226.2h0M877.7 486.3h0M824.4 584.5h0M959.3 399.7h0M886.4 496.6h0M1136.0 194.4h0M896.0 535.0h0M1129.8 252.7h0M822.2 574.0h0M1146.6 244.3h0M1068.7 323.1h0M846.9 570.7h0M811.5 586.0h0M1136.5 291.9h0M858.9 550.4h0M806.9 586.9h0M914.4 488.3h0M1048.7 407.8h0M818.4 598.0h0M1037.6 292.6h0M1061.5 266.9h0M889.4 451.7h0M846.9 546.9h0M1104.7 322.2h0M1103.4 318.6h0M870.6 501.1h0M1108.2 292.7h0M979.2 386.9h0M1149.9 244.7h0M1052.9 296.3h0M946.6 509.8h0M862.5 537.7h0M1112.3 279.6h0M1089.3 251.0h0M1139.8 302.3h0M1081.9 261.0h0M1106.5 276.0h0M1060.1 386.8h0M805.5 595.4h0M924.1 512.7h0M863.5 536.8h0M845.7 536.6h0M877.2 534.1h0M950.6 424.0h0M1204.4 150.8h0M1135.0 284.1h0M955.1 530.1h0M847.6 586.6h0M1208.5 235.2h0M1180.5 180.5h0M1108.6 360.8h0M1093.9 324.2h0M890.2 487.1h0M975.4 481.5h0M1099.5 320.8h0M827.3 589.3h0M1103.3 275.9h0M905.6 484.6h0M1128.7 240.3h0M836.0 544.3h0M1083.1 366.7h0M822.4 598.0h0M829.5 576.5h0M982.7 351.9h0M970.4 451.4h0M1109.0 295.9h0M925.6 478.2h0M870.9 509.4h0M935.3 483.9h0M822.0 571.3h0M1133.7 276.7h0M934.7 495.6h0M1034.1 448.6h0M816.0 587.0h0M1098.1 324.4h0M994.1 368.2h0M1094.8 270.9h0M817.1 582.3h0M866.6 538.6h0M1044.6 329.9h0M948.6 339.9h0M1076.7 357.4h0M1103.2 212.2h0M1014.9 400.5h0M841.4 567.6h0M1086.0 272.0h0M1136.1 210.8h0M889.2 475.9h0M943.3 491.5h0M1082.9 301.9h0M1267.4 114.7h0M1154.8 125.2h0M1139.2 146.2h0M1260.7 206.7h0M1194.7 204.6h0M986.7 247.1h0M982.5 266.8h0M910.3 289.9h0M848.1 472.7h0M932.1 346.6h0M984.6 304.6h0M1001.4 299.2h0" stroke="#64A83F" stroke-width="17.2" stroke-linecap="round" fill="none" stroke-opacity="0.8"/>
<line x1="780.8" y1="75.6" x2="780.8" y2="624.5" stroke="#000" stroke-width="3"/>
<line x1="779.3" y1="623" x2="1290" y2="623" stroke="#000" stroke-width="3"/>
<line x1="772.3" y1="598.0" x2="780.8" y2="598.0" stroke="#222" stroke-width="2.6"/>
<text x="766" y="606.6" font-size="24.3" text-anchor="end" fill="#4d4d4d">0.0</text>
<line x1="803.5" y1="623" x2="803.5" y2="630.8" stroke="#222" stroke-width="2.6"/>
<text x="803.5" y="655.5" font-size="24.3" text-anchor="middle" fill="#4d4d4d">0.0</text>
<line x1="772.3" y1="434.65999999999997" x2="780.8" y2="434.65999999999997" stroke="#222" stroke-width="2.6"/>
<text x="766" y="443.26" font-size="24.3" text-anchor="end" fill="#4d4d4d">0.2</text>
<line x1="951.84" y1="623" x2="951.84" y2="630.8" stroke="#222" stroke-width="2.6"/>
<text x="951.84" y="655.5" font-size="24.3" text-anchor="middle" fill="#4d4d4d">0.2</text>
<line x1="772.3" y1="271.31999999999994" x2="780.8" y2="271.31999999999994" stroke="#222" stroke-width="2.6"/>
<text x="766" y="279.91999999999996" font-size="24.3" text-anchor="end" fill="#4d4d4d">0.4</text>
<line x1="1100.18" y1="623" x2="1100.18" y2="630.8" stroke="#222" stroke-width="2.6"/>
<text x="1100.18" y="655.5" font-size="24.3" text-anchor="middle" fill="#4d4d4d">0.4</text>
<line x1="772.3" y1="107.98000000000002" x2="780.8" y2="107.98000000000002" stroke="#222" stroke-width="2.6"/>
<text x="766" y="116.58000000000001" font-size="24.3" text-anchor="end" fill="#4d4d4d">0.6</text>
<line x1="1248.52" y1="623" x2="1248.52" y2="630.8" stroke="#222" stroke-width="2.6"/>
<text x="1248.52" y="655.5" font-size="24.3" text-anchor="middle" fill="#4d4d4d">0.6</text>
<text x="805" y="73.5" font-size="31.3" textLength="82" lengthAdjust="spacing" fill="#000">ASTS</text>
<text x="805" y="114" font-size="31.3" textLength="311" lengthAdjust="spacing" fill="#000">Spearman R2 = 0.913</text>
<text x="1042.4" y="690.5" font-size="33" text-anchor="middle" textLength="301" lengthAdjust="spacing" fill="#000">REF RATIO in CTRL</text>
<text x="716" y="343" font-size="33" text-anchor="middle" transform="rotate(-90 716 343)" textLength="372" lengthAdjust="spacing" fill="#000">REF RATIO in PTBP1 KD</text>
<text x="1338.6" y="254.5" font-size="32.3" textLength="85" lengthAdjust="spacing" fill="#000">Donor</text>
<circle cx="1358.1" cy="293.9" r="8.8" fill="#279C79" fill-opacity="0.8"/>
<text x="1393.9" y="302.79999999999995" font-size="25" textLength="70.8" lengthAdjust="spacing" fill="#000">QEG5</text>
<circle cx="1358.1" cy="333.1" r="8.8" fill="#E0621A" fill-opacity="0.8"/>
<text x="1393.9" y="342.04999999999995" font-size="25" textLength="65" lengthAdjust="spacing" fill="#000">QV44</text>
<circle cx="1358.1" cy="372.4" r="8.8" fill="#736DB6" fill-opacity="0.8"/>
<text x="1393.9" y="381.29999999999995" font-size="25" textLength="61" lengthAdjust="spacing" fill="#000">S4Z8</text>
<circle cx="1358.1" cy="411.6" r="8.8" fill="#E82E8B" fill-opacity="0.8"/>
<text x="1393.9" y="420.54999999999995" font-size="25" textLength="63" lengthAdjust="spacing" fill="#000">S95S</text>
<circle cx="1358.1" cy="450.9" r="8.8" fill="#64A83F" fill-opacity="0.8"/>
<text x="1393.9" y="459.79999999999995" font-size="25" textLength="74.6" lengthAdjust="spacing" fill="#000">WY7C</text>
<text x="1485" y="36" font-size="37.5" font-weight="bold" textLength="29.5" lengthAdjust="spacingAndGlyphs" fill="#000">B</text>
<text x="1797.5" y="37" font-size="25" text-anchor="middle" textLength="347" lengthAdjust="spacing" fill="#000">log2((CTRL+1)/(PTBP1 KD+1))</text>
<rect x="1582.0" y="60.4" width="84.65" height="75.07" fill="#8AB8B0" stroke="#5a5a5a" stroke-width="0.8"/>
<rect x="1920.6" y="60.4" width="84.65" height="75.07" fill="#D5B4A0" stroke="#5a5a5a" stroke-width="0.8"/>
<rect x="1582.0" y="135.47" width="84.65" height="75.07" fill="#CCA78E" stroke="#5a5a5a" stroke-width="0.8"/>
<rect x="1666.65" y="135.47" width="84.65" height="75.07" fill="#6FACA6" stroke="#5a5a5a" stroke-width="0.8"/>
<rect x="1835.95" y="135.47" width="84.65" height="75.07" fill="#FFFFFF" stroke="#5a5a5a" stroke-width="0.8"/>
<rect x="1582.0" y="210.54" width="84.65" height="75.07" fill="#B88969" stroke="#5a5a5a" stroke-width="0.8"/>
<rect x="1751.3" y="285.61" width="84.65" height="75.07" fill="#D5B4A0" stroke="#5a5a5a" stroke-width="0.8"/>
<rect x="1582.0" y="360.68" width="84.65" height="75.07" fill="#8B5523" stroke="#5a5a5a" stroke-width="0.8"/>
<rect x="1666.65" y="360.68" width="84.65" height="75.07" fill="#A7C9C3" stroke="#5a5a5a" stroke-width="0.8"/>
<rect x="1582.0" y="435.75" width="84.65" height="75.07" fill="#A7C9C3" stroke="#5a5a5a" stroke-width="0.8"/>
<line x1="1574" y1="53.8" x2="1574" y2="519.8" stroke="#000" stroke-width="3"/>
<line x1="1572.5" y1="518.3" x2="2012.8" y2="518.3" stroke="#000" stroke-width="3"/>
<line x1="1565.5" y1="97.935" x2="1574" y2="97.935" stroke="#222" stroke-width="2.6"/>
<text x="1559" y="106.435" font-size="25.5" text-anchor="end" fill="#4d4d4d">SE</text>
<line x1="1565.5" y1="173.005" x2="1574" y2="173.005" stroke="#222" stroke-width="2.6"/>
<text x="1559" y="181.505" font-size="25.5" text-anchor="end" fill="#4d4d4d">RI</text>
<line x1="1565.5" y1="248.075" x2="1574" y2="248.075" stroke="#222" stroke-width="2.6"/>
<text x="1559" y="256.575" font-size="25.5" text-anchor="end" fill="#4d4d4d">A5</text>
<line x1="1565.5" y1="323.145" x2="1574" y2="323.145" stroke="#222" stroke-width="2.6"/>
<text x="1559" y="331.645" font-size="25.5" text-anchor="end" fill="#4d4d4d">A3</text>
<line x1="1565.5" y1="398.2149999999999" x2="1574" y2="398.2149999999999" stroke="#222" stroke-width="2.6"/>
<text x="1559" y="406.7149999999999" font-size="25.5" text-anchor="end" fill="#4d4d4d">5DIFF</text>
<line x1="1565.5" y1="473.28499999999997" x2="1574" y2="473.28499999999997" stroke="#222" stroke-width="2.6"/>
<text x="1559" y="481.78499999999997" font-size="25.5" text-anchor="end" fill="#4d4d4d">3DIFF</text>
<line x1="1624.325" y1="518.3" x2="1624.325" y2="526.3" stroke="#222" stroke-width="2.6"/>
<text x="1624.325" y="550.6" font-size="25.5" text-anchor="middle" fill="#4d4d4d">3DIFF</text>
<line x1="1708.975" y1="518.3" x2="1708.975" y2="526.3" stroke="#222" stroke-width="2.6"/>
<text x="1708.975" y="550.6" font-size="25.5" text-anchor="middle" fill="#4d4d4d">5DIFF</text>
<line x1="1793.625" y1="518.3" x2="1793.625" y2="526.3" stroke="#222" stroke-width="2.6"/>
<text x="1793.625" y="550.6" font-size="25.5" text-anchor="middle" fill="#4d4d4d">A3</text>
<line x1="1878.275" y1="518.3" x2="1878.275" y2="526.3" stroke="#222" stroke-width="2.6"/>
<text x="1878.275" y="550.6" font-size="25.5" text-anchor="middle" fill="#4d4d4d">RI</text>
<line x1="1962.925" y1="518.3" x2="1962.925" y2="526.3" stroke="#222" stroke-width="2.6"/>
<text x="1962.925" y="550.6" font-size="25.5" text-anchor="middle" fill="#4d4d4d">SE</text>
<defs><linearGradient id="cb" x1="0" y1="0" x2="0" y2="1">
<stop offset="0" stop-color="#8B5523"/><stop offset="0.184" stop-color="#B88969"/><stop offset="0.287" stop-color="#CCA78E"/><stop offset="0.338" stop-color="#D5B4A0"/>
<stop offset="0.47" stop-color="#EBD8CB"/><stop offset="0.594" stop-color="#FFFFFF"/><stop offset="0.72" stop-color="#D6E6E3"/><stop offset="0.85" stop-color="#A7C9C3"/><stop offset="0.927" stop-color="#8AB8B0"/><stop offset="1" stop-color="#6FACA6"/>
</linearGradient></defs>
<rect x="2039.5" y="61" width="38.9" height="456.5" fill="url(#cb)"/>
<line x1="2039.5" y1="98.93999999999997" x2="2047.2" y2="98.93999999999997" stroke="#F6DCC6" stroke-width="1.2"/>
<line x1="2070.7" y1="98.93999999999997" x2="2078.4" y2="98.93999999999997" stroke="#F6DCC6" stroke-width="1.2"/>
<text x="2085.6" y="98.63999999999997" font-size="23" fill="#000">2</text>
<line x1="2039.5" y1="215.66999999999996" x2="2047.2" y2="215.66999999999996" stroke="#F6DCC6" stroke-width="1.2"/>
<line x1="2070.7" y1="215.66999999999996" x2="2078.4" y2="215.66999999999996" stroke="#F6DCC6" stroke-width="1.2"/>
<text x="2085.6" y="215.36999999999995" font-size="23" fill="#000">1</text>
<text x="2085.6" y="332.09999999999997" font-size="23" fill="#000">0</text>
<line x1="2039.5" y1="449.13" x2="2047.2" y2="449.13" stroke="#F6DCC6" stroke-width="1.2"/>
<line x1="2070.7" y1="449.13" x2="2078.4" y2="449.13" stroke="#F6DCC6" stroke-width="1.2"/>
<text x="2085.6" y="448.83" font-size="23" fill="#000">−1</text>
<text x="7" y="747" font-size="37.5" font-weight="bold" textLength="29.5" lengthAdjust="spacingAndGlyphs" fill="#000">C</text>
<text x="79.4" y="1041.2" font-size="32" text-anchor="middle" transform="rotate(-90 79.4 1041.2)" textLength="607" lengthAdjust="spacing" fill="#000"># of significant genes with allelic imbalance</text>
<text x="117.4" y="1040.7" font-size="32" text-anchor="middle" transform="rotate(-90 117.4 1040.7)" textLength="288.6" lengthAdjust="spacing" fill="#000">detected by GridION</text>
<rect x="606.2" y="726.2" width="29.8" height="33.8" fill="#9A6B3F"/>
<text x="650.5" y="752" font-size="23.5" textLength="60" lengthAdjust="spacing" fill="#000">CTRL</text>
<rect x="785.6" y="726.2" width="33.4" height="33.8" fill="#3A958A"/>
<text x="835.5" y="752" font-size="23.5" fill="#000">KD</text>
<rect x="219.2" y="1201.18" width="71.4" height="20.52" fill="#9A6B3F"/>
<rect x="290.6" y="1199.89" width="71.9" height="21.81" fill="#3A958A"/>
<rect x="378.4" y="1170.39" width="71.6" height="51.31" fill="#9A6B3F"/>
<rect x="450" y="1194.76" width="71.4" height="26.94" fill="#3A958A"/>
<rect x="537.3" y="807.39" width="71.5" height="414.31" fill="#9A6B3F"/>
<rect x="608.8" y="802.26" width="71.4" height="419.44" fill="#3A958A"/>
<line x1="195.75" y1="782.5" x2="195.75" y2="1244.5" stroke="#000" stroke-width="3"/>
<line x1="194.25" y1="1243" x2="703.4" y2="1243" stroke="#000" stroke-width="3"/>
<line x1="187.5" y1="1221.7" x2="195.75" y2="1221.7" stroke="#222" stroke-width="2.6"/>
<text x="180" y="1230.9" font-size="24.3" text-anchor="end" fill="#4d4d4d">0</text>
<line x1="187.5" y1="1093.43" x2="195.75" y2="1093.43" stroke="#222" stroke-width="2.6"/>
<text x="180" y="1102.63" font-size="24.3" text-anchor="end" fill="#4d4d4d">100</text>
<line x1="187.5" y1="965.1600000000001" x2="195.75" y2="965.1600000000001" stroke="#222" stroke-width="2.6"/>
<text x="180" y="974.3600000000001" font-size="24.3" text-anchor="end" fill="#4d4d4d">200</text>
<line x1="187.5" y1="836.8900000000001" x2="195.75" y2="836.8900000000001" stroke="#222" stroke-width="2.6"/>
<text x="180" y="846.0900000000001" font-size="24.3" text-anchor="end" fill="#4d4d4d">300</text>
<line x1="290.6" y1="1243" x2="290.6" y2="1251.5" stroke="#222" stroke-width="2.6"/>
<text x="294.4" y="1275.6" font-size="24.5" text-anchor="middle" textLength="159" lengthAdjust="spacing" fill="#4d4d4d">Site not tested</text>
<line x1="450" y1="1243" x2="450" y2="1251.5" stroke="#222" stroke-width="2.6"/>
<text x="470" y="1275.6" font-size="24.5" text-anchor="middle" textLength="153.7" lengthAdjust="spacing" fill="#4d4d4d">Not significant</text>
<line x1="608.8" y1="1243" x2="608.8" y2="1251.5" stroke="#222" stroke-width="2.6"/>
<text x="622.4" y="1275.6" font-size="24.5" text-anchor="middle" textLength="112.6" lengthAdjust="spacing" fill="#4d4d4d">Significant</text>
<text x="215.5" y="802.5" font-size="31" textLength="64.5" lengthAdjust="spacing" fill="#000">ASE</text>
<rect x="824.7" y="1090.21" width="73.5" height="139.49" fill="#9A6B3F"/>
<rect x="898.2" y="1151.24" width="73.4" height="78.46" fill="#3A958A"/>
<rect x="987.6" y="1107.65" width="73.8" height="122.05" fill="#9A6B3F"/>
<rect x="1061.4" y="1046.62" width="73.5" height="183.08" fill="#3A958A"/>
<rect x="1151.3" y="811.24" width="73.4" height="418.46" fill="#9A6B3F"/>
<rect x="1224.7" y="915.85" width="73.5" height="313.85" fill="#3A958A"/>
<line x1="800.4" y1="791" x2="800.4" y2="1252.5" stroke="#000" stroke-width="3"/>
<line x1="798.9" y1="1251" x2="1322.5" y2="1251" stroke="#000" stroke-width="3"/>
<line x1="792" y1="1229.7" x2="800.4" y2="1229.7" stroke="#222" stroke-width="2.6"/>
<text x="785" y="1238.9" font-size="24.3" text-anchor="end" fill="#4d4d4d">0</text>
<line x1="792" y1="1142.52" x2="800.4" y2="1142.52" stroke="#222" stroke-width="2.6"/>
<text x="785" y="1151.72" font-size="24.3" text-anchor="end" fill="#4d4d4d">10</text>
<line x1="792" y1="1055.3400000000001" x2="800.4" y2="1055.3400000000001" stroke="#222" stroke-width="2.6"/>
<text x="785" y="1064.5400000000002" font-size="24.3" text-anchor="end" fill="#4d4d4d">20</text>
<line x1="792" y1="968.1600000000001" x2="800.4" y2="968.1600000000001" stroke="#222" stroke-width="2.6"/>
<text x="785" y="977.3600000000001" font-size="24.3" text-anchor="end" fill="#4d4d4d">30</text>
<line x1="792" y1="880.98" x2="800.4" y2="880.98" stroke="#222" stroke-width="2.6"/>
<text x="785" y="890.1800000000001" font-size="24.3" text-anchor="end" fill="#4d4d4d">40</text>
<line x1="792" y1="793.8000000000001" x2="800.4" y2="793.8000000000001" stroke="#222" stroke-width="2.6"/>
<text x="785" y="803.0000000000001" font-size="24.3" text-anchor="end" fill="#4d4d4d">50</text>
<line x1="898.2" y1="1251" x2="898.2" y2="1259.5" stroke="#222" stroke-width="2.6"/>
<text x="901.6" y="1282.8" font-size="24.5" text-anchor="middle" textLength="159" lengthAdjust="spacing" fill="#4d4d4d">Site not tested</text>
<line x1="1061.4" y1="1251" x2="1061.4" y2="1259.5" stroke="#222" stroke-width="2.6"/>
<text x="1081.2" y="1282.8" font-size="24.5" text-anchor="middle" textLength="153.7" lengthAdjust="spacing" fill="#4d4d4d">Not significant</text>
<line x1="1224.7" y1="1251" x2="1224.7" y2="1259.5" stroke="#222" stroke-width="2.6"/>
<text x="1237.9" y="1282.8" font-size="24.5" text-anchor="middle" textLength="112.6" lengthAdjust="spacing" fill="#4d4d4d">Significant</text>
<text x="826.7" y="803" font-size="31" textLength="86" lengthAdjust="spacing" fill="#000">ASTS</text>
<text x="757.8" y="1334.7" font-size="32" text-anchor="middle" textLength="309.5" lengthAdjust="spacing" fill="#000">Status in PromethION</text>
<text x="1393.5" y="623" font-size="37.5" font-weight="bold" textLength="29.5" lengthAdjust="spacingAndGlyphs" fill="#000">D</text>
<text x="1483.4" y="952.6" font-size="32" text-anchor="middle" transform="rotate(-90 1483.4 952.6)" textLength="497" lengthAdjust="spacing" fill="#000">% of condition specific allelic genes</text>
<line x1="1576.4" y1="701.275" x2="1836.4" y2="701.275" stroke="#EDEDED" stroke-width="1.5"/>
<line x1="1576.4" y1="843.725" x2="1836.4" y2="843.725" stroke="#EDEDED" stroke-width="1.5"/>
<line x1="1576.4" y1="986.1750000000001" x2="1836.4" y2="986.1750000000001" stroke="#EDEDED" stroke-width="1.5"/>
<line x1="1576.4" y1="1128.625" x2="1836.4" y2="1128.625" stroke="#EDEDED" stroke-width="1.5"/>
<line x1="1576.4" y1="772.5" x2="1836.4" y2="772.5" stroke="#EBEBEB" stroke-width="2.8"/>
<line x1="1576.4" y1="914.9499999999999" x2="1836.4" y2="914.9499999999999" stroke="#EBEBEB" stroke-width="2.8"/>
<line x1="1576.4" y1="1057.4" x2="1836.4" y2="1057.4" stroke="#EBEBEB" stroke-width="2.8"/>
<line x1="1576.4" y1="1199.85" x2="1836.4" y2="1199.85" stroke="#EBEBEB" stroke-width="2.8"/>
<line x1="1645.9" y1="658" x2="1645.9" y2="1240.6" stroke="#EBEBEB" stroke-width="2.8"/>
<line x1="1766.8" y1="658" x2="1766.8" y2="1240.6" stroke="#EBEBEB" stroke-width="2.8"/>
<line x1="1645.9" y1="1002.6" x2="1766.8" y2="887.0" stroke="#1B9E77" stroke-width="2.1"/>
<line x1="1645.9" y1="1157.5" x2="1766.8" y2="760.3" stroke="#D95F02" stroke-width="2.1"/>
<line x1="1645.9" y1="1097.8" x2="1766.8" y2="856.2" stroke="#7570B3" stroke-width="2.1"/>
<line x1="1645.9" y1="1216.3" x2="1766.8" y2="980.0" stroke="#E7298A" stroke-width="2.1"/>
<line x1="1645.9" y1="1091.2" x2="1766.8" y2="876.5" stroke="#5FA134" stroke-width="2.1"/>
<circle cx="1645.9" cy="1002.6" r="8.7" fill="#1B9E77" fill-opacity="0.5"/>
<circle cx="1766.8" cy="887.0" r="8.7" fill="#1B9E77" fill-opacity="0.5"/>
<circle cx="1645.9" cy="1157.5" r="8.7" fill="#D95F02" fill-opacity="0.5"/>
<circle cx="1766.8" cy="760.3" r="8.7" fill="#D95F02" fill-opacity="0.5"/>
<circle cx="1645.9" cy="1097.8" r="8.7" fill="#7570B3" fill-opacity="0.5"/>
<circle cx="1766.8" cy="856.2" r="8.7" fill="#7570B3" fill-opacity="0.5"/>
<circle cx="1645.9" cy="1216.3" r="8.7" fill="#E7298A" fill-opacity="0.5"/>
<circle cx="1766.8" cy="980.0" r="8.7" fill="#E7298A" fill-opacity="0.5"/>
<circle cx="1645.9" cy="1091.2" r="8.7" fill="#5FA134" fill-opacity="0.5"/>
<circle cx="1766.8" cy="876.5" r="8.7" fill="#5FA134" fill-opacity="0.5"/>
<rect x="1574.4" y="656.6" width="264.0" height="585.5" fill="none" stroke="#333" stroke-width="1.7"/>
<line x1="1645.9" y1="1242.1" x2="1645.9" y2="1251" stroke="#333" stroke-width="2.6"/>
<text x="1646.4" y="1280.5" font-size="30.5" text-anchor="middle" textLength="59.1" lengthAdjust="spacing" fill="#444">ASE</text>
<line x1="1766.8" y1="1242.1" x2="1766.8" y2="1251" stroke="#333" stroke-width="2.6"/>
<text x="1767.3" y="1280.5" font-size="30.5" text-anchor="middle" textLength="79.2" lengthAdjust="spacing" fill="#444">ASTS</text>
<text x="1723.6" y="641" font-size="24.5" text-anchor="middle" textLength="156.1" lengthAdjust="spacing" fill="#000">CTRL specific</text>
<line x1="1859.9" y1="701.275" x2="2119.8" y2="701.275" stroke="#EDEDED" stroke-width="1.5"/>
<line x1="1859.9" y1="843.725" x2="2119.8" y2="843.725" stroke="#EDEDED" stroke-width="1.5"/>
<line x1="1859.9" y1="986.1750000000001" x2="2119.8" y2="986.1750000000001" stroke="#EDEDED" stroke-width="1.5"/>
<line x1="1859.9" y1="1128.625" x2="2119.8" y2="1128.625" stroke="#EDEDED" stroke-width="1.5"/>
<line x1="1859.9" y1="772.5" x2="2119.8" y2="772.5" stroke="#EBEBEB" stroke-width="2.8"/>
<line x1="1859.9" y1="914.9499999999999" x2="2119.8" y2="914.9499999999999" stroke="#EBEBEB" stroke-width="2.8"/>
<line x1="1859.9" y1="1057.4" x2="2119.8" y2="1057.4" stroke="#EBEBEB" stroke-width="2.8"/>
<line x1="1859.9" y1="1199.85" x2="2119.8" y2="1199.85" stroke="#EBEBEB" stroke-width="2.8"/>
<line x1="1929.4" y1="658" x2="1929.4" y2="1240.6" stroke="#EBEBEB" stroke-width="2.8"/>
<line x1="2050.2" y1="658" x2="2050.2" y2="1240.6" stroke="#EBEBEB" stroke-width="2.8"/>
<line x1="1929.4" y1="1052.2" x2="2050.2" y2="886.7" stroke="#1B9E77" stroke-width="2.1"/>
<line x1="1929.4" y1="853.6" x2="2050.2" y2="760.7" stroke="#D95F02" stroke-width="2.1"/>
<line x1="1929.4" y1="875.4" x2="2050.2" y2="905.7" stroke="#7570B3" stroke-width="2.1"/>
<line x1="1929.4" y1="682.7" x2="2050.2" y2="760.7" stroke="#E7298A" stroke-width="2.1"/>
<line x1="1929.4" y1="838.4" x2="2050.2" y2="964.9" stroke="#5FA134" stroke-width="2.1"/>
<circle cx="1929.4" cy="1052.2" r="8.7" fill="#1B9E77" fill-opacity="0.5"/>
<circle cx="2050.2" cy="886.7" r="8.7" fill="#1B9E77" fill-opacity="0.5"/>
<circle cx="1929.4" cy="853.6" r="8.7" fill="#D95F02" fill-opacity="0.5"/>
<circle cx="2050.2" cy="760.7" r="8.7" fill="#D95F02" fill-opacity="0.5"/>
<circle cx="1929.4" cy="875.4" r="8.7" fill="#7570B3" fill-opacity="0.5"/>
<circle cx="2050.2" cy="905.7" r="8.7" fill="#7570B3" fill-opacity="0.5"/>
<circle cx="1929.4" cy="682.7" r="8.7" fill="#E7298A" fill-opacity="0.5"/>
<circle cx="2050.2" cy="760.7" r="8.7" fill="#E7298A" fill-opacity="0.5"/>
<circle cx="1929.4" cy="838.4" r="8.7" fill="#5FA134" fill-opacity="0.5"/>
<circle cx="2050.2" cy="964.9" r="8.7" fill="#5FA134" fill-opacity="0.5"/>
<rect x="1857.9" y="656.6" width="263.9" height="585.5" fill="none" stroke="#333" stroke-width="1.7"/>
<line x1="1929.4" y1="1242.1" x2="1929.4" y2="1251" stroke="#333" stroke-width="2.6"/>
<text x="1929.9" y="1280.5" font-size="30.5" text-anchor="middle" textLength="59.1" lengthAdjust="spacing" fill="#444">ASE</text>
<line x1="2050.2" y1="1242.1" x2="2050.2" y2="1251" stroke="#333" stroke-width="2.6"/>
<text x="2050.7" y="1280.5" font-size="30.5" text-anchor="middle" textLength="79.2" lengthAdjust="spacing" fill="#444">ASTS</text>
<text x="2006.1" y="641" font-size="24.5" text-anchor="middle" textLength="209.6" lengthAdjust="spacing" fill="#000">PTBP1 KD specific</text>
<line x1="1564.8" y1="772.5" x2="1574.4" y2="772.5" stroke="#333" stroke-width="2.8"/>
<text x="1556" y="774.0" font-size="29" text-anchor="end" textLength="39.5" lengthAdjust="spacing" fill="#444">0.5</text>
<line x1="1564.8" y1="914.9499999999999" x2="1574.4" y2="914.9499999999999" stroke="#333" stroke-width="2.8"/>
<text x="1556" y="916.4499999999999" font-size="29" text-anchor="end" textLength="39.5" lengthAdjust="spacing" fill="#444">0.4</text>
<line x1="1564.8" y1="1057.4" x2="1574.4" y2="1057.4" stroke="#333" stroke-width="2.8"/>
<text x="1556" y="1058.9" font-size="29" text-anchor="end" textLength="39.5" lengthAdjust="spacing" fill="#444">0.3</text>
<line x1="1564.8" y1="1199.85" x2="1574.4" y2="1199.85" stroke="#333" stroke-width="2.8"/>
<text x="1556" y="1201.35" font-size="29" text-anchor="end" textLength="39.5" lengthAdjust="spacing" fill="#444">0.2</text>
<text x="9" y="1425.5" font-size="39.5" font-weight="bold" textLength="28.5" lengthAdjust="spacingAndGlyphs" fill="#000">E</text>
<text x="23.75" y="1718" font-size="32.5" text-anchor="middle" transform="rotate(-90 23.75 1718)" textLength="68.75" lengthAdjust="spacing" fill="#000">FPM</text>
<text x="85" y="1436.25" font-size="32.3" textLength="310.5" lengthAdjust="spacing" fill="#000">CTRL (FDR = 0.0283)</text>
<text x="471.25" y="1436.25" font-size="35.3" textLength="86.75" lengthAdjust="spacing" fill="#000">Allele</text>
<rect x="602" y="1412" width="35.7" height="35.5" fill="#1F63AE"/>
<text x="652.3" y="1435" font-size="28.3" textLength="58" lengthAdjust="spacing" fill="#000">REF</text>
<rect x="724.25" y="1412" width="35.7" height="35.5" fill="#F0743E"/>
<text x="773.6" y="1435" font-size="28.3" textLength="51.5" lengthAdjust="spacing" fill="#000">ALT</text>
<clipPath id="cl0_0"><rect x="80.5" y="1463.25" width="744.75" height="168.95"/></clipPath>
<path d="M88.9 1633 L89.5 1506.85 L90.3 1468.8 L92.0 1465.8 L95.5 1464.8 L260.25 1464.8 L260.75 1481.62 L261.15 1633 L270.45 1633 L270.75 1506.85 L271.75 1472.8 L272.75 1464.8 L296.25 1464.8 L297.25 1498.44 L298.75 1569.08 L299.95 1616.18 L302.05 1633 L306.7 1633 L307 1532.08 L307.5 1528.72 L308 1464.8 L345.75 1464.8 L346.25 1481.62 L346.65 1633 L355.95 1633 L356.25 1532.08 L356.75 1528.72 L357.25 1464.8 L402.5 1464.8 L403 1481.62 L403.4 1633 L412.2 1633 L412.5 1532.08 L413.0 1528.72 L413.5 1464.8 L445.25 1464.8 L445.75 1481.62 L446.15 1633 L454.95 1633 L455.25 1532.65 L455.75 1529.31 L456.25 1465.75 L465.0 1465.75 L465.5 1482.47 L465.9 1633 L474.7 1633 L475 1559.09 L475.8 1550.88 L476.2 1485.17 L477 1468.75 L484.25 1468.75 L484.85 1590.3 L486.75 1610.01 L488.55 1633 L560.0 1633.0 L570.0 1632.5 L572.5 1631.25 L573.25 1536.25 L574.25 1514.25 L578.0 1514.25 L578.75 1488.25 L580.5 1487.5 L582.0 1464.25 L592.5 1464.25 L596.25 1466.25 L600.0 1468.75 L603.75 1470.5 L607.5 1473.75 L617.5 1475.0 L625.0 1476.25 L632.5 1477.0 L640.0 1478.0 L646.25 1482.0 L650.0 1483.75 L657.5 1485.5 L665.0 1486.25 L675.0 1489.0 L685.0 1491.25 L700.0 1490.75 L712.5 1493.0 L725.0 1495.0 L737.5 1498.0 L750.0 1500.75 L762.5 1501.75 L775.0 1502.5 L790.0 1503.0 L805.0 1502.5 L811.25 1505.0 L813.75 1508.75 L815.0 1512.5 L816.25 1522.5 L816.75 1633.0" fill="none" stroke="#7C93CD" stroke-width="2.0" stroke-linejoin="round" clip-path="url(#cl0_0)"/>
<path d="M125 1464.8 L125 1469.5 L131 1469.5 L131 1464.8" fill="none" stroke="#7C93CD" stroke-width="2.0" stroke-linejoin="round" clip-path="url(#cl0_0)"/>
<path d="M88.9 1633 L89.5 1533.25 L90.3 1504 L92.0 1501 L95.5 1500 L100 1500 L100 1499 L125 1499 L125 1498.3 L180 1498.3 L180 1497.6 L260.25 1497.6 L260.75 1511.14 L261.15 1633 L270.45 1633 L270.75 1531.3 L271.75 1505.4 L272.75 1497.4 L296.25 1497.4 L297.25 1524.52 L298.75 1581.47 L299.95 1619.44 L302.05 1633 L306.7 1633 L307 1551.64 L307.5 1548.93 L308 1497.4 L345.75 1497.4 L346.25 1510.96 L346.65 1633 L355.95 1633 L356.25 1551.64 L356.75 1548.93 L357.25 1497.4 L402.5 1497.4 L403 1510.96 L403.4 1633 L412.2 1633 L412.5 1551.64 L413.0 1548.93 L413.5 1497.4 L445.25 1497.4 L445.75 1510.96 L446.15 1633 L454.95 1633 L455.25 1553.2 L455.75 1550.54 L456.25 1500 L465.0 1500 L465.5 1513.3 L465.9 1633 L474.7 1633 L475 1575.4 L475.8 1569.0 L476.2 1517.8 L477 1505 L484.25 1505 L484.85 1599.72 L486.75 1615.08 L488.55 1633 L560.0 1633.0 L570.0 1632.5 L572.5 1631.25 L573.25 1537.5 L579.5 1536.25 L580.5 1515.0 L582.0 1496.25 L590.0 1497.5 L600.0 1500.0 L607.5 1502.5 L615.0 1505.0 L625.0 1507.5 L632.5 1509.0 L640.0 1510.5 L650.0 1514.25 L652.5 1517.5 L665.0 1518.0 L675.0 1518.25 L685.0 1519.5 L700.0 1518.75 L712.5 1519.25 L725.0 1520.0 L737.5 1521.5 L750.0 1523.0 L762.5 1524.5 L775.0 1525.5 L790.0 1526.0 L805.0 1525.0 L812.5 1526.25 L815.5 1530.0 L816.75 1633.0" fill="none" stroke="#F0743E" stroke-width="2.0" stroke-linejoin="round" stroke-opacity="0.57" clip-path="url(#cl0_0)"/>
<rect x="80.5" y="1463.25" width="744.75" height="169.75" fill="none" stroke="#BDBDC2" stroke-width="1.3"/>
<line x1="73.7" y1="1500.75" x2="80.5" y2="1500.75" stroke="#B3B3B3" stroke-width="1.1"/>
<text x="71.2" y="1509.45" font-size="25" text-anchor="end" fill="#444">400</text>
<line x1="73.7" y1="1567.2" x2="80.5" y2="1567.2" stroke="#B3B3B3" stroke-width="1.1"/>
<text x="71.2" y="1575.9" font-size="25" text-anchor="end" fill="#444">200</text>
<line x1="73.7" y1="1633" x2="80.5" y2="1633" stroke="#B3B3B3" stroke-width="1.1"/>
<text x="71.2" y="1641.7" font-size="25" text-anchor="end" fill="#444">0</text>
<text x="814.15" y="1623.75" font-size="24.3" text-anchor="end" textLength="222.5" lengthAdjust="spacing" fill="#000">ENST00000542575</text>
<clipPath id="cl0_1"><rect x="80.5" y="1643" width="744.75" height="169.7999999999999"/></clipPath>
<path d="M88.9 1813.6 L89.5 1687.53 L90.3 1649.5 L92.0 1646.5 L95.5 1645.5 L167.5 1645.5 L167.5 1640 L260.25 1640 L260.75 1657.36 L261.15 1813.6 L270.45 1813.6 L270.75 1687.53 L271.75 1653.5 L272.75 1645.5 L296.25 1645.5 L297.25 1679.12 L298.75 1749.72 L299.95 1796.79 L302.05 1813.6 L306.7 1813.6 L307 1709.44 L307.5 1705.97 L308 1640 L345.75 1640 L346.25 1657.36 L346.65 1813.6 L355.95 1813.6 L356.25 1712.74 L356.75 1709.38 L357.25 1645.5 L367.5 1645.5 L367.5 1640 L398.5 1640 L398.5 1645.5 L402.5 1645.5 L403 1662.31 L403.4 1813.6 L412.2 1813.6 L412.5 1712.74 L413.0 1709.38 L413.5 1645.5 L445.25 1645.5 L445.75 1662.31 L446.15 1813.6 L454.95 1813.6 L455.25 1712.74 L455.75 1709.38 L456.25 1645.5 L465.0 1645.5 L465.5 1662.31 L465.9 1813.6 L474.0 1813.75 L474.25 1745.0 L475.0 1743.75 L475.75 1670.0 L478.0 1667.5 L478.0 1666.25 L489.5 1666.25 L490.0 1645.0 L490.5 1637.5 L520.0 1637.5 L520.5 1661.25 L522.5 1662.5 L523.75 1668.75 L525.75 1670.0 L526.25 1692.5 L529.25 1694.5 L529.75 1712.5 L530.5 1728.75 L532.5 1735.0 L533.75 1740.0 L535.0 1742.5 L537.0 1746.25 L538.25 1765.0 L539.25 1780.0 L539.5 1813.75" fill="none" stroke="#7C93CD" stroke-width="2.0" stroke-linejoin="round" clip-path="url(#cl0_1)"/>
<path d="M122.5 1645.5 L122.5 1648.5 L125 1648.5 L125 1645.5" fill="none" stroke="#7C93CD" stroke-width="2.0" stroke-linejoin="round" clip-path="url(#cl0_1)"/>
<path d="M88.9 1813.6 L89.5 1769.65 L90.3 1759 L92.0 1756 L95.5 1755 L260.25 1755 L260.75 1760.86 L261.15 1813.6 L270.45 1813.6 L270.75 1769.65 L271.75 1763 L272.75 1755 L296.25 1755 L297.25 1766.72 L298.75 1791.33 L299.95 1807.74 L302.05 1813.6 L306.7 1813.6 L307 1778.44 L307.5 1777.27 L308 1755 L345.75 1755 L346.25 1760.86 L346.65 1813.6 L355.95 1813.6 L356.25 1778.44 L356.75 1777.27 L357.25 1755 L402.5 1755 L403 1760.86 L403.4 1813.6 L412.2 1813.6 L412.5 1778.44 L413.0 1777.27 L413.5 1755 L445.25 1755 L445.75 1760.86 L446.15 1813.6 L454.95 1813.6 L455.25 1778.44 L455.75 1777.27 L456.25 1755 L465.0 1755 L465.5 1760.86 L465.9 1813.6 L474.0 1813.75 L474.5 1770.0 L475.75 1762.5 L476.25 1762.0 L488.75 1762.0 L490.0 1755.5 L520.0 1755.5 L522.5 1758.75 L526.25 1759.5 L528.75 1766.25 L532.5 1767.0 L535.0 1782.5 L538.0 1783.0 L539.5 1813.75" fill="none" stroke="#F0743E" stroke-width="2.0" stroke-linejoin="round" stroke-opacity="0.57" clip-path="url(#cl0_1)"/>
<path d="M140.5 1755 L140.5 1758.8 L147.5 1758.8 L147.5 1755" fill="none" stroke="#F0743E" stroke-width="2.0" stroke-linejoin="round" stroke-opacity="0.57" clip-path="url(#cl0_1)"/>
<path d="M386.25 1755 L386.25 1758.8 L397.5 1758.8 L397.5 1755" fill="none" stroke="#F0743E" stroke-width="2.0" stroke-linejoin="round" stroke-opacity="0.57" clip-path="url(#cl0_1)"/>
<rect x="80.5" y="1643" width="744.75" height="170.6" fill="none" stroke="#BDBDC2" stroke-width="1.3"/>
<line x1="73.7" y1="1676.25" x2="80.5" y2="1676.25" stroke="#B3B3B3" stroke-width="1.1"/>
<text x="71.2" y="1684.95" font-size="25" text-anchor="end" fill="#444">40</text>
<line x1="73.7" y1="1745.5" x2="80.5" y2="1745.5" stroke="#B3B3B3" stroke-width="1.1"/>
<text x="71.2" y="1754.2" font-size="25" text-anchor="end" fill="#444">20</text>
<line x1="73.7" y1="1813.6" x2="80.5" y2="1813.6" stroke="#B3B3B3" stroke-width="1.1"/>
<text x="71.2" y="1822.3" font-size="25" text-anchor="end" fill="#444">0</text>
<text x="814.15" y="1803.75" font-size="24.3" text-anchor="end" textLength="222.5" lengthAdjust="spacing" fill="#000">ENST00000434726</text>
<clipPath id="cl0_2"><rect x="80.5" y="1822.6" width="744.75" height="170.2"/></clipPath>
<path d="M88.9 1993.6 L89.5 1869.03 L90.3 1831.5 L92.0 1828.5 L95.5 1827.5 L260.25 1827.5 L260.75 1844.11 L261.15 1993.6 L270.45 1993.6 L270.75 1869.03 L271.75 1835.5 L272.75 1827.5 L296.25 1827.5 L297.25 1860.72 L298.75 1930.48 L299.95 1976.99 L302.05 1993.6 L306.7 1993.6 L307 1893.94 L307.5 1890.62 L308 1827.5 L345.75 1827.5 L346.25 1844.11 L346.65 1993.6 L355.95 1993.6 L356.25 1893.94 L356.75 1890.62 L357.25 1827.5 L402.5 1827.5 L403 1844.11 L403.4 1993.6 L412.2 1993.6 L412.5 1893.94 L413.0 1890.62 L413.5 1827.5 L445.25 1827.5 L445.75 1844.11 L446.15 1993.6 L454.95 1993.6 L455.25 1893.94 L455.75 1890.62 L456.25 1827.5 L465.0 1827.5 L465.5 1844.11 L465.9 1993.6 L474.0 1993.75 L474.5 1927.5 L475.5 1905.0 L475.75 1833.75 L482.0 1833.25 L482.5 1838.75 L484.25 1839.5 L484.75 1985.0 L485.75 1988.75 L486.25 1993.75 L486.25 1996.25 L547.75 1996.25 L548.25 1910.0 L549.25 1839.5 L555.0 1838.75 L555.5 1849.5 L556.75 1850.5 L557.5 1860.0 L558.75 1862.5 L560.0 1948.75 L561.25 1950.0 L562.0 1993.75" fill="none" stroke="#7C93CD" stroke-width="2.0" stroke-linejoin="round" clip-path="url(#cl0_2)"/>
<path d="M122.5 1827.5 L122.5 1833.5 L125.5 1833.5 L125.5 1827.5" fill="none" stroke="#7C93CD" stroke-width="2.0" stroke-linejoin="round" clip-path="url(#cl0_2)"/>
<path d="M88.9 1993.6 L89.5 1869.03 L90.3 1831.5 L92.0 1828.5 L95.5 1827.5 L126.5 1827.5 L126.5 1815 L260.25 1815 L260.75 1832.86 L261.15 1993.6 L270.45 1993.6 L270.75 1859.65 L271.75 1823 L272.75 1815 L296.25 1815 L297.25 1850.72 L298.75 1925.73 L299.95 1975.74 L302.05 1993.6 L306.7 1993.6 L307 1886.44 L307.5 1882.87 L308 1815 L345.75 1815 L346.25 1832.86 L346.65 1993.6 L355.95 1993.6 L356.25 1886.44 L356.75 1882.87 L357.25 1815 L402.5 1815 L403 1832.86 L403.4 1993.6 L412.2 1993.6 L412.5 1886.44 L413.0 1882.87 L413.5 1815 L445.25 1815 L445.75 1832.86 L446.15 1993.6 L454.95 1993.6 L455.25 1893.94 L455.75 1890.62 L456.25 1827.5 L465.0 1827.5 L465.5 1844.11 L465.9 1993.6 L474.0 1993.75 L474.5 1925.0 L475.0 1902.5 L476.25 1885.0 L477.0 1839.5 L484.25 1838.75 L484.75 1985.0 L485.75 1988.75 L486.25 1993.75 L486.25 1996.25 L547.75 1996.25 L548.25 1910.0 L549.5 1828.0 L555.5 1827.5 L556.5 1833.75 L558.0 1834.5 L559.0 1839.5 L560.0 1915.0 L561.0 1960.0 L562.0 1982.5 L567.5 1982.5 L568.0 1988.0 L572.5 1988.0 L574.25 1993.75" fill="none" stroke="#F0743E" stroke-width="2.0" stroke-linejoin="round" stroke-opacity="0.57" clip-path="url(#cl0_2)"/>
<rect x="80.5" y="1822.6" width="744.75" height="171.0" fill="none" stroke="#BDBDC2" stroke-width="1.3"/>
<line x1="73.7" y1="1827.5" x2="80.5" y2="1827.5" stroke="#B3B3B3" stroke-width="1.1"/>
<text x="71.2" y="1836.2" font-size="25" text-anchor="end" fill="#444">30</text>
<line x1="73.7" y1="1883.25" x2="80.5" y2="1883.25" stroke="#B3B3B3" stroke-width="1.1"/>
<text x="71.2" y="1891.95" font-size="25" text-anchor="end" fill="#444">20</text>
<line x1="73.7" y1="1938.75" x2="80.5" y2="1938.75" stroke="#B3B3B3" stroke-width="1.1"/>
<text x="71.2" y="1947.45" font-size="25" text-anchor="end" fill="#444">10</text>
<line x1="73.7" y1="1993.6" x2="80.5" y2="1993.6" stroke="#B3B3B3" stroke-width="1.1"/>
<text x="71.2" y="2002.3" font-size="25" text-anchor="end" fill="#444">0</text>
<text x="814.15" y="1988.75" font-size="24.3" text-anchor="end" textLength="222.5" lengthAdjust="spacing" fill="#000">ENST00000412532</text>
<line x1="90" y1="2028.25" x2="579.5" y2="2028.25" stroke="#5A5E5E" stroke-width="1.6"/>
<rect x="90" y="2020.75" width="124.25" height="15" fill="#B9B9B9"/>
<rect x="214.25" y="2020.75" width="47.0" height="15" fill="#5A5E5E"/>
<rect x="271.25" y="2020.75" width="26.75" height="15" fill="#5A5E5E"/>
<rect x="308" y="2020.75" width="38.25" height="15" fill="#5A5E5E"/>
<rect x="356.75" y="2020.75" width="45.75" height="15" fill="#5A5E5E"/>
<rect x="413" y="2020.75" width="32.6" height="15" fill="#5A5E5E"/>
<rect x="455.75" y="2020.75" width="9.25" height="15" fill="#5A5E5E"/>
<rect x="475.25" y="2020.75" width="8.15" height="15" fill="#5A5E5E"/>
<rect x="579.5" y="2020.75" width="111.75" height="15" fill="#5A5E5E"/>
<rect x="691.25" y="2020.75" width="124.5" height="15" fill="#B9B9B9"/>
<line x1="90.5" y1="2059.0" x2="493.25" y2="2059.0" stroke="#5A5E5E" stroke-width="1.6"/>
<rect x="90.5" y="2051.5" width="123.75" height="15" fill="#B9B9B9"/>
<rect x="214.25" y="2051.5" width="47.0" height="15" fill="#5A5E5E"/>
<rect x="271.25" y="2051.5" width="26.75" height="15" fill="#5A5E5E"/>
<rect x="308" y="2051.5" width="38.25" height="15" fill="#5A5E5E"/>
<rect x="356.75" y="2051.5" width="45.75" height="15" fill="#5A5E5E"/>
<rect x="413" y="2051.5" width="32.6" height="15" fill="#5A5E5E"/>
<rect x="455.75" y="2051.5" width="9.25" height="15" fill="#5A5E5E"/>
<rect x="493.25" y="2051.5" width="45.25" height="15" fill="#B9B9B9"/>
<line x1="98.25" y1="2090.0" x2="548.75" y2="2090.0" stroke="#5A5E5E" stroke-width="1.6"/>
<rect x="98.25" y="2082.5" width="116.0" height="15" fill="#B9B9B9"/>
<rect x="214.25" y="2082.5" width="47.0" height="15" fill="#5A5E5E"/>
<rect x="271.25" y="2082.5" width="26.75" height="15" fill="#5A5E5E"/>
<rect x="308" y="2082.5" width="38.25" height="15" fill="#5A5E5E"/>
<rect x="356.75" y="2082.5" width="45.75" height="15" fill="#5A5E5E"/>
<rect x="413" y="2082.5" width="27.2" height="15" fill="#5A5E5E"/>
<rect x="440.2" y="2082.5" width="5.4" height="15" fill="#B9B9B9"/>
<rect x="455.75" y="2082.5" width="9.25" height="15" fill="#B9B9B9"/>
<rect x="475.25" y="2082.5" width="8.15" height="15" fill="#B9B9B9"/>
<rect x="548.75" y="2082.5" width="20.75" height="15" fill="#B9B9B9"/>
<line x1="450" y1="1996.3" x2="450" y2="2015.5" stroke="#AEB4B2" stroke-width="1.3"/>
<path d="M439.3 2015 L460.8 2015 L450 2021.5 Z" fill="#AEB4B2"/>
<line x1="278.25" y1="2118" x2="278.25" y2="2121.5" stroke="#B3B3B3" stroke-width="1.1"/>
<text x="278.25" y="2143" font-size="20" text-anchor="middle" textLength="44.75" lengthAdjust="spacing" fill="#666">3000</text>
<line x1="475.75" y1="2118" x2="475.75" y2="2121.5" stroke="#B3B3B3" stroke-width="1.1"/>
<text x="475.75" y="2143" font-size="20" text-anchor="middle" textLength="44.75" lengthAdjust="spacing" fill="#666">2000</text>
<line x1="674.25" y1="2118" x2="674.25" y2="2121.5" stroke="#B3B3B3" stroke-width="1.1"/>
<text x="674.25" y="2143" font-size="20" text-anchor="middle" textLength="44.75" lengthAdjust="spacing" fill="#666">1000</text>
<text x="464.25" y="2172" font-size="24.7" text-anchor="middle" textLength="360" lengthAdjust="spacing" fill="#222">Distance from SLC1A5 start (bp)</text>
<text x="957" y="1436.25" font-size="32.3" textLength="361.75" lengthAdjust="spacing" fill="#000">PTBP1 KD (FDR = 0.217)</text>
<text x="1361.2" y="1436.25" font-size="35.3" textLength="86.75" lengthAdjust="spacing" fill="#000">Allele</text>
<rect x="1491.95" y="1412" width="35.7" height="35.5" fill="#1F63AE"/>
<text x="1542.25" y="1435" font-size="28.3" textLength="58" lengthAdjust="spacing" fill="#000">REF</text>
<rect x="1614.2" y="1412" width="35.7" height="35.5" fill="#F0743E"/>
<text x="1663.55" y="1435" font-size="28.3" textLength="51.5" lengthAdjust="spacing" fill="#000">ALT</text>
<clipPath id="cl892_0"><rect x="972.75" y="1463.25" width="744.75" height="168.95"/></clipPath>
<path d="M981.15 1633 L981.75 1506.44 L982.55 1468.25 L984.25 1465.25 L987.75 1464.25 L1152.5 1464.25 L1153.0 1481.12 L1153.4 1633 L1162.7 1633 L1163.0 1506.44 L1164.0 1472.25 L1165.0 1464.25 L1188.5 1464.25 L1189.5 1498.0 L1191.0 1568.88 L1192.2 1616.12 L1194.3 1633 L1198.95 1633 L1199.25 1531.75 L1199.75 1528.38 L1200.25 1464.25 L1238.0 1464.25 L1238.5 1481.12 L1238.9 1633 L1248.2 1633 L1248.5 1531.75 L1249.0 1528.38 L1249.5 1464.25 L1294.75 1464.25 L1295.25 1481.12 L1295.65 1633 L1304.45 1633 L1304.75 1531.75 L1305.25 1528.38 L1305.75 1464.25 L1337.5 1464.25 L1338.0 1481.12 L1338.4 1633 L1347.2 1633 L1347.5 1532.95 L1348.0 1529.62 L1348.5 1466.25 L1357.25 1466.25 L1357.75 1482.92 L1358.15 1633 L1366.95 1633 L1367.25 1559.2 L1368.05 1551.0 L1368.45 1485.4 L1369.25 1469 L1376.5 1469 L1377.1 1590.36 L1379.0 1610.04 L1380.8 1633 L1460.0 1633.0 L1463.75 1632.0 L1465.0 1631.25 L1465.5 1511.75 L1471.25 1511.75 L1471.5 1495.0 L1472.5 1485.0 L1474.25 1464.25 L1485.0 1464.25 L1492.5 1467.5 L1500.0 1470.0 L1512.5 1472.5 L1525.0 1475.0 L1535.0 1478.75 L1540.0 1481.25 L1543.75 1486.25 L1557.5 1488.0 L1575.0 1490.0 L1600.0 1492.0 L1625.0 1493.75 L1650.0 1495.5 L1675.0 1497.0 L1687.5 1496.0 L1695.0 1495.5 L1702.5 1497.5 L1705.0 1502.5 L1706.25 1507.5 L1708.75 1520.0 L1709.25 1633.0" fill="none" stroke="#7C93CD" stroke-width="2.0" stroke-linejoin="round" clip-path="url(#cl892_0)"/>
<path d="M1015.0 1464.25 L1015.0 1467.75 L1017.5 1467.75 L1017.5 1464.25" fill="none" stroke="#7C93CD" stroke-width="2.0" stroke-linejoin="round" clip-path="url(#cl892_0)"/>
<path d="M1020.0 1464.25 L1020.0 1469.05 L1022.5 1469.05 L1022.5 1464.25" fill="none" stroke="#7C93CD" stroke-width="2.0" stroke-linejoin="round" clip-path="url(#cl892_0)"/>
<path d="M981.15 1633 L981.75 1517.31 L982.55 1482.75 L984.25 1479.75 L987.75 1478.75 L989.25 1478.75 L989.25 1477.8 L1000.0 1477.8 L1000.0 1477 L1052.25 1477 L1052.25 1476.6 L1112.25 1476.6 L1112.25 1476.25 L1152.5 1476.25 L1153.0 1491.92 L1153.4 1633 L1162.7 1633 L1163.0 1515.44 L1164.0 1484.25 L1165.0 1476.25 L1188.5 1476.25 L1189.5 1507.6 L1191.0 1573.43 L1192.2 1617.33 L1194.3 1633 L1198.95 1633 L1199.25 1538.95 L1199.75 1535.82 L1200.25 1476.25 L1238.0 1476.25 L1238.5 1491.92 L1238.9 1633 L1248.2 1633 L1248.5 1538.95 L1249.0 1535.82 L1249.5 1476.25 L1294.75 1476.25 L1295.25 1491.92 L1295.65 1633 L1304.45 1633 L1304.75 1538.95 L1305.25 1535.82 L1305.75 1476.25 L1337.5 1476.25 L1338.0 1491.92 L1338.4 1633 L1347.2 1633 L1347.5 1542.55 L1348.0 1539.54 L1348.5 1482.25 L1357.25 1482.25 L1357.75 1497.33 L1358.15 1633 L1366.95 1633 L1367.25 1567.08 L1368.05 1559.75 L1368.45 1501.15 L1369.25 1486.5 L1376.5 1486.5 L1377.1 1594.91 L1379.0 1612.49 L1380.8 1633 L1460.0 1633.0 L1463.75 1632.0 L1465.0 1631.25 L1465.5 1518.75 L1471.25 1518.75 L1472.5 1490.0 L1474.25 1477.5 L1482.5 1477.5 L1490.0 1480.0 L1497.5 1484.5 L1507.5 1488.75 L1525.0 1492.5 L1540.0 1496.25 L1547.5 1499.25 L1575.0 1501.75 L1600.0 1504.5 L1625.0 1507.5 L1662.5 1510.5 L1675.0 1510.0 L1690.0 1508.75 L1705.0 1511.75 L1707.5 1517.5 L1708.75 1525.0 L1709.25 1633.0" fill="none" stroke="#F0743E" stroke-width="2.0" stroke-linejoin="round" stroke-opacity="0.57" clip-path="url(#cl892_0)"/>
<path d="M1016.25 1477 L1016.25 1479.3 L1019.75 1479.3 L1019.75 1477" fill="none" stroke="#F0743E" stroke-width="2.0" stroke-linejoin="round" stroke-opacity="0.57" clip-path="url(#cl892_0)"/>
<rect x="972.75" y="1463.25" width="744.75" height="169.75" fill="none" stroke="#BDBDC2" stroke-width="1.3"/>
<line x1="965.95" y1="1470" x2="972.75" y2="1470" stroke="#B3B3B3" stroke-width="1.1"/>
<text x="963.45" y="1478.7" font-size="25" text-anchor="end" fill="#444">600</text>
<line x1="965.95" y1="1524.5" x2="972.75" y2="1524.5" stroke="#B3B3B3" stroke-width="1.1"/>
<text x="963.45" y="1533.2" font-size="25" text-anchor="end" fill="#444">400</text>
<line x1="965.95" y1="1578.75" x2="972.75" y2="1578.75" stroke="#B3B3B3" stroke-width="1.1"/>
<text x="963.45" y="1587.45" font-size="25" text-anchor="end" fill="#444">200</text>
<line x1="965.95" y1="1633" x2="972.75" y2="1633" stroke="#B3B3B3" stroke-width="1.1"/>
<text x="963.45" y="1641.7" font-size="25" text-anchor="end" fill="#444">0</text>
<text x="1707.7" y="1623.75" font-size="24.3" text-anchor="end" textLength="222.5" lengthAdjust="spacing" fill="#000">ENST00000542575</text>
<clipPath id="cl892_1"><rect x="972.75" y="1643" width="744.75" height="169.7999999999999"/></clipPath>
<path d="M981.15 1813.6 L981.75 1688.2 L982.55 1650.4 L984.25 1647.4 L987.75 1646.4 L1049.65 1646.4 L1049.65 1638 L1152.5 1638 L1153.0 1655.56 L1153.4 1813.6 L1162.7 1813.6 L1163.0 1681.9 L1164.0 1646 L1165.0 1638 L1175.75 1638 L1175.75 1646.4 L1188.5 1646.4 L1189.5 1679.84 L1191.0 1750.06 L1192.2 1796.88 L1194.3 1813.6 L1198.95 1813.6 L1199.25 1708.24 L1199.75 1704.73 L1200.25 1638 L1238.0 1638 L1238.5 1655.56 L1238.9 1813.6 L1248.2 1813.6 L1248.5 1708.24 L1249.0 1704.73 L1249.5 1638 L1294.75 1638 L1295.25 1655.56 L1295.65 1813.6 L1304.45 1813.6 L1304.75 1708.24 L1305.25 1704.73 L1305.75 1638 L1337.5 1638 L1338.0 1655.56 L1338.4 1813.6 L1347.2 1813.6 L1347.5 1713.28 L1348.0 1709.94 L1348.5 1646.4 L1357.25 1646.4 L1357.75 1663.12 L1358.15 1813.6 L1365.45 1813.41 L1366.08 1756.05 L1367.02 1749.75 L1367.97 1661.51 L1381.52 1661.51 L1382.15 1646.39 L1393.18 1646.39 L1393.49 1636.3 L1407.36 1636.3 L1407.99 1646.39 L1412.09 1646.39 L1412.72 1655.21 L1415.24 1664.66 L1416.81 1670.97 L1418.39 1693.03 L1421.54 1697.75 L1423.11 1708.78 L1424.69 1733.99 L1425.64 1740.3 L1427.84 1751.32 L1429.42 1756.05 L1430.36 1778.11 L1430.99 1787.56 L1431.31 1813.41" fill="none" stroke="#7C93CD" stroke-width="2.0" stroke-linejoin="round" clip-path="url(#cl892_1)"/>
<path d="M985.05 1646.4 L985.05 1650.4 L987.65 1650.4 L987.65 1646.4" fill="none" stroke="#7C93CD" stroke-width="2.0" stroke-linejoin="round" clip-path="url(#cl892_1)"/>
<path d="M1014.05 1646.4 L1014.05 1649.4 L1018.25 1649.4 L1018.25 1646.4" fill="none" stroke="#7C93CD" stroke-width="2.0" stroke-linejoin="round" clip-path="url(#cl892_1)"/>
<path d="M1020.65 1646.4 L1020.65 1654.4 L1023.55 1654.4 L1023.55 1646.4" fill="none" stroke="#7C93CD" stroke-width="2.0" stroke-linejoin="round" clip-path="url(#cl892_1)"/>
<path d="M981.15 1813.6 L981.75 1743.7 L982.55 1724.4 L984.25 1721.4 L987.75 1720.4 L1063.85 1720.4 L1063.85 1716 L1152.5 1716 L1153.0 1725.76 L1153.4 1813.6 L1162.7 1813.6 L1163.0 1740.4 L1164.0 1724 L1165.0 1716 L1188.5 1716 L1189.5 1735.52 L1191.0 1776.51 L1192.2 1803.84 L1194.3 1813.6 L1198.95 1813.6 L1199.25 1755.04 L1199.75 1753.09 L1200.25 1716 L1238.0 1716 L1238.5 1725.76 L1238.9 1813.6 L1248.2 1813.6 L1248.5 1755.04 L1249.0 1753.09 L1249.5 1716 L1294.75 1716 L1295.25 1725.76 L1295.65 1813.6 L1304.45 1813.6 L1304.75 1755.04 L1305.25 1753.09 L1305.75 1716 L1331.75 1716 L1331.75 1720.4 L1337.5 1720.4 L1338.0 1729.72 L1338.4 1813.6 L1347.2 1813.6 L1347.5 1757.68 L1348.0 1755.82 L1348.5 1720.4 L1357.25 1720.4 L1357.75 1729.72 L1358.15 1813.6 L1365.45 1813.41 L1366.08 1762.35 L1367.97 1740.3 L1371.75 1739.67 L1372.69 1736.51 L1381.2 1735.57 L1382.15 1716.03 L1412.09 1716.03 L1413.03 1727.69 L1415.87 1728.32 L1416.81 1738.72 L1418.39 1756.05 L1419.96 1771.81 L1422.48 1778.11 L1424.69 1787.56 L1426.9 1790.72 L1429.42 1791.35 L1430.99 1813.41" fill="none" stroke="#F0743E" stroke-width="2.0" stroke-linejoin="round" stroke-opacity="0.57" clip-path="url(#cl892_1)"/>
<path d="M1021.25 1720.4 L1021.25 1724.4 L1023.55 1724.4 L1023.55 1720.4" fill="none" stroke="#F0743E" stroke-width="2.0" stroke-linejoin="round" stroke-opacity="0.57" clip-path="url(#cl892_1)"/>
<rect x="972.75" y="1643" width="744.75" height="170.6" fill="none" stroke="#BDBDC2" stroke-width="1.3"/>
<line x1="965.95" y1="1657.7" x2="972.75" y2="1657.7" stroke="#B3B3B3" stroke-width="1.1"/>
<text x="963.45" y="1666.4" font-size="25" text-anchor="end" fill="#444">40</text>
<line x1="965.95" y1="1696.8" x2="972.75" y2="1696.8" stroke="#B3B3B3" stroke-width="1.1"/>
<text x="963.45" y="1705.5" font-size="25" text-anchor="end" fill="#444">30</text>
<line x1="965.95" y1="1735.9" x2="972.75" y2="1735.9" stroke="#B3B3B3" stroke-width="1.1"/>
<text x="963.45" y="1744.6000000000001" font-size="25" text-anchor="end" fill="#444">20</text>
<line x1="965.95" y1="1775" x2="972.75" y2="1775" stroke="#B3B3B3" stroke-width="1.1"/>
<text x="963.45" y="1783.7" font-size="25" text-anchor="end" fill="#444">10</text>
<line x1="965.95" y1="1813.6" x2="972.75" y2="1813.6" stroke="#B3B3B3" stroke-width="1.1"/>
<text x="963.45" y="1822.3" font-size="25" text-anchor="end" fill="#444">0</text>
<text x="1707.7" y="1803.75" font-size="24.3" text-anchor="end" textLength="222.5" lengthAdjust="spacing" fill="#000">ENST00000434726</text>
<clipPath id="cl892_2"><rect x="972.75" y="1822.6" width="744.75" height="170.2"/></clipPath>
<path d="M981.15 1993.6 L981.75 1865.05 L982.55 1826.2 L984.25 1823.2 L987.75 1822.2 L1152.5 1822.2 L1153.0 1839.34 L1153.4 1993.6 L1162.7 1993.6 L1163.0 1865.05 L1164.0 1830.2 L1165.0 1822.2 L1188.5 1822.2 L1189.5 1856.48 L1191.0 1928.47 L1192.2 1976.46 L1194.3 1993.6 L1198.95 1993.6 L1199.25 1890.76 L1199.75 1887.33 L1200.25 1822.2 L1238.0 1822.2 L1238.5 1839.34 L1238.9 1993.6 L1248.2 1993.6 L1248.5 1890.76 L1249.0 1887.33 L1249.5 1822.2 L1294.75 1822.2 L1295.25 1839.34 L1295.65 1993.6 L1304.45 1993.6 L1304.75 1890.76 L1305.25 1887.33 L1305.75 1822.2 L1337.5 1822.2 L1338.0 1839.34 L1338.4 1993.6 L1347.2 1993.6 L1347.5 1890.76 L1348.0 1887.33 L1348.5 1822.2 L1357.25 1822.2 L1357.75 1839.34 L1358.15 1993.6 L1365.13 1997.13 L1365.76 1913.62 L1366.71 1901.01 L1367.65 1827.9 L1375.53 1827.9 L1376.16 1948.28 L1377.11 1997.13 L1377.11 1997.13 L1439.5 1997.13 L1440.13 1882.1 L1441.39 1834.83 L1446.75 1834.83 L1447.69 1840.51 L1449.27 1841.77 L1450.22 1853.11 L1451.16 1854.37 L1451.48 1968.76 L1452.74 1970.34 L1453.37 1987.67 L1459.35 1987.67 L1459.67 1997.13" fill="none" stroke="#7C93CD" stroke-width="2.0" stroke-linejoin="round" clip-path="url(#cl892_2)"/>
<path d="M1016.65 1822.2 L1016.65 1828.5 L1019.75 1828.5 L1019.75 1822.2" fill="none" stroke="#7C93CD" stroke-width="2.0" stroke-linejoin="round" clip-path="url(#cl892_2)"/>
<path d="M1104.25 1822.2 L1104.25 1828.5 L1106.75 1828.5 L1106.75 1822.2" fill="none" stroke="#7C93CD" stroke-width="2.0" stroke-linejoin="round" clip-path="url(#cl892_2)"/>
<path d="M1119.95 1822.2 L1119.95 1828.5 L1122.45 1828.5 L1122.45 1822.2" fill="none" stroke="#7C93CD" stroke-width="2.0" stroke-linejoin="round" clip-path="url(#cl892_2)"/>
<path d="M981.15 1993.6 L981.75 1869.78 L982.55 1832.5 L984.25 1829.5 L987.75 1828.5 L1031.25 1828.5 L1031.25 1831.5 L1032.75 1831.5 L1032.75 1834.8 L1051.75 1834.8 L1051.75 1834.8 L1053.25 1834.8 L1053.25 1831.5 L1053.75 1831.5 L1053.75 1828.5 L1152.5 1828.5 L1153.0 1845.01 L1153.4 1993.6 L1162.7 1993.6 L1163.0 1869.78 L1164.0 1836.5 L1165.0 1828.5 L1188.5 1828.5 L1189.5 1861.52 L1191.0 1930.86 L1192.2 1977.09 L1194.3 1993.6 L1198.95 1993.6 L1199.25 1894.54 L1199.75 1891.24 L1200.25 1828.5 L1238.0 1828.5 L1238.5 1845.01 L1238.9 1993.6 L1248.2 1993.6 L1248.5 1894.54 L1249.0 1891.24 L1249.5 1828.5 L1294.75 1828.5 L1295.25 1845.01 L1295.65 1993.6 L1304.45 1993.6 L1304.75 1894.54 L1305.25 1891.24 L1305.75 1828.5 L1337.5 1828.5 L1338.0 1845.01 L1338.4 1993.6 L1347.2 1993.6 L1347.5 1894.54 L1348.0 1891.24 L1348.5 1828.5 L1357.25 1828.5 L1357.75 1845.01 L1358.15 1993.6 L1365.13 1997.13 L1365.76 1913.62 L1366.71 1901.01 L1367.65 1827.9 L1375.53 1827.9 L1376.16 1948.28 L1377.11 1997.13 L1377.11 1997.13 L1439.5 1997.13 L1440.13 1882.1 L1441.39 1834.83 L1446.75 1834.83 L1447.69 1840.51 L1449.27 1841.77 L1450.22 1853.11 L1451.16 1854.37 L1451.48 1968.76 L1452.74 1970.34 L1453.37 1987.67 L1454.63 1997.13" fill="none" stroke="#F0743E" stroke-width="2.0" stroke-linejoin="round" stroke-opacity="0.57" clip-path="url(#cl892_2)"/>
<rect x="972.75" y="1822.6" width="744.75" height="171.0" fill="none" stroke="#BDBDC2" stroke-width="1.3"/>
<line x1="965.95" y1="1871.4" x2="972.75" y2="1871.4" stroke="#B3B3B3" stroke-width="1.1"/>
<text x="963.45" y="1880.1000000000001" font-size="25" text-anchor="end" fill="#444">20</text>
<line x1="965.95" y1="1932.5" x2="972.75" y2="1932.5" stroke="#B3B3B3" stroke-width="1.1"/>
<text x="963.45" y="1941.2" font-size="25" text-anchor="end" fill="#444">10</text>
<line x1="965.95" y1="1993.6" x2="972.75" y2="1993.6" stroke="#B3B3B3" stroke-width="1.1"/>
<text x="963.45" y="2002.3" font-size="25" text-anchor="end" fill="#444">0</text>
<text x="1707.7" y="1988.75" font-size="24.3" text-anchor="end" textLength="222.5" lengthAdjust="spacing" fill="#000">ENST00000412532</text>
<line x1="982.25" y1="2028.25" x2="1471.75" y2="2028.25" stroke="#5A5E5E" stroke-width="1.6"/>
<rect x="982.25" y="2020.75" width="124.25" height="15" fill="#B9B9B9"/>
<rect x="1106.5" y="2020.75" width="47.0" height="15" fill="#5A5E5E"/>
<rect x="1163.5" y="2020.75" width="26.75" height="15" fill="#5A5E5E"/>
<rect x="1200.25" y="2020.75" width="38.25" height="15" fill="#5A5E5E"/>
<rect x="1249.0" y="2020.75" width="45.75" height="15" fill="#5A5E5E"/>
<rect x="1305.25" y="2020.75" width="32.6" height="15" fill="#5A5E5E"/>
<rect x="1348.0" y="2020.75" width="9.25" height="15" fill="#5A5E5E"/>
<rect x="1367.5" y="2020.75" width="8.15" height="15" fill="#5A5E5E"/>
<rect x="1471.75" y="2020.75" width="111.75" height="15" fill="#5A5E5E"/>
<rect x="1583.5" y="2020.75" width="124.5" height="15" fill="#B9B9B9"/>
<line x1="982.75" y1="2059.0" x2="1385.5" y2="2059.0" stroke="#5A5E5E" stroke-width="1.6"/>
<rect x="982.75" y="2051.5" width="123.75" height="15" fill="#B9B9B9"/>
<rect x="1106.5" y="2051.5" width="47.0" height="15" fill="#5A5E5E"/>
<rect x="1163.5" y="2051.5" width="26.75" height="15" fill="#5A5E5E"/>
<rect x="1200.25" y="2051.5" width="38.25" height="15" fill="#5A5E5E"/>
<rect x="1249.0" y="2051.5" width="45.75" height="15" fill="#5A5E5E"/>
<rect x="1305.25" y="2051.5" width="32.6" height="15" fill="#5A5E5E"/>
<rect x="1348.0" y="2051.5" width="9.25" height="15" fill="#5A5E5E"/>
<rect x="1385.5" y="2051.5" width="45.25" height="15" fill="#B9B9B9"/>
<line x1="990.5" y1="2090.0" x2="1441.0" y2="2090.0" stroke="#5A5E5E" stroke-width="1.6"/>
<rect x="990.5" y="2082.5" width="116.0" height="15" fill="#B9B9B9"/>
<rect x="1106.5" y="2082.5" width="47.0" height="15" fill="#5A5E5E"/>
<rect x="1163.5" y="2082.5" width="26.75" height="15" fill="#5A5E5E"/>
<rect x="1200.25" y="2082.5" width="38.25" height="15" fill="#5A5E5E"/>
<rect x="1249.0" y="2082.5" width="45.75" height="15" fill="#5A5E5E"/>
<rect x="1305.25" y="2082.5" width="27.2" height="15" fill="#5A5E5E"/>
<rect x="1332.45" y="2082.5" width="5.4" height="15" fill="#B9B9B9"/>
<rect x="1348.0" y="2082.5" width="9.25" height="15" fill="#B9B9B9"/>
<rect x="1367.5" y="2082.5" width="8.15" height="15" fill="#B9B9B9"/>
<rect x="1441.0" y="2082.5" width="20.75" height="15" fill="#B9B9B9"/>
<line x1="1342.25" y1="1996.3" x2="1342.25" y2="2015.5" stroke="#AEB4B2" stroke-width="1.3"/>
<path d="M1331.55 2015 L1353.05 2015 L1342.25 2021.5 Z" fill="#AEB4B2"/>
<line x1="1170.5" y1="2118" x2="1170.5" y2="2121.5" stroke="#B3B3B3" stroke-width="1.1"/>
<text x="1170.5" y="2143" font-size="20" text-anchor="middle" textLength="44.75" lengthAdjust="spacing" fill="#666">3000</text>
<line x1="1368.0" y1="2118" x2="1368.0" y2="2121.5" stroke="#B3B3B3" stroke-width="1.1"/>
<text x="1368.0" y="2143" font-size="20" text-anchor="middle" textLength="44.75" lengthAdjust="spacing" fill="#666">2000</text>
<line x1="1566.5" y1="2118" x2="1566.5" y2="2121.5" stroke="#B3B3B3" stroke-width="1.1"/>
<text x="1566.5" y="2143" font-size="20" text-anchor="middle" textLength="44.75" lengthAdjust="spacing" fill="#666">1000</text>
<text x="1356.5" y="2172" font-size="24.7" text-anchor="middle" textLength="360" lengthAdjust="spacing" fill="#222">Distance from SLC1A5 start (bp)</text>
</svg>
</body></html>
